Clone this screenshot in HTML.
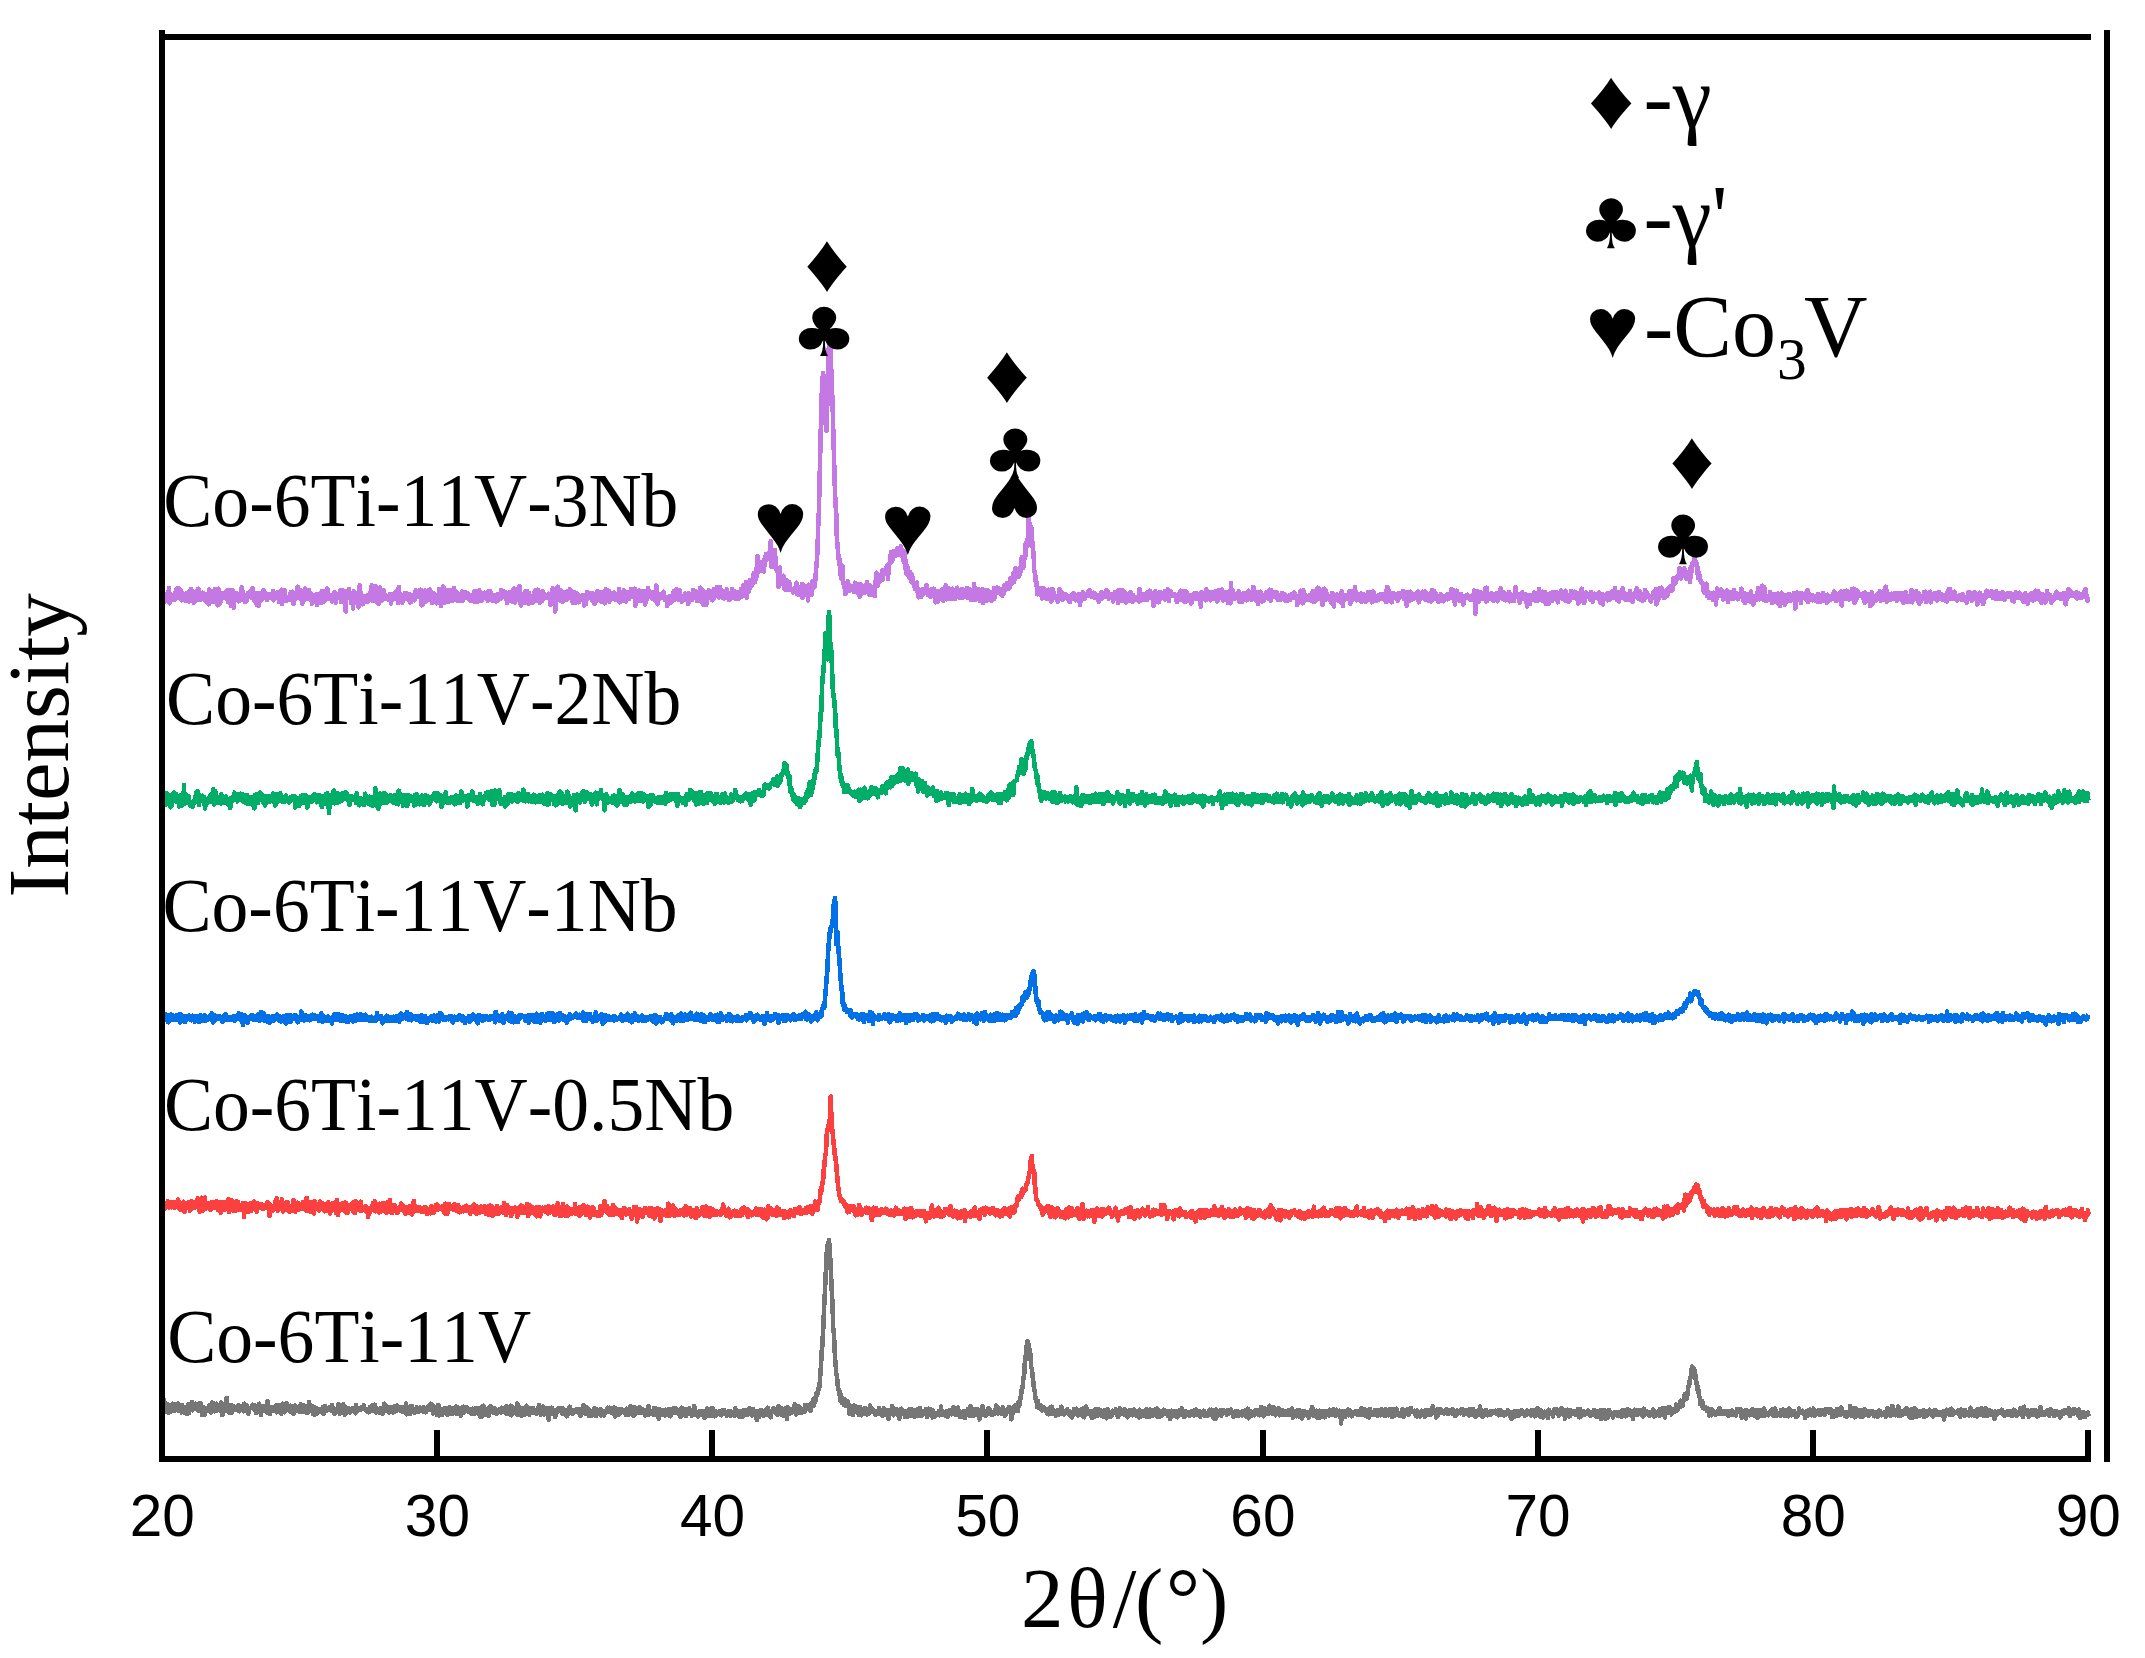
<!DOCTYPE html>
<html lang="en"><head><meta charset="utf-8"><title>XRD patterns</title>
<style>html,body{margin:0;padding:0;background:#fff}svg{display:block}text{fill:#000;font-kerning:none}.ser{font-family:"Liberation Serif",serif}.san{font-family:"Liberation Sans",sans-serif}</style></head><body>
<svg width="2145" height="1658" viewBox="0 0 2145 1658">
<rect width="2145" height="1658" fill="#fff"/>
<g id="curves" shape-rendering="crispEdges">
<polyline fill="none" stroke="#767676" stroke-width="4.6" stroke-linejoin="round" stroke-linecap="butt" points="163.5,1409.9 164.1,1399.6 164.7,1406.8 165.3,1411.5 165.9,1404.3 166.5,1407.8 167.1,1411.7 167.7,1404.5 168.3,1409.8 168.9,1412.8 169.5,1408.9 170.1,1412.1 170.7,1407.3 171.3,1406.6 171.9,1408.9 172.5,1403.8 173.1,1410.7 173.7,1407.8 174.3,1404.2 174.9,1410.8 175.5,1409.5 176.1,1406.9 176.7,1406.1 177.3,1408.8 177.9,1403.5 178.5,1404.7 179.1,1411.2 179.7,1408.7 180.3,1411.2 181.0,1408.4 181.6,1412.5 182.2,1405.1 182.8,1411.2 183.4,1410.6 184.0,1411.2 184.6,1412.4 185.2,1407.2 185.8,1408.3 186.4,1413.6 187.0,1411.7 187.6,1410.9 188.2,1404.5 188.8,1413.4 189.4,1409.6 190.0,1410.8 190.6,1403.6 191.2,1409.1 191.8,1402.0 192.4,1410.4 193.0,1408.3 193.6,1408.9 194.2,1405.6 194.8,1409.1 195.4,1407.9 196.0,1403.7 196.6,1409.0 197.2,1407.7 197.8,1404.3 198.4,1411.0 199.0,1404.6 199.6,1406.2 200.2,1403.1 200.8,1403.6 201.4,1409.4 202.0,1414.7 202.6,1406.6 203.2,1407.6 203.8,1407.5 204.4,1411.1 205.0,1414.8 205.6,1409.4 206.2,1407.9 206.8,1411.1 207.4,1410.3 208.0,1407.8 208.6,1408.7 209.2,1406.0 209.8,1408.7 210.4,1404.6 211.0,1412.4 211.6,1412.3 212.2,1402.6 212.8,1402.7 213.4,1405.9 214.0,1407.9 214.6,1411.2 215.3,1407.2 215.9,1411.1 216.5,1403.8 217.1,1407.4 217.7,1407.7 218.3,1405.2 218.9,1405.5 219.5,1409.9 220.1,1409.0 220.7,1410.8 221.3,1402.5 221.9,1415.0 222.5,1413.3 223.1,1414.1 223.7,1408.1 224.3,1406.4 224.9,1409.8 225.5,1408.7 226.1,1410.9 226.7,1397.8 227.3,1407.3 227.9,1408.9 228.5,1405.4 229.1,1405.3 229.7,1413.2 230.3,1409.8 230.9,1405.5 231.5,1413.0 232.1,1407.2 232.7,1405.7 233.3,1406.0 233.9,1406.5 234.5,1409.8 235.1,1408.1 235.7,1409.0 236.3,1406.9 236.9,1410.0 237.5,1406.2 238.1,1409.3 238.7,1405.3 239.3,1411.3 239.9,1410.3 240.5,1407.7 241.1,1408.9 241.7,1406.8 242.3,1407.3 242.9,1409.0 243.5,1411.3 244.1,1403.7 244.7,1407.5 245.3,1410.5 245.9,1405.2 246.5,1404.9 247.1,1411.2 247.7,1407.2 248.3,1413.7 248.9,1410.9 249.6,1408.8 250.2,1408.3 250.8,1408.2 251.4,1407.6 252.0,1407.3 252.6,1404.7 253.2,1406.4 253.8,1409.4 254.4,1405.7 255.0,1405.4 255.6,1406.5 256.2,1413.1 256.8,1412.4 257.4,1410.2 258.0,1407.1 258.6,1411.3 259.2,1403.7 259.8,1410.5 260.4,1409.0 261.0,1414.9 261.6,1410.4 262.2,1407.4 262.8,1409.3 263.4,1406.6 264.0,1409.8 264.6,1407.4 265.2,1410.7 265.8,1411.3 266.4,1405.5 267.0,1412.6 267.6,1401.2 268.2,1405.1 268.8,1410.8 269.4,1410.8 270.0,1413.9 270.6,1408.1 271.2,1408.5 271.8,1411.0 272.4,1407.1 273.0,1410.2 273.6,1407.1 274.2,1407.6 274.8,1411.1 275.4,1410.3 276.0,1406.3 276.6,1412.5 277.2,1404.9 277.8,1409.9 278.4,1410.8 279.0,1407.5 279.6,1405.4 280.2,1406.0 280.8,1409.3 281.4,1413.6 282.0,1408.1 282.6,1403.7 283.2,1407.3 283.9,1404.1 284.5,1412.3 285.1,1410.3 285.7,1410.2 286.3,1403.1 286.9,1404.4 287.5,1405.5 288.1,1408.1 288.7,1408.1 289.3,1407.2 289.9,1411.5 290.5,1405.8 291.1,1411.9 291.7,1410.4 292.3,1406.3 292.9,1407.7 293.5,1414.0 294.1,1409.9 294.7,1405.5 295.3,1408.5 295.9,1407.9 296.5,1410.7 297.1,1407.0 297.7,1411.1 298.3,1408.0 298.9,1407.3 299.5,1411.7 300.1,1409.9 300.7,1404.2 301.3,1409.4 301.9,1408.9 302.5,1409.9 303.1,1412.1 303.7,1405.0 304.3,1410.7 304.9,1408.0 305.5,1411.2 306.1,1406.6 306.7,1409.6 307.3,1413.1 307.9,1409.0 308.5,1411.1 309.1,1402.1 309.7,1405.9 310.3,1406.2 310.9,1408.3 311.5,1408.4 312.1,1410.9 312.7,1406.0 313.3,1414.3 313.9,1414.5 314.5,1407.3 315.1,1411.1 315.7,1414.2 316.3,1408.3 316.9,1409.9 317.5,1412.2 318.1,1412.4 318.8,1410.0 319.4,1409.0 320.0,1410.7 320.6,1409.0 321.2,1412.3 321.8,1408.8 322.4,1408.3 323.0,1407.1 323.6,1414.0 324.2,1408.1 324.8,1405.9 325.4,1410.8 326.0,1407.8 326.6,1411.0 327.2,1409.0 327.8,1409.4 328.4,1409.4 329.0,1410.1 329.6,1408.9 330.2,1407.0 330.8,1410.0 331.4,1410.6 332.0,1404.9 332.6,1408.2 333.2,1410.1 333.8,1411.3 334.4,1413.8 335.0,1411.8 335.6,1411.3 336.2,1409.6 336.8,1410.3 337.4,1409.2 338.0,1411.0 338.6,1404.0 339.2,1409.0 339.8,1413.8 340.4,1407.8 341.0,1405.7 341.6,1407.8 342.2,1409.0 342.8,1412.1 343.4,1404.2 344.0,1408.7 344.6,1414.6 345.2,1410.5 345.8,1407.2 346.4,1412.8 347.0,1409.7 347.6,1409.2 348.2,1409.6 348.8,1408.1 349.4,1412.0 350.0,1412.4 350.6,1410.1 351.2,1411.4 351.8,1409.7 352.4,1408.7 353.1,1409.9 353.7,1408.7 354.3,1409.4 354.9,1409.2 355.5,1413.4 356.1,1405.3 356.7,1408.5 357.3,1411.5 357.9,1407.7 358.5,1409.0 359.1,1409.6 359.7,1409.2 360.3,1409.9 360.9,1407.5 361.5,1408.3 362.1,1406.8 362.7,1408.5 363.3,1407.4 363.9,1405.3 364.5,1409.1 365.1,1409.6 365.7,1410.0 366.3,1409.7 366.9,1411.4 367.5,1410.3 368.1,1409.9 368.7,1412.3 369.3,1409.8 369.9,1407.4 370.5,1411.5 371.1,1409.8 371.7,1405.5 372.3,1408.5 372.9,1406.9 373.5,1410.5 374.1,1408.9 374.7,1404.6 375.3,1406.7 375.9,1412.6 376.5,1409.5 377.1,1409.8 377.7,1408.7 378.3,1409.6 378.9,1412.4 379.5,1410.4 380.1,1408.5 380.7,1409.6 381.3,1413.3 381.9,1410.9 382.5,1409.1 383.1,1413.4 383.7,1406.7 384.3,1403.7 384.9,1408.8 385.5,1410.0 386.1,1410.4 386.7,1405.9 387.4,1409.5 388.0,1408.5 388.6,1412.4 389.2,1412.2 389.8,1410.0 390.4,1407.3 391.0,1410.8 391.6,1409.9 392.2,1409.7 392.8,1410.2 393.4,1412.4 394.0,1407.5 394.6,1406.4 395.2,1410.4 395.8,1411.2 396.4,1410.0 397.0,1405.4 397.6,1409.2 398.2,1408.2 398.8,1409.7 399.4,1410.1 400.0,1407.0 400.6,1408.3 401.2,1407.4 401.8,1409.0 402.4,1412.2 403.0,1406.9 403.6,1410.7 404.2,1410.4 404.8,1407.4 405.4,1411.9 406.0,1403.4 406.6,1414.3 407.2,1412.9 407.8,1409.0 408.4,1407.1 409.0,1407.7 409.6,1406.8 410.2,1414.2 410.8,1406.7 411.4,1410.7 412.0,1406.0 412.6,1409.9 413.2,1411.1 413.8,1408.8 414.4,1412.8 415.0,1409.8 415.6,1411.5 416.2,1409.6 416.8,1407.3 417.4,1409.4 418.0,1411.0 418.6,1412.0 419.2,1408.6 419.8,1407.5 420.4,1409.3 421.0,1408.3 421.7,1409.6 422.3,1408.8 422.9,1410.7 423.5,1411.4 424.1,1407.3 424.7,1410.4 425.3,1408.5 425.9,1412.3 426.5,1408.0 427.1,1407.6 427.7,1406.6 428.3,1409.1 428.9,1409.9 429.5,1407.7 430.1,1409.9 430.7,1403.6 431.3,1410.2 431.9,1409.8 432.5,1404.6 433.1,1413.4 433.7,1411.1 434.3,1411.4 434.9,1412.7 435.5,1408.4 436.1,1406.8 436.7,1414.7 437.3,1408.4 437.9,1405.2 438.5,1405.1 439.1,1415.4 439.7,1410.3 440.3,1410.9 440.9,1410.6 441.5,1411.3 442.1,1415.1 442.7,1409.0 443.3,1412.8 443.9,1410.6 444.5,1408.9 445.1,1408.1 445.7,1409.9 446.3,1408.7 446.9,1412.7 447.5,1414.7 448.1,1411.6 448.7,1408.9 449.3,1406.9 449.9,1407.8 450.5,1412.6 451.1,1412.1 451.7,1413.6 452.3,1407.9 452.9,1410.2 453.5,1413.5 454.1,1411.2 454.7,1407.7 455.3,1408.1 456.0,1406.5 456.6,1407.0 457.2,1413.9 457.8,1407.5 458.4,1413.9 459.0,1413.1 459.6,1411.4 460.2,1408.4 460.8,1415.8 461.4,1412.6 462.0,1413.2 462.6,1410.6 463.2,1406.7 463.8,1412.6 464.4,1412.3 465.0,1407.0 465.6,1410.4 466.2,1411.0 466.8,1407.2 467.4,1410.8 468.0,1410.5 468.6,1411.5 469.2,1410.3 469.8,1409.5 470.4,1409.9 471.0,1409.2 471.6,1414.1 472.2,1411.5 472.8,1408.7 473.4,1410.1 474.0,1413.0 474.6,1413.7 475.2,1408.6 475.8,1412.5 476.4,1412.2 477.0,1412.0 477.6,1408.5 478.2,1413.8 478.8,1409.6 479.4,1407.9 480.0,1416.4 480.6,1411.8 481.2,1412.0 481.8,1416.5 482.4,1406.4 483.0,1408.8 483.6,1405.7 484.2,1409.6 484.8,1415.0 485.4,1411.9 486.0,1412.6 486.6,1409.0 487.2,1408.7 487.8,1408.5 488.4,1415.9 489.0,1411.2 489.6,1412.6 490.3,1406.1 490.9,1412.1 491.5,1406.9 492.1,1410.2 492.7,1412.3 493.3,1411.9 493.9,1412.5 494.5,1408.9 495.1,1408.6 495.7,1411.9 496.3,1414.0 496.9,1410.6 497.5,1411.0 498.1,1411.1 498.7,1410.0 499.3,1411.3 499.9,1409.3 500.5,1410.2 501.1,1412.4 501.7,1407.8 502.3,1410.4 502.9,1410.6 503.5,1410.8 504.1,1409.2 504.7,1411.0 505.3,1412.3 505.9,1413.3 506.5,1406.1 507.1,1411.6 507.7,1409.7 508.3,1414.2 508.9,1408.2 509.5,1409.8 510.1,1411.4 510.7,1405.7 511.3,1415.3 511.9,1413.0 512.5,1409.9 513.1,1407.3 513.7,1411.4 514.3,1412.3 514.9,1412.4 515.5,1412.4 516.1,1413.8 516.7,1413.2 517.3,1403.4 517.9,1415.2 518.5,1413.7 519.1,1409.5 519.7,1411.1 520.3,1413.1 520.9,1407.7 521.5,1415.6 522.1,1410.0 522.7,1411.0 523.3,1408.6 523.9,1411.5 524.6,1415.1 525.2,1414.2 525.8,1410.6 526.4,1405.8 527.0,1410.2 527.6,1409.0 528.2,1410.9 528.8,1407.9 529.4,1414.6 530.0,1412.3 530.6,1410.3 531.2,1409.9 531.8,1411.3 532.4,1413.1 533.0,1408.2 533.6,1409.7 534.2,1411.0 534.8,1410.4 535.4,1413.0 536.0,1410.9 536.6,1413.8 537.2,1409.4 537.8,1408.2 538.4,1410.4 539.0,1405.2 539.6,1409.5 540.2,1413.0 540.8,1414.7 541.4,1407.9 542.0,1410.7 542.6,1412.2 543.2,1406.6 543.8,1414.5 544.4,1412.8 545.0,1413.8 545.6,1413.6 546.2,1409.4 546.8,1408.0 547.4,1411.8 548.0,1412.6 548.6,1419.6 549.2,1408.0 549.8,1408.4 550.4,1411.3 551.0,1409.8 551.6,1407.6 552.2,1409.1 552.8,1413.8 553.4,1411.0 554.0,1413.0 554.6,1411.4 555.2,1417.1 555.8,1410.0 556.4,1412.8 557.0,1409.9 557.6,1409.1 558.2,1408.7 558.9,1408.2 559.5,1409.8 560.1,1409.7 560.7,1408.4 561.3,1409.2 561.9,1412.9 562.5,1408.4 563.1,1414.0 563.7,1413.3 564.3,1411.5 564.9,1410.7 565.5,1414.6 566.1,1414.6 566.7,1416.3 567.3,1415.1 567.9,1411.8 568.5,1408.6 569.1,1410.2 569.7,1406.8 570.3,1410.5 570.9,1410.6 571.5,1412.8 572.1,1409.8 572.7,1413.8 573.3,1413.0 573.9,1410.5 574.5,1411.4 575.1,1410.0 575.7,1411.0 576.3,1410.1 576.9,1409.0 577.5,1409.8 578.1,1412.6 578.7,1408.9 579.3,1409.1 579.9,1410.9 580.5,1416.1 581.1,1412.8 581.7,1411.3 582.3,1413.5 582.9,1412.4 583.5,1405.0 584.1,1411.7 584.7,1413.1 585.3,1414.0 585.9,1413.4 586.5,1413.4 587.1,1407.4 587.7,1410.3 588.3,1411.7 588.9,1415.8 589.5,1409.8 590.1,1413.7 590.7,1414.2 591.3,1415.7 591.9,1413.5 592.5,1415.2 593.1,1412.4 593.8,1409.2 594.4,1408.3 595.0,1413.2 595.6,1408.6 596.2,1416.0 596.8,1414.1 597.4,1412.6 598.0,1410.9 598.6,1411.7 599.2,1414.0 599.8,1412.6 600.4,1409.1 601.0,1415.5 601.6,1411.4 602.2,1410.5 602.8,1411.9 603.4,1411.5 604.0,1415.4 604.6,1412.2 605.2,1410.9 605.8,1411.8 606.4,1412.4 607.0,1409.2 607.6,1407.7 608.2,1410.2 608.8,1411.8 609.4,1407.6 610.0,1407.9 610.6,1410.5 611.2,1412.0 611.8,1412.8 612.4,1409.2 613.0,1413.6 613.6,1407.5 614.2,1410.8 614.8,1411.2 615.4,1416.5 616.0,1413.8 616.6,1408.6 617.2,1413.3 617.8,1411.0 618.4,1411.7 619.0,1414.3 619.6,1411.1 620.2,1409.1 620.8,1411.3 621.4,1412.4 622.0,1411.6 622.6,1409.6 623.2,1410.8 623.8,1411.1 624.4,1411.4 625.0,1413.5 625.6,1414.4 626.2,1410.9 626.8,1408.8 627.4,1412.7 628.1,1409.9 628.7,1415.0 629.3,1412.5 629.9,1413.2 630.5,1406.2 631.1,1411.2 631.7,1413.2 632.3,1408.1 632.9,1411.3 633.5,1416.0 634.1,1413.1 634.7,1407.3 635.3,1413.7 635.9,1413.3 636.5,1413.3 637.1,1412.3 637.7,1412.2 638.3,1410.9 638.9,1410.0 639.5,1407.4 640.1,1412.7 640.7,1412.3 641.3,1411.4 641.9,1412.7 642.5,1413.0 643.1,1409.6 643.7,1411.5 644.3,1412.9 644.9,1415.4 645.5,1411.0 646.1,1412.2 646.7,1410.3 647.3,1410.3 647.9,1414.9 648.5,1406.1 649.1,1414.2 649.7,1410.1 650.3,1410.7 650.9,1411.9 651.5,1412.2 652.1,1413.5 652.7,1414.3 653.3,1414.5 653.9,1408.1 654.5,1411.9 655.1,1413.1 655.7,1412.9 656.3,1408.4 656.9,1415.5 657.5,1414.1 658.1,1411.7 658.7,1419.0 659.3,1409.3 659.9,1411.2 660.5,1411.5 661.1,1413.3 661.7,1410.3 662.4,1410.4 663.0,1414.7 663.6,1411.5 664.2,1414.3 664.8,1415.4 665.4,1411.4 666.0,1409.8 666.6,1410.9 667.2,1413.3 667.8,1414.8 668.4,1412.8 669.0,1409.2 669.6,1412.7 670.2,1416.3 670.8,1415.9 671.4,1410.5 672.0,1412.8 672.6,1413.1 673.2,1408.4 673.8,1413.1 674.4,1408.0 675.0,1408.3 675.6,1410.0 676.2,1408.5 676.8,1412.3 677.4,1412.9 678.0,1410.5 678.6,1411.2 679.2,1414.8 679.8,1412.7 680.4,1417.0 681.0,1415.3 681.6,1407.7 682.2,1411.4 682.8,1410.0 683.4,1408.8 684.0,1414.7 684.6,1412.1 685.2,1409.2 685.8,1415.8 686.4,1415.8 687.0,1411.6 687.6,1413.6 688.2,1410.9 688.8,1412.1 689.4,1408.4 690.0,1411.3 690.6,1412.7 691.2,1410.3 691.8,1415.7 692.4,1409.7 693.0,1412.9 693.6,1412.8 694.2,1406.0 694.8,1415.0 695.4,1412.6 696.0,1414.7 696.7,1412.7 697.3,1413.1 697.9,1416.5 698.5,1412.3 699.1,1413.1 699.7,1410.9 700.3,1412.9 700.9,1411.9 701.5,1412.2 702.1,1415.3 702.7,1411.0 703.3,1412.3 703.9,1411.3 704.5,1418.1 705.1,1412.2 705.7,1411.4 706.3,1412.6 706.9,1408.6 707.5,1415.9 708.1,1409.9 708.7,1410.1 709.3,1413.7 709.9,1409.4 710.5,1415.7 711.1,1412.8 711.7,1415.7 712.3,1407.9 712.9,1411.8 713.5,1413.5 714.1,1410.5 714.7,1416.4 715.3,1412.8 715.9,1411.7 716.5,1412.9 717.1,1414.5 717.7,1412.4 718.3,1412.5 718.9,1411.7 719.5,1413.7 720.1,1412.5 720.7,1412.2 721.3,1415.3 721.9,1411.7 722.5,1409.9 723.1,1411.8 723.7,1411.0 724.3,1410.3 724.9,1414.0 725.5,1412.4 726.1,1412.6 726.7,1415.8 727.3,1414.0 727.9,1413.0 728.5,1411.4 729.1,1414.8 729.7,1411.4 730.3,1415.8 731.0,1415.0 731.6,1411.8 732.2,1414.9 732.8,1414.2 733.4,1412.5 734.0,1413.5 734.6,1415.6 735.2,1408.3 735.8,1413.1 736.4,1413.6 737.0,1413.4 737.6,1410.7 738.2,1411.7 738.8,1412.0 739.4,1416.9 740.0,1410.7 740.6,1414.4 741.2,1415.1 741.8,1412.4 742.4,1417.2 743.0,1412.0 743.6,1410.5 744.2,1411.4 744.8,1413.0 745.4,1414.7 746.0,1409.8 746.6,1410.1 747.2,1415.1 747.8,1413.9 748.4,1410.9 749.0,1409.4 749.6,1408.1 750.2,1410.0 750.8,1414.3 751.4,1410.9 752.0,1415.4 752.6,1412.7 753.2,1409.3 753.8,1414.8 754.4,1412.7 755.0,1412.5 755.6,1414.3 756.2,1411.1 756.8,1420.0 757.4,1411.0 758.0,1412.2 758.6,1412.5 759.2,1417.1 759.8,1413.4 760.4,1410.2 761.0,1415.0 761.6,1412.0 762.2,1412.2 762.8,1410.7 763.4,1415.6 764.0,1413.6 764.6,1411.1 765.3,1411.7 765.9,1414.8 766.5,1409.1 767.1,1414.9 767.7,1407.7 768.3,1413.5 768.9,1411.5 769.5,1413.5 770.1,1412.0 770.7,1417.2 771.3,1411.6 771.9,1410.8 772.5,1412.3 773.1,1409.8 773.7,1408.2 774.3,1410.8 774.9,1411.6 775.5,1409.2 776.1,1413.0 776.7,1410.8 777.3,1414.7 777.9,1413.3 778.5,1406.0 779.1,1412.1 779.7,1412.1 780.3,1408.0 780.9,1414.4 781.5,1408.2 782.1,1410.7 782.7,1410.6 783.3,1415.5 783.9,1409.2 784.5,1413.1 785.1,1411.3 785.7,1411.3 786.3,1407.9 786.9,1419.1 787.5,1407.1 788.1,1410.1 788.7,1414.3 789.3,1410.6 789.9,1412.0 790.5,1409.4 791.1,1412.8 791.7,1412.5 792.3,1412.5 792.9,1409.5 793.5,1409.6 794.1,1409.7 794.7,1404.1 795.3,1409.5 795.9,1414.5 796.5,1407.4 797.1,1412.6 797.7,1410.2 798.3,1409.8 798.9,1406.3 799.6,1413.1 800.2,1407.9 800.8,1410.1 801.4,1412.1 802.0,1412.4 802.6,1410.1 803.2,1409.6 803.8,1408.6 804.4,1412.2 805.0,1405.2 805.6,1407.8 806.2,1407.3 806.8,1408.9 807.4,1408.3 808.0,1408.8 808.6,1405.2 809.2,1405.5 809.8,1408.6 810.4,1410.9 811.0,1405.1 811.6,1403.4 812.2,1406.4 812.8,1404.0 813.4,1398.8 814.0,1405.7 814.6,1400.9 815.2,1402.3 815.8,1396.9 816.4,1392.8 817.0,1395.5 817.6,1393.3 818.2,1391.2 818.8,1387.2 819.4,1386.7 820.0,1379.4 820.6,1371.3 821.2,1361.2 821.8,1350.0 822.4,1345.6 823.0,1332.5 823.6,1321.1 824.2,1305.6 824.8,1294.5 825.4,1281.3 826.0,1268.0 826.6,1256.0 827.2,1245.6 827.8,1244.7 828.4,1243.1 829.0,1240.0 829.6,1248.0 830.2,1257.8 830.8,1269.9 831.4,1282.7 832.0,1294.8 832.6,1305.6 833.2,1327.8 833.9,1333.3 834.5,1345.6 835.1,1359.4 835.7,1365.6 836.3,1375.0 836.9,1375.0 837.5,1382.6 838.1,1389.6 838.7,1389.8 839.3,1391.1 839.9,1396.6 840.5,1400.9 841.1,1394.7 841.7,1402.8 842.3,1403.0 842.9,1399.6 843.5,1401.9 844.1,1405.1 844.7,1399.3 845.3,1404.6 845.9,1406.1 846.5,1405.1 847.1,1405.7 847.7,1401.2 848.3,1403.2 848.9,1406.4 849.5,1414.1 850.1,1408.2 850.7,1409.3 851.3,1408.7 851.9,1410.5 852.5,1406.1 853.1,1414.8 853.7,1407.9 854.3,1405.6 854.9,1408.7 855.5,1410.3 856.1,1410.4 856.7,1406.7 857.3,1411.2 857.9,1409.4 858.5,1414.5 859.1,1409.9 859.7,1414.7 860.3,1407.0 860.9,1411.3 861.5,1415.3 862.1,1413.8 862.7,1413.1 863.3,1411.6 863.9,1412.8 864.5,1413.8 865.1,1407.9 865.7,1413.3 866.3,1413.4 866.9,1409.7 867.5,1414.5 868.1,1409.4 868.8,1410.3 869.4,1413.3 870.0,1405.6 870.6,1409.9 871.2,1408.4 871.8,1410.2 872.4,1408.6 873.0,1410.3 873.6,1411.7 874.2,1412.9 874.8,1413.0 875.4,1415.1 876.0,1414.6 876.6,1414.4 877.2,1410.9 877.8,1412.0 878.4,1413.7 879.0,1408.1 879.6,1410.7 880.2,1411.6 880.8,1410.5 881.4,1412.2 882.0,1412.1 882.6,1416.1 883.2,1411.1 883.8,1408.2 884.4,1408.9 885.0,1409.5 885.6,1412.4 886.2,1414.3 886.8,1413.3 887.4,1410.1 888.0,1413.5 888.6,1419.1 889.2,1411.4 889.8,1411.8 890.4,1414.3 891.0,1413.5 891.6,1409.7 892.2,1405.8 892.8,1408.8 893.4,1415.3 894.0,1408.9 894.6,1412.5 895.2,1412.1 895.8,1410.7 896.4,1409.2 897.0,1411.1 897.6,1410.9 898.2,1415.4 898.8,1412.7 899.4,1418.6 900.0,1415.3 900.6,1413.3 901.2,1408.7 901.8,1412.2 902.4,1409.8 903.1,1412.7 903.7,1410.8 904.3,1411.0 904.9,1416.8 905.5,1412.2 906.1,1412.9 906.7,1411.4 907.3,1412.9 907.9,1416.8 908.5,1409.7 909.1,1412.6 909.7,1411.6 910.3,1414.2 910.9,1409.2 911.5,1416.0 912.1,1414.0 912.7,1413.2 913.3,1410.2 913.9,1412.9 914.5,1416.8 915.1,1414.3 915.7,1410.7 916.3,1410.4 916.9,1409.5 917.5,1415.6 918.1,1410.6 918.7,1411.2 919.3,1413.2 919.9,1408.1 920.5,1412.3 921.1,1416.1 921.7,1416.1 922.3,1414.0 922.9,1411.0 923.5,1413.9 924.1,1412.5 924.7,1412.7 925.3,1414.3 925.9,1409.0 926.5,1409.6 927.1,1417.3 927.7,1410.1 928.3,1412.7 928.9,1408.7 929.5,1412.9 930.1,1413.6 930.7,1409.1 931.3,1415.8 931.9,1412.1 932.5,1417.5 933.1,1410.4 933.7,1414.1 934.3,1416.4 934.9,1415.7 935.5,1416.2 936.1,1414.9 936.7,1413.0 937.4,1414.8 938.0,1413.9 938.6,1411.4 939.2,1414.2 939.8,1415.3 940.4,1414.7 941.0,1406.4 941.6,1412.7 942.2,1412.8 942.8,1413.4 943.4,1414.5 944.0,1415.3 944.6,1415.3 945.2,1413.6 945.8,1415.9 946.4,1411.0 947.0,1413.7 947.6,1417.0 948.2,1414.0 948.8,1410.8 949.4,1413.1 950.0,1412.6 950.6,1410.3 951.2,1412.9 951.8,1414.2 952.4,1410.3 953.0,1414.2 953.6,1407.0 954.2,1411.2 954.8,1413.6 955.4,1413.6 956.0,1414.8 956.6,1412.1 957.2,1411.4 957.8,1407.6 958.4,1411.1 959.0,1410.3 959.6,1416.6 960.2,1414.3 960.8,1413.2 961.4,1415.3 962.0,1416.5 962.6,1414.8 963.2,1411.8 963.8,1411.0 964.4,1414.9 965.0,1418.1 965.6,1414.3 966.2,1411.5 966.8,1414.1 967.4,1410.9 968.0,1408.8 968.6,1413.5 969.2,1411.4 969.8,1416.2 970.4,1406.0 971.0,1411.4 971.7,1413.1 972.3,1411.8 972.9,1412.6 973.5,1415.7 974.1,1409.3 974.7,1409.8 975.3,1409.7 975.9,1415.1 976.5,1411.6 977.1,1412.8 977.7,1409.0 978.3,1409.8 978.9,1412.0 979.5,1419.5 980.1,1410.9 980.7,1410.1 981.3,1414.6 981.9,1413.6 982.5,1406.3 983.1,1413.3 983.7,1410.7 984.3,1413.2 984.9,1412.2 985.5,1415.9 986.1,1412.6 986.7,1410.6 987.3,1413.8 987.9,1409.1 988.5,1408.3 989.1,1412.9 989.7,1409.4 990.3,1413.8 990.9,1413.1 991.5,1412.4 992.1,1414.8 992.7,1414.3 993.3,1413.4 993.9,1413.8 994.5,1413.5 995.1,1413.1 995.7,1409.4 996.3,1405.5 996.9,1407.9 997.5,1409.9 998.1,1413.4 998.7,1408.0 999.3,1411.2 999.9,1411.5 1000.5,1412.5 1001.1,1413.5 1001.7,1411.6 1002.3,1412.0 1002.9,1407.4 1003.5,1409.8 1004.1,1410.5 1004.7,1415.7 1005.3,1415.0 1006.0,1414.6 1006.6,1411.7 1007.2,1410.9 1007.8,1409.1 1008.4,1410.2 1009.0,1406.8 1009.6,1409.0 1010.2,1408.5 1010.8,1409.9 1011.4,1419.3 1012.0,1414.0 1012.6,1407.6 1013.2,1413.3 1013.8,1407.7 1014.4,1406.2 1015.0,1408.8 1015.6,1406.9 1016.2,1405.0 1016.8,1406.0 1017.4,1406.1 1018.0,1411.0 1018.6,1401.9 1019.2,1401.9 1019.8,1404.7 1020.4,1397.2 1021.0,1395.3 1021.6,1390.4 1022.2,1388.8 1022.8,1385.6 1023.4,1377.6 1024.0,1378.7 1024.6,1364.5 1025.2,1361.2 1025.8,1355.0 1026.4,1350.5 1027.0,1342.3 1027.6,1341.5 1028.2,1342.9 1028.8,1347.4 1029.4,1349.3 1030.0,1351.7 1030.6,1356.6 1031.2,1367.8 1031.8,1368.1 1032.4,1374.6 1033.0,1379.6 1033.6,1384.9 1034.2,1389.4 1034.8,1391.7 1035.4,1398.0 1036.0,1400.1 1036.6,1401.0 1037.2,1407.0 1037.8,1400.7 1038.4,1405.3 1039.0,1407.8 1039.6,1404.8 1040.3,1408.7 1040.9,1407.4 1041.5,1405.6 1042.1,1410.5 1042.7,1406.8 1043.3,1407.9 1043.9,1409.0 1044.5,1408.3 1045.1,1408.4 1045.7,1409.4 1046.3,1409.1 1046.9,1413.2 1047.5,1410.4 1048.1,1414.3 1048.7,1410.1 1049.3,1413.5 1049.9,1409.4 1050.5,1407.5 1051.1,1411.0 1051.7,1406.8 1052.3,1414.1 1052.9,1412.7 1053.5,1412.3 1054.1,1410.7 1054.7,1411.7 1055.3,1410.9 1055.9,1415.7 1056.5,1412.8 1057.1,1410.5 1057.7,1410.0 1058.3,1414.1 1058.9,1412.0 1059.5,1414.5 1060.1,1412.5 1060.7,1414.1 1061.3,1406.7 1061.9,1413.3 1062.5,1410.4 1063.1,1414.2 1063.7,1414.4 1064.3,1413.6 1064.9,1412.3 1065.5,1412.4 1066.1,1412.6 1066.7,1412.7 1067.3,1409.2 1067.9,1413.5 1068.5,1412.8 1069.1,1411.3 1069.7,1415.3 1070.3,1411.6 1070.9,1413.9 1071.5,1415.0 1072.1,1417.3 1072.7,1412.6 1073.3,1414.2 1073.9,1408.8 1074.6,1412.4 1075.2,1411.4 1075.8,1413.3 1076.4,1408.7 1077.0,1414.3 1077.6,1413.8 1078.2,1415.4 1078.8,1412.8 1079.4,1412.5 1080.0,1412.8 1080.6,1414.1 1081.2,1409.3 1081.8,1415.4 1082.4,1411.8 1083.0,1408.5 1083.6,1413.5 1084.2,1417.3 1084.8,1411.3 1085.4,1410.3 1086.0,1406.5 1086.6,1408.6 1087.2,1413.5 1087.8,1411.0 1088.4,1413.9 1089.0,1411.2 1089.6,1414.2 1090.2,1411.0 1090.8,1415.7 1091.4,1411.4 1092.0,1417.8 1092.6,1411.6 1093.2,1411.7 1093.8,1415.8 1094.4,1416.7 1095.0,1410.4 1095.6,1409.0 1096.2,1415.7 1096.8,1411.7 1097.4,1409.9 1098.0,1415.7 1098.6,1409.2 1099.2,1412.8 1099.8,1414.0 1100.4,1414.8 1101.0,1415.3 1101.6,1410.7 1102.2,1413.8 1102.8,1413.8 1103.4,1416.4 1104.0,1414.9 1104.6,1410.3 1105.2,1409.9 1105.8,1411.7 1106.4,1418.3 1107.0,1412.6 1107.6,1409.1 1108.2,1413.3 1108.9,1415.2 1109.5,1413.7 1110.1,1412.3 1110.7,1416.8 1111.3,1415.4 1111.9,1415.7 1112.5,1410.6 1113.1,1411.2 1113.7,1411.3 1114.3,1412.7 1114.9,1413.1 1115.5,1409.5 1116.1,1410.4 1116.7,1413.3 1117.3,1413.8 1117.9,1417.0 1118.5,1413.0 1119.1,1415.2 1119.7,1408.4 1120.3,1413.8 1120.9,1409.4 1121.5,1410.8 1122.1,1413.2 1122.7,1413.1 1123.3,1411.3 1123.9,1414.5 1124.5,1408.9 1125.1,1411.7 1125.7,1413.3 1126.3,1411.7 1126.9,1413.4 1127.5,1417.4 1128.1,1411.6 1128.7,1412.6 1129.3,1410.7 1129.9,1410.0 1130.5,1412.4 1131.1,1415.1 1131.7,1411.0 1132.3,1415.4 1132.9,1413.6 1133.5,1410.2 1134.1,1409.6 1134.7,1410.0 1135.3,1413.7 1135.9,1412.3 1136.5,1415.6 1137.1,1412.5 1137.7,1413.5 1138.3,1414.8 1138.9,1417.4 1139.5,1409.6 1140.1,1417.0 1140.7,1413.0 1141.3,1414.8 1141.9,1412.0 1142.5,1416.0 1143.1,1411.1 1143.8,1413.9 1144.4,1414.0 1145.0,1415.3 1145.6,1410.2 1146.2,1409.1 1146.8,1417.0 1147.4,1415.8 1148.0,1412.4 1148.6,1412.9 1149.2,1410.2 1149.8,1416.9 1150.4,1409.5 1151.0,1414.1 1151.6,1412.9 1152.2,1415.4 1152.8,1415.6 1153.4,1410.5 1154.0,1410.8 1154.6,1413.6 1155.2,1409.3 1155.8,1415.3 1156.4,1414.3 1157.0,1408.5 1157.6,1417.0 1158.2,1411.1 1158.8,1415.0 1159.4,1410.7 1160.0,1416.4 1160.6,1412.4 1161.2,1411.1 1161.8,1415.5 1162.4,1412.1 1163.0,1410.8 1163.6,1409.7 1164.2,1413.5 1164.8,1413.9 1165.4,1411.9 1166.0,1411.8 1166.6,1412.8 1167.2,1411.3 1167.8,1415.7 1168.4,1415.7 1169.0,1410.9 1169.6,1411.6 1170.2,1418.9 1170.8,1414.4 1171.4,1410.8 1172.0,1413.8 1172.6,1411.7 1173.2,1411.9 1173.8,1415.6 1174.4,1411.5 1175.0,1411.6 1175.6,1412.4 1176.2,1414.3 1176.8,1412.3 1177.4,1417.4 1178.1,1411.3 1178.7,1415.3 1179.3,1410.6 1179.9,1410.0 1180.5,1412.5 1181.1,1412.4 1181.7,1408.4 1182.3,1410.3 1182.9,1414.8 1183.5,1416.0 1184.1,1417.1 1184.7,1416.1 1185.3,1411.4 1185.9,1413.6 1186.5,1413.3 1187.1,1411.8 1187.7,1414.9 1188.3,1412.9 1188.9,1415.4 1189.5,1415.0 1190.1,1415.5 1190.7,1414.3 1191.3,1411.4 1191.9,1411.0 1192.5,1413.7 1193.1,1413.0 1193.7,1415.5 1194.3,1410.0 1194.9,1415.1 1195.5,1413.3 1196.1,1409.6 1196.7,1415.0 1197.3,1413.7 1197.9,1411.9 1198.5,1411.3 1199.1,1415.4 1199.7,1411.2 1200.3,1416.7 1200.9,1412.4 1201.5,1414.0 1202.1,1413.4 1202.7,1413.3 1203.3,1413.8 1203.9,1410.7 1204.5,1416.2 1205.1,1414.8 1205.7,1414.3 1206.3,1413.1 1206.9,1413.0 1207.5,1416.0 1208.1,1412.8 1208.7,1412.0 1209.3,1410.9 1209.9,1409.8 1210.5,1414.9 1211.1,1413.8 1211.7,1409.8 1212.4,1413.0 1213.0,1413.5 1213.6,1418.5 1214.2,1413.8 1214.8,1415.1 1215.4,1419.2 1216.0,1409.6 1216.6,1416.9 1217.2,1414.2 1217.8,1413.6 1218.4,1411.1 1219.0,1412.4 1219.6,1415.1 1220.2,1410.7 1220.8,1410.3 1221.4,1415.7 1222.0,1412.6 1222.6,1412.4 1223.2,1409.9 1223.8,1412.6 1224.4,1412.6 1225.0,1412.6 1225.6,1412.4 1226.2,1413.3 1226.8,1414.7 1227.4,1410.3 1228.0,1412.9 1228.6,1413.4 1229.2,1411.8 1229.8,1412.1 1230.4,1409.6 1231.0,1409.4 1231.6,1411.5 1232.2,1412.8 1232.8,1414.2 1233.4,1417.0 1234.0,1414.0 1234.6,1415.6 1235.2,1411.6 1235.8,1412.4 1236.4,1411.8 1237.0,1411.0 1237.6,1416.1 1238.2,1411.7 1238.8,1412.5 1239.4,1415.5 1240.0,1412.1 1240.6,1413.8 1241.2,1414.9 1241.8,1415.6 1242.4,1413.9 1243.0,1411.2 1243.6,1412.1 1244.2,1413.2 1244.8,1411.6 1245.4,1410.6 1246.0,1414.9 1246.7,1416.9 1247.3,1413.1 1247.9,1408.7 1248.5,1418.5 1249.1,1412.3 1249.7,1412.9 1250.3,1413.7 1250.9,1411.7 1251.5,1415.7 1252.1,1414.5 1252.7,1415.1 1253.3,1413.7 1253.9,1412.6 1254.5,1415.3 1255.1,1410.6 1255.7,1410.8 1256.3,1413.4 1256.9,1413.1 1257.5,1410.0 1258.1,1410.5 1258.7,1410.6 1259.3,1415.4 1259.9,1410.9 1260.5,1410.0 1261.1,1407.2 1261.7,1413.0 1262.3,1410.4 1262.9,1412.0 1263.5,1416.3 1264.1,1413.3 1264.7,1408.2 1265.3,1414.3 1265.9,1409.2 1266.5,1411.3 1267.1,1414.0 1267.7,1410.5 1268.3,1409.0 1268.9,1413.8 1269.5,1405.8 1270.1,1410.4 1270.7,1412.7 1271.3,1412.1 1271.9,1407.6 1272.5,1412.1 1273.1,1414.2 1273.7,1407.5 1274.3,1412.2 1274.9,1412.6 1275.5,1415.2 1276.1,1414.2 1276.7,1410.8 1277.3,1410.6 1277.9,1413.2 1278.5,1408.1 1279.1,1414.7 1279.7,1415.2 1280.3,1414.6 1281.0,1411.8 1281.6,1411.1 1282.2,1410.0 1282.8,1412.0 1283.4,1414.7 1284.0,1412.1 1284.6,1411.1 1285.2,1414.4 1285.8,1412.2 1286.4,1413.2 1287.0,1411.2 1287.6,1414.9 1288.2,1413.8 1288.8,1410.1 1289.4,1415.2 1290.0,1412.2 1290.6,1414.2 1291.2,1413.4 1291.8,1408.5 1292.4,1411.3 1293.0,1417.7 1293.6,1412.6 1294.2,1411.7 1294.8,1411.7 1295.4,1411.0 1296.0,1412.9 1296.6,1416.4 1297.2,1411.5 1297.8,1409.9 1298.4,1413.1 1299.0,1409.9 1299.6,1412.5 1300.2,1417.0 1300.8,1415.0 1301.4,1411.4 1302.0,1418.6 1302.6,1412.3 1303.2,1416.1 1303.8,1412.5 1304.4,1411.0 1305.0,1411.7 1305.6,1412.3 1306.2,1414.9 1306.8,1413.2 1307.4,1415.1 1308.0,1411.9 1308.6,1417.6 1309.2,1417.0 1309.8,1412.4 1310.4,1412.6 1311.0,1412.3 1311.6,1409.1 1312.2,1406.8 1312.8,1412.4 1313.4,1411.7 1314.0,1416.0 1314.6,1412.8 1315.3,1416.1 1315.9,1414.3 1316.5,1410.8 1317.1,1417.6 1317.7,1415.3 1318.3,1413.5 1318.9,1418.0 1319.5,1410.6 1320.1,1415.5 1320.7,1416.5 1321.3,1414.7 1321.9,1416.3 1322.5,1411.1 1323.1,1413.3 1323.7,1413.9 1324.3,1412.7 1324.9,1417.3 1325.5,1411.1 1326.1,1415.6 1326.7,1413.0 1327.3,1414.3 1327.9,1413.4 1328.5,1411.8 1329.1,1415.5 1329.7,1409.7 1330.3,1413.1 1330.9,1415.1 1331.5,1411.4 1332.1,1413.8 1332.7,1412.7 1333.3,1409.0 1333.9,1413.3 1334.5,1415.0 1335.1,1412.6 1335.7,1416.1 1336.3,1409.8 1336.9,1412.9 1337.5,1414.8 1338.1,1412.3 1338.7,1413.1 1339.3,1411.6 1339.9,1410.8 1340.5,1414.5 1341.1,1423.5 1341.7,1412.4 1342.3,1413.6 1342.9,1414.9 1343.5,1411.4 1344.1,1416.0 1344.7,1413.1 1345.3,1416.9 1345.9,1413.5 1346.5,1410.8 1347.1,1414.9 1347.7,1409.5 1348.3,1415.4 1348.9,1410.5 1349.6,1410.6 1350.2,1411.0 1350.8,1415.3 1351.4,1412.1 1352.0,1416.3 1352.6,1414.8 1353.2,1413.5 1353.8,1414.0 1354.4,1412.2 1355.0,1413.0 1355.6,1411.0 1356.2,1413.0 1356.8,1411.0 1357.4,1414.5 1358.0,1413.4 1358.6,1413.0 1359.2,1415.1 1359.8,1411.0 1360.4,1415.2 1361.0,1414.1 1361.6,1408.2 1362.2,1412.9 1362.8,1413.7 1363.4,1411.4 1364.0,1415.2 1364.6,1409.2 1365.2,1411.3 1365.8,1410.9 1366.4,1416.4 1367.0,1414.1 1367.6,1410.0 1368.2,1416.8 1368.8,1417.3 1369.4,1416.2 1370.0,1409.3 1370.6,1411.6 1371.2,1412.9 1371.8,1413.6 1372.4,1414.5 1373.0,1413.1 1373.6,1415.0 1374.2,1413.3 1374.8,1410.3 1375.4,1412.5 1376.0,1410.4 1376.6,1411.8 1377.2,1414.9 1377.8,1415.8 1378.4,1414.8 1379.0,1410.0 1379.6,1411.0 1380.2,1414.3 1380.8,1415.2 1381.4,1409.3 1382.0,1409.5 1382.6,1412.3 1383.2,1413.4 1383.9,1413.8 1384.5,1411.3 1385.1,1416.1 1385.7,1408.9 1386.3,1413.2 1386.9,1413.9 1387.5,1414.6 1388.1,1413.0 1388.7,1415.3 1389.3,1413.1 1389.9,1409.2 1390.5,1412.2 1391.1,1413.3 1391.7,1409.8 1392.3,1417.2 1392.9,1408.8 1393.5,1413.0 1394.1,1415.4 1394.7,1411.1 1395.3,1415.5 1395.9,1409.3 1396.5,1408.9 1397.1,1412.8 1397.7,1413.8 1398.3,1415.2 1398.9,1415.0 1399.5,1415.4 1400.1,1415.7 1400.7,1414.2 1401.3,1413.9 1401.9,1411.2 1402.5,1409.2 1403.1,1415.4 1403.7,1416.9 1404.3,1411.9 1404.9,1412.3 1405.5,1413.5 1406.1,1410.0 1406.7,1411.6 1407.3,1412.1 1407.9,1408.9 1408.5,1415.2 1409.1,1411.5 1409.7,1413.0 1410.3,1409.2 1410.9,1408.0 1411.5,1412.0 1412.1,1412.2 1412.7,1411.7 1413.3,1412.2 1413.9,1412.5 1414.5,1410.8 1415.1,1412.5 1415.7,1415.0 1416.3,1416.3 1416.9,1416.6 1417.5,1410.5 1418.1,1412.8 1418.8,1412.0 1419.4,1411.9 1420.0,1416.4 1420.6,1412.0 1421.2,1411.6 1421.8,1410.8 1422.4,1412.2 1423.0,1411.2 1423.6,1413.1 1424.2,1412.2 1424.8,1416.7 1425.4,1414.4 1426.0,1409.8 1426.6,1412.5 1427.2,1413.7 1427.8,1414.7 1428.4,1410.1 1429.0,1410.1 1429.6,1411.9 1430.2,1414.7 1430.8,1414.0 1431.4,1413.9 1432.0,1407.9 1432.6,1406.5 1433.2,1411.3 1433.8,1412.5 1434.4,1412.3 1435.0,1413.1 1435.6,1409.9 1436.2,1417.6 1436.8,1409.7 1437.4,1414.6 1438.0,1415.6 1438.6,1409.4 1439.2,1411.8 1439.8,1412.9 1440.4,1411.6 1441.0,1409.5 1441.6,1412.9 1442.2,1411.9 1442.8,1411.3 1443.4,1413.2 1444.0,1413.5 1444.6,1412.0 1445.2,1411.4 1445.8,1412.9 1446.4,1409.1 1447.0,1410.3 1447.6,1413.5 1448.2,1413.2 1448.8,1413.7 1449.4,1410.2 1450.0,1412.7 1450.6,1410.2 1451.2,1412.1 1451.8,1413.2 1452.4,1408.9 1453.1,1412.0 1453.7,1410.9 1454.3,1412.5 1454.9,1416.1 1455.5,1411.6 1456.1,1413.4 1456.7,1414.8 1457.3,1410.5 1457.9,1411.6 1458.5,1413.2 1459.1,1412.2 1459.7,1413.0 1460.3,1413.2 1460.9,1411.8 1461.5,1409.4 1462.1,1409.2 1462.7,1411.0 1463.3,1413.6 1463.9,1414.9 1464.5,1411.8 1465.1,1410.2 1465.7,1410.0 1466.3,1412.2 1466.9,1410.5 1467.5,1411.6 1468.1,1412.5 1468.7,1415.5 1469.3,1414.9 1469.9,1408.8 1470.5,1412.3 1471.1,1409.6 1471.7,1414.6 1472.3,1414.2 1472.9,1408.8 1473.5,1414.1 1474.1,1413.1 1474.7,1414.0 1475.3,1417.0 1475.9,1414.5 1476.5,1413.7 1477.1,1410.9 1477.7,1411.8 1478.3,1413.0 1478.9,1415.1 1479.5,1410.6 1480.1,1406.4 1480.7,1415.6 1481.3,1415.6 1481.9,1410.6 1482.5,1417.1 1483.1,1413.6 1483.7,1414.3 1484.3,1410.7 1484.9,1415.3 1485.5,1411.4 1486.1,1409.9 1486.7,1412.1 1487.4,1415.3 1488.0,1415.2 1488.6,1414.9 1489.2,1411.7 1489.8,1414.2 1490.4,1411.6 1491.0,1414.3 1491.6,1411.7 1492.2,1410.9 1492.8,1411.6 1493.4,1412.3 1494.0,1411.3 1494.6,1413.0 1495.2,1412.1 1495.8,1410.7 1496.4,1414.1 1497.0,1412.2 1497.6,1411.9 1498.2,1410.7 1498.8,1415.3 1499.4,1413.2 1500.0,1410.0 1500.6,1413.8 1501.2,1414.5 1501.8,1411.2 1502.4,1412.0 1503.0,1412.1 1503.6,1415.2 1504.2,1413.4 1504.8,1415.3 1505.4,1414.6 1506.0,1412.2 1506.6,1411.7 1507.2,1413.3 1507.8,1410.4 1508.4,1413.9 1509.0,1413.0 1509.6,1415.5 1510.2,1413.4 1510.8,1411.9 1511.4,1419.0 1512.0,1415.2 1512.6,1415.3 1513.2,1417.2 1513.8,1414.3 1514.4,1411.6 1515.0,1416.6 1515.6,1412.1 1516.2,1412.4 1516.8,1411.1 1517.4,1413.6 1518.0,1414.3 1518.6,1415.6 1519.2,1412.3 1519.8,1412.7 1520.4,1410.6 1521.0,1410.6 1521.7,1413.5 1522.3,1410.4 1522.9,1413.2 1523.5,1414.0 1524.1,1412.6 1524.7,1415.7 1525.3,1413.3 1525.9,1413.1 1526.5,1413.1 1527.1,1410.6 1527.7,1414.4 1528.3,1412.6 1528.9,1412.6 1529.5,1413.0 1530.1,1413.3 1530.7,1415.4 1531.3,1410.4 1531.9,1414.6 1532.5,1410.2 1533.1,1413.3 1533.7,1413.5 1534.3,1413.0 1534.9,1416.3 1535.5,1410.3 1536.1,1414.5 1536.7,1410.8 1537.3,1408.2 1537.9,1408.7 1538.5,1412.7 1539.1,1411.9 1539.7,1416.5 1540.3,1415.3 1540.9,1410.3 1541.5,1413.9 1542.1,1411.8 1542.7,1413.7 1543.3,1417.6 1543.9,1413.3 1544.5,1411.8 1545.1,1412.4 1545.7,1413.3 1546.3,1412.0 1546.9,1414.4 1547.5,1413.7 1548.1,1417.8 1548.7,1409.6 1549.3,1411.7 1549.9,1412.2 1550.5,1413.5 1551.1,1413.0 1551.7,1412.8 1552.3,1414.2 1552.9,1416.3 1553.5,1413.2 1554.1,1413.4 1554.7,1409.0 1555.3,1409.5 1556.0,1409.4 1556.6,1413.1 1557.2,1409.4 1557.8,1413.7 1558.4,1413.4 1559.0,1415.6 1559.6,1410.2 1560.2,1413.5 1560.8,1414.0 1561.4,1408.1 1562.0,1412.0 1562.6,1413.8 1563.2,1411.1 1563.8,1414.5 1564.4,1413.3 1565.0,1418.7 1565.6,1410.3 1566.2,1413.4 1566.8,1413.2 1567.4,1409.7 1568.0,1412.6 1568.6,1416.3 1569.2,1410.2 1569.8,1416.3 1570.4,1411.5 1571.0,1410.4 1571.6,1410.8 1572.2,1411.1 1572.8,1412.4 1573.4,1411.5 1574.0,1413.8 1574.6,1413.3 1575.2,1414.3 1575.8,1413.9 1576.4,1414.9 1577.0,1412.5 1577.6,1409.5 1578.2,1412.0 1578.8,1414.5 1579.4,1417.4 1580.0,1408.7 1580.6,1414.2 1581.2,1416.4 1581.8,1415.0 1582.4,1411.7 1583.0,1413.7 1583.6,1411.3 1584.2,1412.0 1584.8,1414.7 1585.4,1414.4 1586.0,1413.4 1586.6,1412.3 1587.2,1412.5 1587.8,1411.2 1588.4,1410.6 1589.0,1412.0 1589.6,1415.1 1590.3,1416.0 1590.9,1413.8 1591.5,1412.6 1592.1,1414.8 1592.7,1413.5 1593.3,1414.1 1593.9,1410.3 1594.5,1414.8 1595.1,1415.7 1595.7,1410.7 1596.3,1411.2 1596.9,1417.0 1597.5,1415.5 1598.1,1413.4 1598.7,1414.8 1599.3,1411.4 1599.9,1413.9 1600.5,1410.5 1601.1,1419.3 1601.7,1410.7 1602.3,1411.1 1602.9,1411.2 1603.5,1410.2 1604.1,1413.6 1604.7,1410.4 1605.3,1419.0 1605.9,1412.1 1606.5,1412.0 1607.1,1416.2 1607.7,1417.9 1608.3,1414.2 1608.9,1410.0 1609.5,1412.3 1610.1,1415.2 1610.7,1412.1 1611.3,1412.5 1611.9,1414.9 1612.5,1414.0 1613.1,1417.5 1613.7,1414.4 1614.3,1412.2 1614.9,1414.9 1615.5,1412.0 1616.1,1412.5 1616.7,1414.8 1617.3,1416.0 1617.9,1412.6 1618.5,1414.5 1619.1,1411.9 1619.7,1413.1 1620.3,1414.2 1620.9,1411.6 1621.5,1417.0 1622.1,1411.2 1622.7,1410.0 1623.3,1413.7 1623.9,1413.8 1624.6,1413.9 1625.2,1410.3 1625.8,1416.4 1626.4,1412.4 1627.0,1414.7 1627.6,1409.4 1628.2,1413.6 1628.8,1413.0 1629.4,1414.7 1630.0,1413.6 1630.6,1410.6 1631.2,1411.4 1631.8,1413.8 1632.4,1414.2 1633.0,1419.0 1633.6,1411.8 1634.2,1412.1 1634.8,1409.7 1635.4,1410.2 1636.0,1412.2 1636.6,1411.3 1637.2,1415.2 1637.8,1414.2 1638.4,1412.0 1639.0,1410.1 1639.6,1412.9 1640.2,1411.1 1640.8,1414.4 1641.4,1413.4 1642.0,1410.0 1642.6,1413.2 1643.2,1416.7 1643.8,1408.6 1644.4,1412.2 1645.0,1412.8 1645.6,1414.1 1646.2,1411.8 1646.8,1411.3 1647.4,1413.8 1648.0,1413.5 1648.6,1414.9 1649.2,1412.5 1649.8,1415.9 1650.4,1411.9 1651.0,1412.1 1651.6,1412.4 1652.2,1412.0 1652.8,1411.2 1653.4,1409.5 1654.0,1416.4 1654.6,1410.8 1655.2,1412.6 1655.8,1413.9 1656.4,1415.4 1657.0,1414.9 1657.6,1412.2 1658.2,1411.7 1658.9,1413.2 1659.5,1415.8 1660.1,1409.3 1660.7,1411.2 1661.3,1411.3 1661.9,1410.8 1662.5,1408.4 1663.1,1410.5 1663.7,1414.3 1664.3,1415.2 1664.9,1417.5 1665.5,1412.2 1666.1,1408.1 1666.7,1413.4 1667.3,1411.3 1667.9,1412.5 1668.5,1407.5 1669.1,1412.1 1669.7,1411.6 1670.3,1407.6 1670.9,1411.0 1671.5,1414.5 1672.1,1409.7 1672.7,1410.0 1673.3,1409.4 1673.9,1409.9 1674.5,1411.6 1675.1,1410.0 1675.7,1409.3 1676.3,1404.5 1676.9,1410.4 1677.5,1409.5 1678.1,1405.5 1678.7,1404.9 1679.3,1405.7 1679.9,1407.1 1680.5,1400.6 1681.1,1404.1 1681.7,1402.8 1682.3,1406.1 1682.9,1401.9 1683.5,1401.1 1684.1,1397.5 1684.7,1394.3 1685.3,1397.3 1685.9,1397.6 1686.5,1399.0 1687.1,1396.1 1687.7,1392.5 1688.3,1387.5 1688.9,1385.5 1689.5,1383.3 1690.1,1378.1 1690.7,1377.5 1691.3,1373.2 1691.9,1366.7 1692.5,1366.9 1693.1,1372.9 1693.8,1368.4 1694.4,1370.3 1695.0,1372.4 1695.6,1378.0 1696.2,1383.2 1696.8,1382.3 1697.4,1389.5 1698.0,1386.8 1698.6,1392.9 1699.2,1396.4 1699.8,1397.7 1700.4,1404.4 1701.0,1401.1 1701.6,1404.2 1702.2,1401.0 1702.8,1407.7 1703.4,1406.5 1704.0,1407.0 1704.6,1407.1 1705.2,1409.2 1705.8,1407.5 1706.4,1408.3 1707.0,1411.1 1707.6,1407.9 1708.2,1409.2 1708.8,1408.8 1709.4,1415.5 1710.0,1412.3 1710.6,1411.7 1711.2,1415.3 1711.8,1409.6 1712.4,1410.0 1713.0,1413.1 1713.6,1413.7 1714.2,1412.3 1714.8,1412.7 1715.4,1414.6 1716.0,1413.3 1716.6,1412.1 1717.2,1411.4 1717.8,1412.4 1718.4,1413.8 1719.0,1409.9 1719.6,1407.9 1720.2,1411.3 1720.8,1412.0 1721.4,1411.0 1722.0,1414.0 1722.6,1412.0 1723.2,1412.9 1723.8,1411.1 1724.4,1412.9 1725.0,1411.9 1725.6,1413.8 1726.2,1411.2 1726.8,1414.4 1727.4,1414.0 1728.1,1411.6 1728.7,1415.7 1729.3,1413.0 1729.9,1411.8 1730.5,1413.7 1731.1,1412.4 1731.7,1414.3 1732.3,1410.6 1732.9,1415.0 1733.5,1414.0 1734.1,1412.5 1734.7,1414.3 1735.3,1414.9 1735.9,1415.4 1736.5,1411.7 1737.1,1408.8 1737.7,1411.6 1738.3,1411.9 1738.9,1410.4 1739.5,1411.3 1740.1,1412.2 1740.7,1409.1 1741.3,1416.4 1741.9,1417.9 1742.5,1411.9 1743.1,1415.0 1743.7,1413.1 1744.3,1410.8 1744.9,1412.7 1745.5,1410.1 1746.1,1418.7 1746.7,1411.0 1747.3,1410.5 1747.9,1412.3 1748.5,1412.4 1749.1,1413.9 1749.7,1415.3 1750.3,1413.2 1750.9,1412.4 1751.5,1410.3 1752.1,1414.6 1752.7,1409.4 1753.3,1410.0 1753.9,1411.6 1754.5,1415.8 1755.1,1409.8 1755.7,1414.8 1756.3,1412.5 1756.9,1413.6 1757.5,1417.9 1758.1,1410.0 1758.7,1410.2 1759.3,1414.7 1759.9,1412.6 1760.5,1414.4 1761.1,1415.9 1761.7,1410.0 1762.4,1412.9 1763.0,1412.1 1763.6,1411.0 1764.2,1408.7 1764.8,1415.9 1765.4,1414.0 1766.0,1413.2 1766.6,1414.7 1767.2,1413.1 1767.8,1414.1 1768.4,1415.2 1769.0,1413.2 1769.6,1414.0 1770.2,1411.9 1770.8,1412.8 1771.4,1410.3 1772.0,1409.7 1772.6,1412.6 1773.2,1415.7 1773.8,1408.8 1774.4,1410.3 1775.0,1408.7 1775.6,1411.1 1776.2,1415.9 1776.8,1415.0 1777.4,1414.8 1778.0,1412.8 1778.6,1414.0 1779.2,1414.0 1779.8,1413.1 1780.4,1416.1 1781.0,1410.3 1781.6,1412.6 1782.2,1413.5 1782.8,1409.6 1783.4,1412.6 1784.0,1411.2 1784.6,1415.5 1785.2,1411.8 1785.8,1410.5 1786.4,1412.5 1787.0,1414.7 1787.6,1413.1 1788.2,1416.3 1788.8,1411.7 1789.4,1408.5 1790.0,1413.3 1790.6,1412.1 1791.2,1413.6 1791.8,1415.2 1792.4,1413.4 1793.0,1412.6 1793.6,1411.6 1794.2,1411.0 1794.8,1412.4 1795.4,1415.9 1796.0,1417.0 1796.7,1414.2 1797.3,1415.8 1797.9,1414.7 1798.5,1414.3 1799.1,1408.4 1799.7,1412.4 1800.3,1412.4 1800.9,1411.9 1801.5,1411.5 1802.1,1410.8 1802.7,1413.4 1803.3,1413.7 1803.9,1412.5 1804.5,1414.5 1805.1,1417.8 1805.7,1413.8 1806.3,1412.9 1806.9,1411.1 1807.5,1411.2 1808.1,1415.5 1808.7,1413.7 1809.3,1409.7 1809.9,1413.6 1810.5,1409.8 1811.1,1410.5 1811.7,1415.3 1812.3,1414.2 1812.9,1414.2 1813.5,1408.5 1814.1,1414.3 1814.7,1415.7 1815.3,1411.3 1815.9,1414.4 1816.5,1411.0 1817.1,1412.2 1817.7,1412.7 1818.3,1410.1 1818.9,1410.4 1819.5,1414.7 1820.1,1410.1 1820.7,1412.9 1821.3,1413.2 1821.9,1414.2 1822.5,1413.3 1823.1,1409.8 1823.7,1413.8 1824.3,1409.9 1824.9,1414.8 1825.5,1409.1 1826.1,1412.2 1826.7,1411.2 1827.3,1410.0 1827.9,1410.7 1828.5,1409.6 1829.1,1410.1 1829.7,1409.5 1830.3,1413.3 1831.0,1409.7 1831.6,1410.6 1832.2,1417.1 1832.8,1415.7 1833.4,1412.3 1834.0,1412.2 1834.6,1416.2 1835.2,1411.6 1835.8,1412.3 1836.4,1415.3 1837.0,1409.2 1837.6,1415.4 1838.2,1410.5 1838.8,1410.6 1839.4,1412.9 1840.0,1414.4 1840.6,1414.8 1841.2,1407.4 1841.8,1412.6 1842.4,1414.1 1843.0,1413.8 1843.6,1413.7 1844.2,1412.7 1844.8,1416.0 1845.4,1412.7 1846.0,1412.2 1846.6,1416.5 1847.2,1413.6 1847.8,1415.8 1848.4,1413.9 1849.0,1414.0 1849.6,1414.8 1850.2,1406.2 1850.8,1414.3 1851.4,1412.4 1852.0,1416.1 1852.6,1408.3 1853.2,1412.2 1853.8,1411.2 1854.4,1417.3 1855.0,1417.3 1855.6,1408.0 1856.2,1413.9 1856.8,1415.9 1857.4,1415.5 1858.0,1411.3 1858.6,1415.5 1859.2,1410.4 1859.8,1416.5 1860.4,1416.4 1861.0,1410.2 1861.6,1410.8 1862.2,1417.1 1862.8,1415.8 1863.4,1413.3 1864.0,1415.3 1864.6,1409.1 1865.3,1414.3 1865.9,1411.5 1866.5,1413.5 1867.1,1415.2 1867.7,1412.3 1868.3,1416.0 1868.9,1411.0 1869.5,1413.0 1870.1,1414.6 1870.7,1413.4 1871.3,1411.9 1871.9,1413.5 1872.5,1411.5 1873.1,1414.0 1873.7,1412.5 1874.3,1416.3 1874.9,1414.2 1875.5,1415.1 1876.1,1411.9 1876.7,1416.1 1877.3,1415.0 1877.9,1416.8 1878.5,1412.8 1879.1,1410.4 1879.7,1413.5 1880.3,1411.4 1880.9,1413.3 1881.5,1415.4 1882.1,1413.0 1882.7,1414.4 1883.3,1413.2 1883.9,1412.7 1884.5,1414.9 1885.1,1412.4 1885.7,1416.7 1886.3,1412.7 1886.9,1412.9 1887.5,1408.2 1888.1,1409.4 1888.7,1413.4 1889.3,1412.6 1889.9,1413.4 1890.5,1415.6 1891.1,1408.5 1891.7,1414.1 1892.3,1405.8 1892.9,1411.0 1893.5,1412.2 1894.1,1415.1 1894.7,1410.5 1895.3,1415.4 1895.9,1412.9 1896.5,1414.5 1897.1,1415.2 1897.7,1412.9 1898.3,1406.5 1898.9,1415.3 1899.6,1412.6 1900.2,1415.7 1900.8,1411.7 1901.4,1411.5 1902.0,1413.4 1902.6,1414.5 1903.2,1413.9 1903.8,1413.1 1904.4,1413.8 1905.0,1410.6 1905.6,1409.4 1906.2,1409.1 1906.8,1408.2 1907.4,1413.9 1908.0,1413.1 1908.6,1414.3 1909.2,1413.4 1909.8,1417.4 1910.4,1410.7 1911.0,1411.2 1911.6,1409.0 1912.2,1417.9 1912.8,1415.4 1913.4,1410.8 1914.0,1409.1 1914.6,1408.0 1915.2,1411.6 1915.8,1417.1 1916.4,1415.9 1917.0,1412.7 1917.6,1410.6 1918.2,1416.0 1918.8,1413.1 1919.4,1415.9 1920.0,1413.9 1920.6,1413.7 1921.2,1413.9 1921.8,1411.4 1922.4,1414.8 1923.0,1412.9 1923.6,1410.1 1924.2,1416.9 1924.8,1414.3 1925.4,1410.9 1926.0,1415.9 1926.6,1412.2 1927.2,1413.3 1927.8,1414.0 1928.4,1414.2 1929.0,1413.0 1929.6,1409.7 1930.2,1412.3 1930.8,1413.1 1931.4,1415.0 1932.0,1411.0 1932.6,1412.1 1933.2,1416.6 1933.9,1410.4 1934.5,1413.1 1935.1,1410.6 1935.7,1410.4 1936.3,1410.9 1936.9,1414.6 1937.5,1413.9 1938.1,1412.7 1938.7,1413.9 1939.3,1414.7 1939.9,1412.3 1940.5,1413.8 1941.1,1413.5 1941.7,1415.3 1942.3,1413.7 1942.9,1412.8 1943.5,1411.3 1944.1,1419.7 1944.7,1411.6 1945.3,1412.0 1945.9,1412.0 1946.5,1409.6 1947.1,1413.4 1947.7,1412.6 1948.3,1410.5 1948.9,1413.8 1949.5,1414.9 1950.1,1411.2 1950.7,1412.9 1951.3,1408.8 1951.9,1410.2 1952.5,1414.7 1953.1,1410.7 1953.7,1412.0 1954.3,1412.1 1954.9,1411.8 1955.5,1412.5 1956.1,1412.4 1956.7,1413.0 1957.3,1412.7 1957.9,1412.8 1958.5,1410.2 1959.1,1410.0 1959.7,1414.9 1960.3,1416.9 1960.9,1409.6 1961.5,1412.4 1962.1,1412.1 1962.7,1410.7 1963.3,1413.4 1963.9,1413.7 1964.5,1415.9 1965.1,1410.1 1965.7,1413.7 1966.3,1411.8 1966.9,1412.5 1967.5,1413.1 1968.1,1412.7 1968.8,1415.5 1969.4,1412.5 1970.0,1414.4 1970.6,1407.8 1971.2,1412.5 1971.8,1415.2 1972.4,1410.9 1973.0,1411.3 1973.6,1415.2 1974.2,1414.2 1974.8,1416.1 1975.4,1413.3 1976.0,1412.5 1976.6,1409.8 1977.2,1416.6 1977.8,1410.3 1978.4,1409.6 1979.0,1412.1 1979.6,1415.0 1980.2,1411.3 1980.8,1412.7 1981.4,1408.3 1982.0,1413.7 1982.6,1414.1 1983.2,1415.8 1983.8,1414.0 1984.4,1411.2 1985.0,1416.0 1985.6,1408.0 1986.2,1413.7 1986.8,1414.2 1987.4,1415.8 1988.0,1414.0 1988.6,1413.6 1989.2,1410.2 1989.8,1412.0 1990.4,1414.7 1991.0,1411.2 1991.6,1412.8 1992.2,1411.7 1992.8,1412.8 1993.4,1414.5 1994.0,1413.8 1994.6,1419.0 1995.2,1411.5 1995.8,1412.1 1996.4,1413.0 1997.0,1414.4 1997.6,1412.7 1998.2,1411.1 1998.8,1411.6 1999.4,1411.8 2000.0,1411.6 2000.6,1413.1 2001.2,1411.4 2001.8,1409.8 2002.4,1410.5 2003.1,1414.1 2003.7,1412.5 2004.3,1415.9 2004.9,1412.3 2005.5,1414.8 2006.1,1413.6 2006.7,1412.2 2007.3,1411.8 2007.9,1411.1 2008.5,1414.9 2009.1,1413.8 2009.7,1413.4 2010.3,1414.3 2010.9,1411.2 2011.5,1415.6 2012.1,1415.9 2012.7,1413.0 2013.3,1414.7 2013.9,1409.7 2014.5,1412.0 2015.1,1411.2 2015.7,1411.6 2016.3,1416.0 2016.9,1413.6 2017.5,1415.1 2018.1,1412.6 2018.7,1412.5 2019.3,1413.1 2019.9,1413.6 2020.5,1408.4 2021.1,1411.0 2021.7,1408.7 2022.3,1411.7 2022.9,1417.1 2023.5,1412.8 2024.1,1406.7 2024.7,1414.4 2025.3,1411.4 2025.9,1410.3 2026.5,1414.2 2027.1,1411.8 2027.7,1410.6 2028.3,1415.0 2028.9,1416.6 2029.5,1412.7 2030.1,1414.8 2030.7,1410.8 2031.3,1412.5 2031.9,1410.5 2032.5,1412.6 2033.1,1414.4 2033.7,1410.6 2034.3,1411.0 2034.9,1411.3 2035.5,1410.1 2036.1,1415.9 2036.7,1416.3 2037.4,1411.9 2038.0,1413.3 2038.6,1415.6 2039.2,1413.1 2039.8,1415.0 2040.4,1406.9 2041.0,1409.2 2041.6,1412.6 2042.2,1413.8 2042.8,1414.2 2043.4,1414.5 2044.0,1412.4 2044.6,1414.0 2045.2,1413.2 2045.8,1414.2 2046.4,1410.8 2047.0,1412.8 2047.6,1412.1 2048.2,1413.3 2048.8,1410.4 2049.4,1415.6 2050.0,1413.3 2050.6,1409.4 2051.2,1412.5 2051.8,1411.9 2052.4,1411.5 2053.0,1413.0 2053.6,1411.2 2054.2,1416.1 2054.8,1415.8 2055.4,1414.0 2056.0,1411.7 2056.6,1414.9 2057.2,1411.6 2057.8,1413.8 2058.4,1413.5 2059.0,1414.4 2059.6,1412.2 2060.2,1417.5 2060.8,1415.0 2061.4,1413.5 2062.0,1413.1 2062.6,1410.9 2063.2,1412.5 2063.8,1413.9 2064.4,1410.0 2065.0,1412.4 2065.6,1411.8 2066.2,1412.5 2066.8,1411.2 2067.4,1412.6 2068.0,1412.1 2068.6,1408.4 2069.2,1412.0 2069.8,1416.2 2070.4,1410.1 2071.0,1411.2 2071.7,1412.8 2072.3,1412.0 2072.9,1412.8 2073.5,1409.3 2074.1,1413.7 2074.7,1409.0 2075.3,1412.7 2075.9,1410.2 2076.5,1411.1 2077.1,1412.3 2077.7,1409.9 2078.3,1415.7 2078.9,1409.5 2079.5,1415.9 2080.1,1418.2 2080.7,1413.9 2081.3,1412.7 2081.9,1412.5 2082.5,1417.1 2083.1,1413.9 2083.7,1412.2 2084.3,1413.0 2084.9,1417.2 2085.5,1415.1 2086.1,1413.1 2086.7,1415.2 2087.3,1412.7 2087.9,1412.6 2088.5,1416.0"/>
<polyline fill="none" stroke="#fc4040" stroke-width="4.6" stroke-linejoin="round" stroke-linecap="butt" points="163.5,1209.4 164.1,1205.1 164.7,1205.8 165.3,1208.4 165.9,1207.4 166.5,1206.7 167.1,1203.5 167.7,1201.5 168.3,1206.0 168.9,1203.1 169.5,1207.5 170.1,1205.5 170.7,1202.4 171.3,1205.7 171.9,1207.2 172.5,1205.4 173.1,1202.3 173.7,1205.7 174.3,1206.1 174.9,1207.6 175.5,1207.3 176.1,1202.0 176.7,1203.3 177.3,1206.9 177.9,1199.5 178.5,1207.5 179.1,1202.3 179.7,1203.6 180.3,1209.7 181.0,1204.8 181.6,1204.0 182.2,1205.9 182.8,1204.7 183.4,1201.8 184.0,1205.9 184.6,1212.0 185.2,1208.0 185.8,1206.5 186.4,1205.9 187.0,1207.7 187.6,1207.1 188.2,1202.3 188.8,1206.8 189.4,1205.3 190.0,1210.7 190.6,1204.5 191.2,1209.2 191.8,1201.4 192.4,1206.2 193.0,1202.9 193.6,1202.4 194.2,1207.7 194.8,1202.1 195.4,1204.8 196.0,1203.0 196.6,1206.5 197.2,1206.1 197.8,1198.3 198.4,1207.5 199.0,1203.3 199.6,1211.7 200.2,1208.1 200.8,1208.4 201.4,1197.8 202.0,1211.0 202.6,1205.6 203.2,1201.2 203.8,1206.4 204.4,1209.5 205.0,1197.5 205.6,1208.8 206.2,1204.5 206.8,1203.7 207.4,1204.2 208.0,1202.9 208.6,1206.1 209.2,1206.3 209.8,1208.8 210.4,1209.9 211.0,1204.5 211.6,1208.9 212.2,1201.9 212.8,1207.6 213.4,1202.1 214.0,1203.8 214.6,1207.5 215.3,1203.3 215.9,1207.1 216.5,1201.1 217.1,1203.4 217.7,1207.3 218.3,1210.3 218.9,1202.0 219.5,1210.5 220.1,1206.5 220.7,1212.7 221.3,1204.7 221.9,1204.1 222.5,1206.7 223.1,1202.3 223.7,1206.1 224.3,1205.5 224.9,1209.8 225.5,1206.8 226.1,1201.9 226.7,1201.7 227.3,1202.8 227.9,1199.4 228.5,1199.1 229.1,1212.3 229.7,1203.2 230.3,1209.8 230.9,1203.5 231.5,1204.6 232.1,1200.5 232.7,1209.8 233.3,1204.6 233.9,1211.0 234.5,1203.7 235.1,1209.9 235.7,1210.5 236.3,1201.2 236.9,1207.3 237.5,1202.7 238.1,1202.3 238.7,1206.3 239.3,1208.5 239.9,1210.1 240.5,1204.9 241.1,1209.0 241.7,1207.7 242.3,1205.9 242.9,1203.0 243.5,1206.1 244.1,1216.9 244.7,1203.1 245.3,1205.5 245.9,1203.2 246.5,1210.3 247.1,1211.7 247.7,1210.2 248.3,1212.2 248.9,1205.8 249.6,1211.3 250.2,1203.5 250.8,1210.9 251.4,1210.7 252.0,1204.1 252.6,1209.0 253.2,1202.7 253.8,1201.7 254.4,1201.8 255.0,1202.7 255.6,1202.6 256.2,1205.8 256.8,1211.6 257.4,1205.4 258.0,1203.5 258.6,1208.3 259.2,1205.4 259.8,1206.5 260.4,1207.4 261.0,1207.6 261.6,1204.1 262.2,1205.4 262.8,1209.1 263.4,1205.1 264.0,1205.5 264.6,1207.2 265.2,1207.6 265.8,1205.3 266.4,1208.0 267.0,1206.3 267.6,1202.2 268.2,1208.3 268.8,1203.6 269.4,1215.9 270.0,1207.2 270.6,1205.5 271.2,1209.0 271.8,1211.0 272.4,1211.1 273.0,1207.3 273.6,1209.8 274.2,1208.6 274.8,1206.7 275.4,1201.7 276.0,1206.5 276.6,1198.4 277.2,1203.7 277.8,1210.7 278.4,1207.0 279.0,1206.4 279.6,1203.8 280.2,1203.8 280.8,1204.4 281.4,1202.2 282.0,1199.4 282.6,1209.8 283.2,1211.7 283.9,1204.6 284.5,1209.0 285.1,1202.7 285.7,1207.7 286.3,1202.3 286.9,1209.4 287.5,1206.8 288.1,1202.6 288.7,1209.3 289.3,1211.8 289.9,1206.7 290.5,1206.5 291.1,1206.7 291.7,1207.1 292.3,1210.6 292.9,1210.7 293.5,1200.1 294.1,1210.5 294.7,1206.1 295.3,1211.9 295.9,1208.2 296.5,1209.7 297.1,1205.2 297.7,1202.6 298.3,1207.5 298.9,1209.8 299.5,1209.1 300.1,1209.2 300.7,1207.5 301.3,1209.1 301.9,1204.3 302.5,1206.4 303.1,1202.0 303.7,1206.7 304.3,1205.9 304.9,1207.0 305.5,1210.1 306.1,1207.1 306.7,1197.9 307.3,1211.2 307.9,1207.4 308.5,1209.3 309.1,1204.5 309.7,1209.5 310.3,1211.7 310.9,1201.9 311.5,1210.8 312.1,1204.1 312.7,1204.6 313.3,1207.0 313.9,1213.5 314.5,1201.4 315.1,1205.0 315.7,1207.2 316.3,1209.1 316.9,1206.7 317.5,1208.4 318.1,1203.9 318.8,1209.5 319.4,1210.4 320.0,1201.6 320.6,1204.7 321.2,1209.0 321.8,1208.7 322.4,1208.8 323.0,1203.4 323.6,1205.9 324.2,1205.6 324.8,1211.4 325.4,1206.9 326.0,1205.6 326.6,1204.4 327.2,1207.2 327.8,1210.9 328.4,1202.4 329.0,1207.6 329.6,1208.8 330.2,1213.4 330.8,1209.4 331.4,1211.5 332.0,1207.4 332.6,1203.0 333.2,1202.9 333.8,1205.1 334.4,1207.7 335.0,1206.4 335.6,1205.9 336.2,1213.0 336.8,1199.9 337.4,1204.1 338.0,1214.8 338.6,1208.3 339.2,1205.3 339.8,1203.9 340.4,1209.9 341.0,1209.6 341.6,1209.9 342.2,1203.4 342.8,1207.9 343.4,1206.8 344.0,1208.8 344.6,1202.5 345.2,1209.3 345.8,1212.2 346.4,1203.3 347.0,1210.2 347.6,1212.7 348.2,1210.3 348.8,1207.4 349.4,1208.0 350.0,1205.9 350.6,1208.3 351.2,1204.4 351.8,1207.8 352.4,1205.0 353.1,1203.1 353.7,1212.3 354.3,1201.9 354.9,1213.2 355.5,1200.9 356.1,1210.6 356.7,1208.3 357.3,1202.7 357.9,1206.1 358.5,1204.6 359.1,1204.8 359.7,1210.5 360.3,1204.1 360.9,1201.8 361.5,1211.2 362.1,1209.0 362.7,1207.8 363.3,1206.9 363.9,1209.9 364.5,1209.0 365.1,1207.5 365.7,1206.0 366.3,1211.2 366.9,1212.3 367.5,1209.3 368.1,1217.1 368.7,1208.6 369.3,1208.5 369.9,1212.6 370.5,1208.8 371.1,1208.7 371.7,1206.8 372.3,1209.4 372.9,1202.8 373.5,1205.7 374.1,1204.6 374.7,1201.2 375.3,1211.3 375.9,1206.4 376.5,1205.3 377.1,1209.2 377.7,1204.2 378.3,1210.8 378.9,1212.4 379.5,1203.6 380.1,1211.7 380.7,1208.7 381.3,1211.6 381.9,1208.7 382.5,1205.5 383.1,1203.2 383.7,1204.7 384.3,1206.6 384.9,1211.4 385.5,1210.1 386.1,1209.1 386.7,1212.7 387.4,1202.5 388.0,1204.6 388.6,1204.7 389.2,1208.4 389.8,1200.0 390.4,1206.4 391.0,1212.4 391.6,1211.3 392.2,1213.0 392.8,1206.5 393.4,1205.1 394.0,1209.1 394.6,1205.4 395.2,1208.0 395.8,1207.9 396.4,1209.9 397.0,1212.7 397.6,1212.6 398.2,1211.2 398.8,1207.7 399.4,1210.4 400.0,1207.2 400.6,1205.6 401.2,1203.7 401.8,1206.7 402.4,1210.0 403.0,1210.5 403.6,1208.7 404.2,1210.2 404.8,1206.7 405.4,1213.6 406.0,1208.9 406.6,1207.5 407.2,1210.5 407.8,1208.1 408.4,1209.6 409.0,1213.1 409.6,1206.1 410.2,1207.7 410.8,1208.0 411.4,1208.8 412.0,1214.4 412.6,1211.4 413.2,1212.6 413.8,1200.9 414.4,1210.2 415.0,1209.6 415.6,1210.4 416.2,1208.8 416.8,1206.8 417.4,1210.9 418.0,1208.2 418.6,1208.8 419.2,1207.0 419.8,1208.2 420.4,1210.4 421.0,1211.3 421.7,1208.7 422.3,1209.1 422.9,1208.2 423.5,1211.6 424.1,1207.5 424.7,1208.0 425.3,1209.2 425.9,1207.6 426.5,1209.8 427.1,1213.9 427.7,1208.9 428.3,1213.4 428.9,1211.8 429.5,1209.5 430.1,1211.1 430.7,1213.4 431.3,1206.4 431.9,1211.1 432.5,1212.8 433.1,1206.8 433.7,1213.1 434.3,1211.1 434.9,1206.6 435.5,1210.5 436.1,1204.8 436.7,1205.4 437.3,1204.5 437.9,1209.9 438.5,1207.9 439.1,1206.8 439.7,1207.5 440.3,1208.8 440.9,1208.0 441.5,1207.6 442.1,1209.5 442.7,1206.2 443.3,1207.4 443.9,1212.6 444.5,1210.1 445.1,1203.7 445.7,1213.8 446.3,1206.5 446.9,1214.1 447.5,1209.4 448.1,1212.0 448.7,1203.8 449.3,1206.8 449.9,1207.2 450.5,1207.4 451.1,1206.8 451.7,1207.2 452.3,1208.8 452.9,1207.3 453.5,1208.7 454.1,1210.1 454.7,1203.9 455.3,1208.4 456.0,1206.3 456.6,1208.9 457.2,1211.0 457.8,1205.0 458.4,1208.0 459.0,1211.9 459.6,1212.3 460.2,1207.6 460.8,1211.9 461.4,1210.1 462.0,1209.4 462.6,1207.7 463.2,1210.1 463.8,1211.3 464.4,1207.3 465.0,1210.7 465.6,1205.9 466.2,1205.8 466.8,1210.9 467.4,1208.7 468.0,1206.9 468.6,1210.3 469.2,1211.4 469.8,1209.5 470.4,1213.7 471.0,1207.3 471.6,1207.4 472.2,1212.1 472.8,1206.4 473.4,1211.5 474.0,1204.6 474.6,1206.5 475.2,1208.9 475.8,1208.2 476.4,1213.9 477.0,1206.6 477.6,1209.3 478.2,1209.9 478.8,1209.1 479.4,1212.8 480.0,1207.8 480.6,1208.0 481.2,1206.6 481.8,1212.1 482.4,1210.3 483.0,1210.3 483.6,1210.2 484.2,1206.3 484.8,1211.0 485.4,1210.5 486.0,1213.8 486.6,1210.8 487.2,1207.3 487.8,1208.7 488.4,1214.9 489.0,1206.1 489.6,1205.7 490.3,1210.3 490.9,1213.9 491.5,1209.9 492.1,1206.3 492.7,1216.1 493.3,1207.5 493.9,1212.1 494.5,1213.9 495.1,1210.0 495.7,1211.5 496.3,1214.0 496.9,1206.0 497.5,1212.0 498.1,1213.2 498.7,1213.4 499.3,1208.6 499.9,1211.1 500.5,1208.1 501.1,1208.1 501.7,1207.1 502.3,1211.6 502.9,1210.4 503.5,1213.1 504.1,1202.9 504.7,1207.3 505.3,1210.8 505.9,1214.9 506.5,1207.8 507.1,1204.8 507.7,1208.2 508.3,1209.7 508.9,1212.3 509.5,1213.2 510.1,1212.1 510.7,1209.7 511.3,1216.1 511.9,1208.0 512.5,1210.0 513.1,1211.8 513.7,1208.6 514.3,1209.4 514.9,1211.9 515.5,1207.5 516.1,1209.6 516.7,1209.7 517.3,1216.7 517.9,1212.5 518.5,1208.2 519.1,1212.4 519.7,1207.2 520.3,1212.3 520.9,1205.5 521.5,1212.4 522.1,1209.8 522.7,1206.5 523.3,1211.5 523.9,1212.7 524.6,1211.4 525.2,1210.8 525.8,1206.6 526.4,1212.7 527.0,1204.1 527.6,1208.7 528.2,1216.0 528.8,1206.4 529.4,1205.3 530.0,1207.7 530.6,1211.5 531.2,1210.1 531.8,1213.2 532.4,1210.5 533.0,1207.4 533.6,1213.0 534.2,1208.8 534.8,1212.3 535.4,1214.4 536.0,1211.9 536.6,1216.5 537.2,1207.0 537.8,1209.3 538.4,1211.0 539.0,1207.1 539.6,1214.3 540.2,1216.3 540.8,1212.8 541.4,1212.3 542.0,1210.2 542.6,1207.6 543.2,1208.8 543.8,1209.9 544.4,1211.3 545.0,1210.2 545.6,1211.4 546.2,1206.9 546.8,1208.5 547.4,1211.1 548.0,1213.4 548.6,1206.1 549.2,1211.6 549.8,1212.8 550.4,1210.5 551.0,1210.9 551.6,1209.6 552.2,1210.6 552.8,1209.7 553.4,1206.5 554.0,1214.6 554.6,1211.7 555.2,1209.3 555.8,1214.5 556.4,1210.0 557.0,1212.6 557.6,1203.4 558.2,1209.1 558.9,1213.9 559.5,1215.0 560.1,1216.2 560.7,1214.9 561.3,1216.0 561.9,1208.9 562.5,1206.9 563.1,1204.1 563.7,1211.2 564.3,1210.2 564.9,1215.3 565.5,1210.3 566.1,1215.6 566.7,1206.5 567.3,1216.0 567.9,1210.8 568.5,1214.9 569.1,1213.8 569.7,1208.6 570.3,1213.6 570.9,1209.3 571.5,1213.6 572.1,1212.8 572.7,1212.3 573.3,1210.6 573.9,1210.4 574.5,1211.3 575.1,1204.2 575.7,1214.0 576.3,1210.9 576.9,1211.8 577.5,1208.5 578.1,1212.0 578.7,1209.8 579.3,1215.7 579.9,1207.1 580.5,1214.8 581.1,1208.9 581.7,1212.2 582.3,1210.5 582.9,1208.4 583.5,1205.3 584.1,1213.3 584.7,1206.3 585.3,1209.9 585.9,1215.0 586.5,1215.1 587.1,1212.1 587.7,1206.6 588.3,1210.9 588.9,1211.5 589.5,1208.9 590.1,1217.6 590.7,1211.9 591.3,1212.2 591.9,1211.0 592.5,1207.4 593.1,1208.6 593.8,1208.5 594.4,1214.8 595.0,1211.4 595.6,1212.6 596.2,1212.5 596.8,1212.5 597.4,1216.1 598.0,1213.8 598.6,1212.2 599.2,1211.8 599.8,1215.6 600.4,1206.2 601.0,1215.2 601.6,1209.9 602.2,1212.8 602.8,1210.6 603.4,1211.5 604.0,1210.7 604.6,1201.0 605.2,1208.1 605.8,1209.0 606.4,1207.5 607.0,1206.0 607.6,1212.8 608.2,1208.4 608.8,1211.6 609.4,1214.7 610.0,1208.2 610.6,1210.8 611.2,1214.6 611.8,1210.4 612.4,1210.2 613.0,1205.2 613.6,1215.2 614.2,1210.6 614.8,1207.4 615.4,1213.7 616.0,1210.1 616.6,1211.1 617.2,1209.4 617.8,1213.4 618.4,1213.2 619.0,1210.0 619.6,1211.4 620.2,1215.8 620.8,1211.8 621.4,1210.0 622.0,1217.8 622.6,1209.5 623.2,1211.6 623.8,1207.9 624.4,1208.8 625.0,1208.8 625.6,1213.0 626.2,1214.4 626.8,1210.1 627.4,1213.5 628.1,1211.1 628.7,1213.4 629.3,1209.2 629.9,1212.2 630.5,1211.0 631.1,1211.8 631.7,1218.6 632.3,1212.3 632.9,1215.5 633.5,1214.6 634.1,1207.1 634.7,1212.7 635.3,1214.6 635.9,1207.1 636.5,1209.3 637.1,1221.4 637.7,1211.9 638.3,1210.4 638.9,1211.7 639.5,1209.2 640.1,1212.0 640.7,1212.3 641.3,1210.8 641.9,1215.7 642.5,1216.6 643.1,1214.7 643.7,1209.5 644.3,1210.2 644.9,1207.9 645.5,1212.8 646.1,1210.4 646.7,1210.1 647.3,1209.8 647.9,1212.4 648.5,1212.2 649.1,1208.4 649.7,1216.1 650.3,1212.2 650.9,1207.9 651.5,1214.2 652.1,1209.3 652.7,1217.0 653.3,1215.6 653.9,1213.3 654.5,1218.5 655.1,1209.3 655.7,1212.7 656.3,1211.1 656.9,1209.3 657.5,1208.2 658.1,1215.0 658.7,1211.2 659.3,1209.1 659.9,1210.4 660.5,1220.7 661.1,1212.0 661.7,1209.9 662.4,1211.2 663.0,1215.3 663.6,1211.6 664.2,1211.4 664.8,1211.7 665.4,1210.4 666.0,1211.2 666.6,1215.8 667.2,1211.3 667.8,1211.7 668.4,1203.7 669.0,1213.9 669.6,1215.5 670.2,1210.0 670.8,1213.3 671.4,1208.8 672.0,1212.8 672.6,1213.0 673.2,1205.6 673.8,1215.1 674.4,1215.7 675.0,1211.5 675.6,1208.8 676.2,1212.0 676.8,1211.6 677.4,1214.6 678.0,1211.8 678.6,1211.6 679.2,1214.9 679.8,1213.9 680.4,1212.3 681.0,1210.1 681.6,1209.9 682.2,1210.2 682.8,1209.8 683.4,1211.0 684.0,1215.5 684.6,1211.2 685.2,1211.4 685.8,1206.3 686.4,1215.1 687.0,1211.1 687.6,1214.0 688.2,1213.6 688.8,1210.3 689.4,1213.6 690.0,1208.0 690.6,1210.2 691.2,1216.5 691.8,1209.6 692.4,1213.5 693.0,1212.3 693.6,1210.0 694.2,1216.5 694.8,1211.9 695.4,1214.4 696.0,1218.2 696.7,1208.0 697.3,1212.0 697.9,1214.9 698.5,1212.0 699.1,1215.6 699.7,1214.1 700.3,1212.9 700.9,1213.6 701.5,1210.0 702.1,1207.8 702.7,1207.1 703.3,1213.1 703.9,1209.4 704.5,1216.1 705.1,1208.8 705.7,1207.3 706.3,1206.5 706.9,1216.3 707.5,1212.4 708.1,1213.9 708.7,1208.8 709.3,1216.7 709.9,1208.0 710.5,1212.2 711.1,1211.0 711.7,1215.3 712.3,1209.0 712.9,1211.1 713.5,1211.4 714.1,1212.1 714.7,1212.4 715.3,1214.4 715.9,1215.0 716.5,1211.4 717.1,1212.0 717.7,1213.2 718.3,1213.5 718.9,1212.1 719.5,1214.0 720.1,1213.3 720.7,1214.7 721.3,1210.7 721.9,1213.1 722.5,1210.8 723.1,1204.4 723.7,1210.5 724.3,1212.9 724.9,1211.0 725.5,1209.7 726.1,1214.4 726.7,1216.0 727.3,1214.4 727.9,1214.5 728.5,1208.7 729.1,1214.1 729.7,1217.2 730.3,1216.3 731.0,1212.8 731.6,1215.9 732.2,1211.9 732.8,1211.6 733.4,1213.9 734.0,1213.8 734.6,1210.8 735.2,1212.0 735.8,1215.6 736.4,1211.2 737.0,1213.0 737.6,1213.5 738.2,1215.4 738.8,1212.4 739.4,1213.4 740.0,1216.0 740.6,1211.3 741.2,1210.8 741.8,1208.7 742.4,1214.7 743.0,1211.3 743.6,1211.1 744.2,1207.6 744.8,1211.4 745.4,1209.9 746.0,1211.7 746.6,1211.7 747.2,1212.7 747.8,1217.2 748.4,1209.5 749.0,1212.4 749.6,1211.1 750.2,1211.8 750.8,1213.1 751.4,1215.2 752.0,1213.0 752.6,1213.3 753.2,1214.6 753.8,1213.2 754.4,1211.6 755.0,1212.7 755.6,1213.2 756.2,1208.4 756.8,1215.0 757.4,1213.3 758.0,1214.8 758.6,1213.5 759.2,1209.4 759.8,1211.0 760.4,1212.9 761.0,1209.5 761.6,1216.2 762.2,1209.6 762.8,1217.5 763.4,1213.7 764.0,1214.5 764.6,1209.6 765.3,1212.1 765.9,1211.9 766.5,1219.3 767.1,1218.5 767.7,1218.0 768.3,1206.2 768.9,1213.2 769.5,1209.5 770.1,1212.8 770.7,1211.8 771.3,1208.5 771.9,1209.7 772.5,1214.8 773.1,1212.6 773.7,1211.3 774.3,1213.3 774.9,1210.0 775.5,1214.7 776.1,1212.0 776.7,1215.9 777.3,1207.5 777.9,1213.9 778.5,1211.8 779.1,1209.1 779.7,1210.2 780.3,1213.1 780.9,1214.6 781.5,1211.7 782.1,1212.4 782.7,1211.5 783.3,1211.4 783.9,1218.1 784.5,1214.8 785.1,1217.2 785.7,1211.7 786.3,1213.9 786.9,1212.4 787.5,1215.7 788.1,1213.5 788.7,1217.2 789.3,1213.2 789.9,1211.6 790.5,1209.9 791.1,1211.0 791.7,1214.7 792.3,1211.2 792.9,1212.8 793.5,1214.7 794.1,1216.0 794.7,1209.4 795.3,1211.6 795.9,1208.8 796.5,1212.7 797.1,1212.0 797.7,1212.6 798.3,1208.5 798.9,1210.7 799.6,1207.2 800.2,1213.6 800.8,1210.3 801.4,1209.9 802.0,1212.4 802.6,1213.4 803.2,1209.9 803.8,1211.4 804.4,1212.6 805.0,1210.3 805.6,1208.4 806.2,1208.9 806.8,1212.9 807.4,1211.2 808.0,1207.2 808.6,1208.9 809.2,1212.0 809.8,1210.0 810.4,1207.5 811.0,1206.2 811.6,1209.8 812.2,1213.8 812.8,1208.2 813.4,1206.0 814.0,1205.5 814.6,1210.5 815.2,1201.4 815.8,1205.1 816.4,1205.6 817.0,1203.1 817.6,1210.1 818.2,1203.4 818.8,1201.8 819.4,1202.7 820.0,1197.2 820.6,1189.6 821.2,1192.4 821.8,1186.5 822.4,1181.9 823.0,1182.9 823.6,1170.5 824.2,1167.3 824.8,1160.5 825.4,1154.3 826.0,1153.1 826.6,1135.3 827.2,1131.0 827.8,1128.6 828.4,1125.4 829.0,1129.6 829.6,1123.2 830.2,1112.8 830.8,1096.4 831.4,1118.4 832.0,1129.4 832.6,1130.8 833.2,1138.6 833.9,1145.9 834.5,1150.3 835.1,1159.5 835.7,1157.8 836.3,1165.3 836.9,1173.3 837.5,1179.0 838.1,1187.2 838.7,1190.0 839.3,1195.2 839.9,1195.5 840.5,1197.9 841.1,1201.2 841.7,1199.1 842.3,1200.3 842.9,1202.2 843.5,1200.9 844.1,1204.2 844.7,1205.7 845.3,1203.9 845.9,1204.9 846.5,1206.1 847.1,1211.3 847.7,1212.2 848.3,1206.5 848.9,1212.0 849.5,1209.1 850.1,1206.6 850.7,1208.9 851.3,1207.8 851.9,1207.8 852.5,1206.2 853.1,1210.6 853.7,1206.0 854.3,1207.4 854.9,1212.0 855.5,1215.4 856.1,1210.3 856.7,1211.0 857.3,1212.8 857.9,1210.4 858.5,1214.5 859.1,1204.9 859.7,1212.0 860.3,1207.2 860.9,1211.6 861.5,1214.7 862.1,1211.4 862.7,1210.1 863.3,1211.6 863.9,1210.2 864.5,1211.7 865.1,1210.4 865.7,1209.4 866.3,1207.8 866.9,1213.1 867.5,1210.7 868.1,1208.1 868.8,1208.3 869.4,1211.8 870.0,1209.3 870.6,1212.1 871.2,1214.6 871.8,1220.1 872.4,1212.7 873.0,1216.0 873.6,1207.7 874.2,1210.1 874.8,1212.3 875.4,1213.0 876.0,1207.8 876.6,1214.7 877.2,1213.4 877.8,1212.9 878.4,1213.2 879.0,1210.7 879.6,1214.6 880.2,1212.6 880.8,1211.1 881.4,1213.5 882.0,1209.3 882.6,1211.0 883.2,1211.0 883.8,1212.7 884.4,1211.2 885.0,1212.7 885.6,1208.7 886.2,1209.0 886.8,1213.4 887.4,1212.1 888.0,1210.3 888.6,1212.9 889.2,1213.1 889.8,1214.9 890.4,1213.4 891.0,1210.4 891.6,1212.5 892.2,1215.1 892.8,1213.9 893.4,1210.8 894.0,1215.5 894.6,1210.6 895.2,1212.0 895.8,1207.8 896.4,1212.7 897.0,1213.3 897.6,1211.4 898.2,1212.4 898.8,1210.6 899.4,1213.8 900.0,1211.1 900.6,1214.0 901.2,1213.6 901.8,1212.7 902.4,1213.4 903.1,1213.3 903.7,1212.2 904.3,1208.7 904.9,1216.9 905.5,1218.6 906.1,1213.5 906.7,1209.6 907.3,1213.8 907.9,1209.4 908.5,1214.3 909.1,1217.1 909.7,1214.2 910.3,1214.3 910.9,1207.9 911.5,1212.1 912.1,1209.6 912.7,1217.3 913.3,1212.7 913.9,1212.2 914.5,1214.4 915.1,1215.8 915.7,1214.7 916.3,1211.2 916.9,1214.0 917.5,1214.5 918.1,1212.3 918.7,1215.0 919.3,1211.2 919.9,1214.6 920.5,1216.1 921.1,1214.3 921.7,1210.9 922.3,1214.5 922.9,1215.5 923.5,1215.1 924.1,1210.9 924.7,1213.2 925.3,1213.5 925.9,1221.3 926.5,1215.2 927.1,1212.8 927.7,1216.4 928.3,1212.8 928.9,1213.4 929.5,1217.7 930.1,1216.8 930.7,1214.3 931.3,1211.5 931.9,1205.6 932.5,1213.8 933.1,1211.0 933.7,1216.2 934.3,1216.4 934.9,1210.1 935.5,1210.0 936.1,1212.3 936.7,1213.7 937.4,1215.8 938.0,1209.9 938.6,1207.7 939.2,1212.4 939.8,1211.8 940.4,1212.8 941.0,1216.9 941.6,1211.7 942.2,1215.8 942.8,1212.5 943.4,1214.3 944.0,1215.3 944.6,1212.8 945.2,1208.8 945.8,1210.4 946.4,1212.5 947.0,1209.0 947.6,1209.4 948.2,1211.5 948.8,1210.3 949.4,1214.9 950.0,1214.8 950.6,1206.2 951.2,1214.5 951.8,1210.9 952.4,1212.4 953.0,1216.6 953.6,1213.3 954.2,1212.2 954.8,1210.7 955.4,1213.3 956.0,1214.5 956.6,1215.2 957.2,1211.7 957.8,1218.3 958.4,1212.8 959.0,1217.9 959.6,1213.4 960.2,1217.6 960.8,1217.5 961.4,1211.0 962.0,1212.8 962.6,1212.7 963.2,1215.1 963.8,1210.8 964.4,1210.1 965.0,1221.3 965.6,1215.2 966.2,1216.4 966.8,1213.8 967.4,1214.2 968.0,1215.3 968.6,1214.1 969.2,1212.7 969.8,1212.5 970.4,1217.1 971.0,1211.4 971.7,1215.1 972.3,1213.5 972.9,1212.6 973.5,1215.5 974.1,1212.1 974.7,1207.5 975.3,1215.5 975.9,1213.6 976.5,1214.2 977.1,1216.2 977.7,1212.9 978.3,1216.6 978.9,1212.4 979.5,1219.0 980.1,1209.7 980.7,1212.9 981.3,1212.1 981.9,1209.5 982.5,1210.1 983.1,1212.8 983.7,1208.0 984.3,1212.6 984.9,1214.7 985.5,1207.6 986.1,1210.4 986.7,1208.6 987.3,1211.2 987.9,1212.0 988.5,1210.2 989.1,1210.4 989.7,1212.8 990.3,1213.4 990.9,1209.1 991.5,1211.0 992.1,1210.4 992.7,1207.9 993.3,1212.2 993.9,1213.5 994.5,1213.0 995.1,1209.9 995.7,1215.3 996.3,1214.5 996.9,1210.3 997.5,1211.3 998.1,1214.6 998.7,1210.8 999.3,1215.3 999.9,1216.3 1000.5,1211.9 1001.1,1212.3 1001.7,1212.2 1002.3,1215.7 1002.9,1214.4 1003.5,1209.2 1004.1,1208.2 1004.7,1210.1 1005.3,1210.8 1006.0,1208.9 1006.6,1214.0 1007.2,1211.7 1007.8,1213.8 1008.4,1214.0 1009.0,1208.5 1009.6,1216.5 1010.2,1215.1 1010.8,1209.7 1011.4,1207.5 1012.0,1207.2 1012.6,1210.5 1013.2,1207.0 1013.8,1208.8 1014.4,1212.5 1015.0,1206.4 1015.6,1204.8 1016.2,1206.2 1016.8,1204.9 1017.4,1199.9 1018.0,1196.5 1018.6,1200.0 1019.2,1198.1 1019.8,1196.5 1020.4,1196.8 1021.0,1196.8 1021.6,1191.4 1022.2,1195.0 1022.8,1188.7 1023.4,1189.6 1024.0,1189.5 1024.6,1190.1 1025.2,1190.6 1025.8,1187.7 1026.4,1184.4 1027.0,1184.6 1027.6,1183.0 1028.2,1177.6 1028.8,1177.2 1029.4,1173.0 1030.0,1171.3 1030.6,1161.2 1031.2,1159.3 1031.8,1155.9 1032.4,1167.8 1033.0,1167.1 1033.6,1172.9 1034.2,1171.6 1034.8,1184.7 1035.4,1188.5 1036.0,1196.2 1036.6,1200.4 1037.2,1200.0 1037.8,1201.7 1038.4,1204.4 1039.0,1204.7 1039.6,1205.5 1040.3,1207.3 1040.9,1208.7 1041.5,1206.6 1042.1,1208.4 1042.7,1215.0 1043.3,1208.6 1043.9,1209.2 1044.5,1212.5 1045.1,1208.3 1045.7,1209.9 1046.3,1207.1 1046.9,1211.1 1047.5,1208.8 1048.1,1205.8 1048.7,1212.7 1049.3,1213.7 1049.9,1211.1 1050.5,1217.0 1051.1,1207.2 1051.7,1207.6 1052.3,1212.2 1052.9,1214.6 1053.5,1211.7 1054.1,1210.9 1054.7,1209.2 1055.3,1217.3 1055.9,1210.6 1056.5,1214.0 1057.1,1212.9 1057.7,1208.4 1058.3,1214.7 1058.9,1210.6 1059.5,1213.5 1060.1,1213.9 1060.7,1211.9 1061.3,1217.2 1061.9,1216.3 1062.5,1212.3 1063.1,1214.9 1063.7,1216.1 1064.3,1217.6 1064.9,1211.8 1065.5,1218.3 1066.1,1210.2 1066.7,1209.4 1067.3,1214.5 1067.9,1210.1 1068.5,1217.4 1069.1,1207.5 1069.7,1212.7 1070.3,1214.5 1070.9,1208.1 1071.5,1215.6 1072.1,1208.7 1072.7,1213.7 1073.3,1213.4 1073.9,1213.4 1074.6,1215.1 1075.2,1215.0 1075.8,1210.5 1076.4,1210.2 1077.0,1213.0 1077.6,1208.2 1078.2,1216.4 1078.8,1212.3 1079.4,1219.2 1080.0,1214.4 1080.6,1211.1 1081.2,1210.0 1081.8,1216.3 1082.4,1204.0 1083.0,1211.6 1083.6,1218.6 1084.2,1212.7 1084.8,1214.7 1085.4,1212.8 1086.0,1215.2 1086.6,1210.6 1087.2,1213.1 1087.8,1216.3 1088.4,1212.9 1089.0,1213.3 1089.6,1216.2 1090.2,1215.8 1090.8,1213.5 1091.4,1210.7 1092.0,1210.0 1092.6,1213.5 1093.2,1213.0 1093.8,1217.7 1094.4,1221.6 1095.0,1217.4 1095.6,1211.6 1096.2,1212.2 1096.8,1208.6 1097.4,1213.7 1098.0,1213.7 1098.6,1215.5 1099.2,1210.4 1099.8,1213.8 1100.4,1213.0 1101.0,1215.6 1101.6,1209.1 1102.2,1216.5 1102.8,1213.0 1103.4,1212.8 1104.0,1209.6 1104.6,1212.4 1105.2,1213.7 1105.8,1212.2 1106.4,1213.4 1107.0,1209.7 1107.6,1212.8 1108.2,1210.3 1108.9,1207.8 1109.5,1209.1 1110.1,1212.1 1110.7,1213.9 1111.3,1213.1 1111.9,1216.6 1112.5,1213.8 1113.1,1213.1 1113.7,1211.6 1114.3,1214.4 1114.9,1212.7 1115.5,1207.8 1116.1,1212.8 1116.7,1212.9 1117.3,1212.6 1117.9,1220.4 1118.5,1214.7 1119.1,1215.3 1119.7,1214.7 1120.3,1211.8 1120.9,1213.7 1121.5,1213.7 1122.1,1213.8 1122.7,1211.1 1123.3,1213.9 1123.9,1212.1 1124.5,1209.8 1125.1,1210.2 1125.7,1211.9 1126.3,1212.8 1126.9,1209.4 1127.5,1208.7 1128.1,1210.3 1128.7,1211.5 1129.3,1217.1 1129.9,1214.3 1130.5,1206.9 1131.1,1211.5 1131.7,1213.3 1132.3,1215.8 1132.9,1212.7 1133.5,1217.8 1134.1,1211.1 1134.7,1218.6 1135.3,1212.0 1135.9,1212.8 1136.5,1214.0 1137.1,1211.6 1137.7,1210.1 1138.3,1214.2 1138.9,1213.7 1139.5,1217.3 1140.1,1215.4 1140.7,1211.4 1141.3,1214.6 1141.9,1210.9 1142.5,1208.6 1143.1,1212.3 1143.8,1211.4 1144.4,1211.1 1145.0,1215.5 1145.6,1212.7 1146.2,1210.4 1146.8,1211.5 1147.4,1213.5 1148.0,1207.2 1148.6,1214.1 1149.2,1213.4 1149.8,1214.1 1150.4,1216.4 1151.0,1216.2 1151.6,1211.6 1152.2,1215.8 1152.8,1213.4 1153.4,1209.7 1154.0,1212.8 1154.6,1212.4 1155.2,1214.7 1155.8,1210.7 1156.4,1210.6 1157.0,1213.7 1157.6,1210.9 1158.2,1211.6 1158.8,1211.0 1159.4,1213.8 1160.0,1213.4 1160.6,1211.7 1161.2,1205.2 1161.8,1214.7 1162.4,1210.4 1163.0,1213.2 1163.6,1211.5 1164.2,1204.8 1164.8,1214.2 1165.4,1211.4 1166.0,1212.6 1166.6,1213.1 1167.2,1219.0 1167.8,1211.5 1168.4,1212.0 1169.0,1211.0 1169.6,1212.0 1170.2,1213.5 1170.8,1212.1 1171.4,1213.3 1172.0,1212.7 1172.6,1212.5 1173.2,1212.4 1173.8,1219.4 1174.4,1210.7 1175.0,1212.9 1175.6,1210.3 1176.2,1214.6 1176.8,1214.7 1177.4,1212.5 1178.1,1210.3 1178.7,1214.8 1179.3,1216.2 1179.9,1208.6 1180.5,1210.8 1181.1,1212.6 1181.7,1212.8 1182.3,1213.0 1182.9,1214.7 1183.5,1212.1 1184.1,1212.8 1184.7,1214.8 1185.3,1212.2 1185.9,1216.9 1186.5,1213.6 1187.1,1215.9 1187.7,1214.1 1188.3,1215.4 1188.9,1213.5 1189.5,1213.9 1190.1,1214.7 1190.7,1212.4 1191.3,1217.7 1191.9,1210.9 1192.5,1216.8 1193.1,1212.7 1193.7,1216.0 1194.3,1215.0 1194.9,1217.0 1195.5,1221.5 1196.1,1220.3 1196.7,1212.7 1197.3,1214.0 1197.9,1211.8 1198.5,1214.3 1199.1,1210.5 1199.7,1214.8 1200.3,1209.9 1200.9,1217.7 1201.5,1212.7 1202.1,1210.4 1202.7,1212.2 1203.3,1213.9 1203.9,1210.5 1204.5,1217.8 1205.1,1214.6 1205.7,1212.0 1206.3,1210.1 1206.9,1214.0 1207.5,1214.5 1208.1,1215.3 1208.7,1213.1 1209.3,1211.0 1209.9,1215.5 1210.5,1213.0 1211.1,1210.7 1211.7,1213.3 1212.4,1212.8 1213.0,1212.0 1213.6,1215.1 1214.2,1206.3 1214.8,1215.2 1215.4,1212.0 1216.0,1211.8 1216.6,1212.1 1217.2,1213.9 1217.8,1209.9 1218.4,1212.8 1219.0,1215.7 1219.6,1215.2 1220.2,1210.3 1220.8,1211.0 1221.4,1209.2 1222.0,1207.1 1222.6,1215.3 1223.2,1215.6 1223.8,1209.9 1224.4,1218.1 1225.0,1216.7 1225.6,1214.7 1226.2,1212.0 1226.8,1211.8 1227.4,1215.3 1228.0,1214.6 1228.6,1209.3 1229.2,1213.8 1229.8,1213.7 1230.4,1216.8 1231.0,1210.9 1231.6,1212.3 1232.2,1212.7 1232.8,1212.7 1233.4,1211.6 1234.0,1216.7 1234.6,1209.5 1235.2,1211.8 1235.8,1210.6 1236.4,1212.4 1237.0,1215.9 1237.6,1213.6 1238.2,1215.1 1238.8,1214.7 1239.4,1212.7 1240.0,1208.4 1240.6,1213.7 1241.2,1213.1 1241.8,1212.5 1242.4,1212.0 1243.0,1212.6 1243.6,1210.2 1244.2,1211.1 1244.8,1211.5 1245.4,1213.7 1246.0,1217.7 1246.7,1214.8 1247.3,1208.2 1247.9,1213.6 1248.5,1214.6 1249.1,1215.4 1249.7,1211.7 1250.3,1209.1 1250.9,1215.4 1251.5,1212.0 1252.1,1218.1 1252.7,1210.2 1253.3,1218.5 1253.9,1210.1 1254.5,1218.4 1255.1,1213.8 1255.7,1215.9 1256.3,1214.9 1256.9,1216.3 1257.5,1214.9 1258.1,1215.7 1258.7,1210.4 1259.3,1213.2 1259.9,1210.2 1260.5,1213.3 1261.1,1214.0 1261.7,1213.2 1262.3,1216.3 1262.9,1215.7 1263.5,1215.1 1264.1,1216.0 1264.7,1217.4 1265.3,1211.4 1265.9,1212.5 1266.5,1213.6 1267.1,1210.9 1267.7,1212.1 1268.3,1209.4 1268.9,1210.2 1269.5,1217.0 1270.1,1212.7 1270.7,1205.4 1271.3,1214.0 1271.9,1212.3 1272.5,1208.2 1273.1,1211.2 1273.7,1212.5 1274.3,1213.8 1274.9,1211.7 1275.5,1216.2 1276.1,1212.6 1276.7,1219.4 1277.3,1215.8 1277.9,1217.2 1278.5,1216.7 1279.1,1210.1 1279.7,1216.7 1280.3,1220.3 1281.0,1217.9 1281.6,1214.3 1282.2,1210.6 1282.8,1216.3 1283.4,1212.1 1284.0,1214.0 1284.6,1215.7 1285.2,1216.4 1285.8,1211.2 1286.4,1215.9 1287.0,1214.7 1287.6,1212.6 1288.2,1212.5 1288.8,1214.4 1289.4,1217.8 1290.0,1212.3 1290.6,1215.7 1291.2,1211.2 1291.8,1211.9 1292.4,1213.2 1293.0,1213.0 1293.6,1212.9 1294.2,1210.2 1294.8,1211.6 1295.4,1212.2 1296.0,1215.0 1296.6,1214.2 1297.2,1215.3 1297.8,1216.3 1298.4,1213.1 1299.0,1211.5 1299.6,1211.3 1300.2,1217.5 1300.8,1215.6 1301.4,1217.3 1302.0,1218.2 1302.6,1212.9 1303.2,1214.6 1303.8,1213.6 1304.4,1219.1 1305.0,1214.8 1305.6,1217.5 1306.2,1213.6 1306.8,1216.8 1307.4,1214.0 1308.0,1211.7 1308.6,1216.8 1309.2,1211.5 1309.8,1212.6 1310.4,1215.4 1311.0,1214.4 1311.6,1212.3 1312.2,1213.5 1312.8,1216.8 1313.4,1211.5 1314.0,1206.7 1314.6,1216.1 1315.3,1212.0 1315.9,1212.5 1316.5,1215.3 1317.1,1212.2 1317.7,1212.7 1318.3,1216.3 1318.9,1215.0 1319.5,1213.2 1320.1,1211.1 1320.7,1210.8 1321.3,1215.7 1321.9,1214.8 1322.5,1210.8 1323.1,1213.9 1323.7,1207.8 1324.3,1215.0 1324.9,1214.0 1325.5,1211.3 1326.1,1216.2 1326.7,1214.2 1327.3,1212.3 1327.9,1212.3 1328.5,1212.4 1329.1,1215.4 1329.7,1214.8 1330.3,1212.0 1330.9,1210.0 1331.5,1212.6 1332.1,1214.1 1332.7,1211.0 1333.3,1211.1 1333.9,1212.7 1334.5,1214.0 1335.1,1214.8 1335.7,1216.0 1336.3,1208.4 1336.9,1215.8 1337.5,1214.1 1338.1,1211.7 1338.7,1215.3 1339.3,1207.8 1339.9,1208.2 1340.5,1218.3 1341.1,1209.6 1341.7,1213.7 1342.3,1210.2 1342.9,1211.8 1343.5,1210.4 1344.1,1215.7 1344.7,1207.8 1345.3,1213.0 1345.9,1210.4 1346.5,1210.2 1347.1,1215.1 1347.7,1210.6 1348.3,1212.7 1348.9,1214.2 1349.6,1213.2 1350.2,1214.7 1350.8,1215.8 1351.4,1213.7 1352.0,1212.2 1352.6,1212.9 1353.2,1212.0 1353.8,1215.6 1354.4,1211.2 1355.0,1214.0 1355.6,1214.8 1356.2,1211.2 1356.8,1206.5 1357.4,1215.3 1358.0,1213.3 1358.6,1212.8 1359.2,1213.0 1359.8,1213.5 1360.4,1214.1 1361.0,1212.8 1361.6,1211.4 1362.2,1214.4 1362.8,1214.9 1363.4,1211.4 1364.0,1208.0 1364.6,1215.8 1365.2,1215.3 1365.8,1215.1 1366.4,1211.9 1367.0,1216.1 1367.6,1214.9 1368.2,1212.3 1368.8,1211.2 1369.4,1217.5 1370.0,1213.6 1370.6,1213.1 1371.2,1210.6 1371.8,1215.1 1372.4,1212.6 1373.0,1217.7 1373.6,1213.6 1374.2,1214.5 1374.8,1211.0 1375.4,1210.0 1376.0,1210.7 1376.6,1211.8 1377.2,1209.7 1377.8,1210.2 1378.4,1209.7 1379.0,1214.2 1379.6,1215.2 1380.2,1211.0 1380.8,1216.9 1381.4,1214.2 1382.0,1213.3 1382.6,1213.8 1383.2,1217.7 1383.9,1214.9 1384.5,1216.0 1385.1,1221.0 1385.7,1212.5 1386.3,1212.6 1386.9,1214.4 1387.5,1210.6 1388.1,1211.4 1388.7,1211.0 1389.3,1217.8 1389.9,1214.5 1390.5,1212.0 1391.1,1211.0 1391.7,1215.0 1392.3,1215.6 1392.9,1212.2 1393.5,1215.6 1394.1,1211.6 1394.7,1216.3 1395.3,1214.5 1395.9,1212.5 1396.5,1209.6 1397.1,1213.4 1397.7,1214.4 1398.3,1218.0 1398.9,1212.0 1399.5,1212.8 1400.1,1210.9 1400.7,1214.4 1401.3,1212.5 1401.9,1210.6 1402.5,1212.3 1403.1,1212.4 1403.7,1210.9 1404.3,1213.8 1404.9,1211.5 1405.5,1211.8 1406.1,1212.9 1406.7,1208.8 1407.3,1213.5 1407.9,1212.1 1408.5,1211.0 1409.1,1217.8 1409.7,1214.2 1410.3,1211.0 1410.9,1209.2 1411.5,1211.1 1412.1,1216.5 1412.7,1207.3 1413.3,1214.1 1413.9,1210.1 1414.5,1213.6 1415.1,1218.9 1415.7,1216.1 1416.3,1214.0 1416.9,1212.4 1417.5,1215.1 1418.1,1210.8 1418.8,1210.4 1419.4,1213.2 1420.0,1217.8 1420.6,1213.8 1421.2,1216.1 1421.8,1211.5 1422.4,1213.4 1423.0,1209.3 1423.6,1213.5 1424.2,1211.4 1424.8,1216.2 1425.4,1214.8 1426.0,1214.7 1426.6,1216.3 1427.2,1212.1 1427.8,1207.1 1428.4,1208.4 1429.0,1213.0 1429.6,1209.6 1430.2,1210.9 1430.8,1211.3 1431.4,1213.5 1432.0,1205.7 1432.6,1214.5 1433.2,1214.3 1433.8,1212.6 1434.4,1212.5 1435.0,1217.6 1435.6,1213.0 1436.2,1206.4 1436.8,1216.2 1437.4,1209.8 1438.0,1212.9 1438.6,1217.1 1439.2,1210.3 1439.8,1212.0 1440.4,1214.5 1441.0,1212.3 1441.6,1214.8 1442.2,1211.5 1442.8,1211.7 1443.4,1212.7 1444.0,1212.5 1444.6,1214.0 1445.2,1215.4 1445.8,1216.4 1446.4,1209.5 1447.0,1212.0 1447.6,1213.1 1448.2,1215.7 1448.8,1215.3 1449.4,1210.4 1450.0,1218.2 1450.6,1212.6 1451.2,1219.2 1451.8,1211.0 1452.4,1211.6 1453.1,1217.1 1453.7,1212.0 1454.3,1213.3 1454.9,1216.1 1455.5,1214.6 1456.1,1218.5 1456.7,1211.5 1457.3,1213.7 1457.9,1211.3 1458.5,1215.1 1459.1,1215.7 1459.7,1214.5 1460.3,1210.4 1460.9,1214.5 1461.5,1210.6 1462.1,1211.2 1462.7,1212.0 1463.3,1213.5 1463.9,1214.3 1464.5,1211.2 1465.1,1212.5 1465.7,1218.0 1466.3,1212.6 1466.9,1214.1 1467.5,1211.3 1468.1,1218.9 1468.7,1211.3 1469.3,1212.5 1469.9,1212.3 1470.5,1212.3 1471.1,1215.1 1471.7,1212.2 1472.3,1214.6 1472.9,1217.9 1473.5,1210.1 1474.1,1211.7 1474.7,1210.3 1475.3,1213.0 1475.9,1211.5 1476.5,1214.2 1477.1,1204.2 1477.7,1215.3 1478.3,1211.0 1478.9,1213.4 1479.5,1207.4 1480.1,1215.8 1480.7,1207.3 1481.3,1209.2 1481.9,1213.1 1482.5,1209.9 1483.1,1210.6 1483.7,1217.9 1484.3,1213.7 1484.9,1211.5 1485.5,1211.0 1486.1,1214.4 1486.7,1214.4 1487.4,1211.6 1488.0,1207.3 1488.6,1210.6 1489.2,1205.9 1489.8,1209.6 1490.4,1213.8 1491.0,1216.0 1491.6,1215.7 1492.2,1213.8 1492.8,1214.9 1493.4,1208.5 1494.0,1214.0 1494.6,1207.8 1495.2,1209.8 1495.8,1212.9 1496.4,1220.9 1497.0,1211.1 1497.6,1210.2 1498.2,1214.1 1498.8,1214.6 1499.4,1209.6 1500.0,1213.1 1500.6,1210.7 1501.2,1214.6 1501.8,1213.8 1502.4,1213.1 1503.0,1212.4 1503.6,1213.9 1504.2,1210.5 1504.8,1217.2 1505.4,1218.3 1506.0,1215.2 1506.6,1210.2 1507.2,1217.6 1507.8,1209.4 1508.4,1214.9 1509.0,1215.1 1509.6,1213.7 1510.2,1215.7 1510.8,1217.0 1511.4,1210.0 1512.0,1216.1 1512.6,1211.3 1513.2,1213.1 1513.8,1210.4 1514.4,1212.2 1515.0,1213.2 1515.6,1211.9 1516.2,1213.6 1516.8,1212.3 1517.4,1212.3 1518.0,1212.6 1518.6,1211.7 1519.2,1216.9 1519.8,1210.0 1520.4,1217.5 1521.0,1212.2 1521.7,1209.8 1522.3,1209.2 1522.9,1211.7 1523.5,1212.8 1524.1,1214.0 1524.7,1217.7 1525.3,1209.7 1525.9,1214.9 1526.5,1215.1 1527.1,1210.6 1527.7,1214.3 1528.3,1217.2 1528.9,1216.2 1529.5,1211.4 1530.1,1216.8 1530.7,1213.6 1531.3,1212.7 1531.9,1212.1 1532.5,1215.2 1533.1,1213.2 1533.7,1214.6 1534.3,1212.4 1534.9,1212.9 1535.5,1214.2 1536.1,1214.1 1536.7,1212.3 1537.3,1213.2 1537.9,1212.1 1538.5,1213.4 1539.1,1209.6 1539.7,1211.6 1540.3,1216.0 1540.9,1213.7 1541.5,1213.1 1542.1,1210.0 1542.7,1213.5 1543.3,1212.5 1543.9,1211.7 1544.5,1216.9 1545.1,1208.3 1545.7,1213.5 1546.3,1215.9 1546.9,1215.9 1547.5,1214.6 1548.1,1213.7 1548.7,1212.7 1549.3,1214.0 1549.9,1213.2 1550.5,1213.0 1551.1,1213.3 1551.7,1216.0 1552.3,1213.2 1552.9,1211.3 1553.5,1210.3 1554.1,1213.8 1554.7,1208.2 1555.3,1216.0 1556.0,1210.9 1556.6,1214.2 1557.2,1216.7 1557.8,1214.9 1558.4,1217.0 1559.0,1219.5 1559.6,1215.4 1560.2,1210.2 1560.8,1217.1 1561.4,1214.3 1562.0,1216.3 1562.6,1216.0 1563.2,1210.4 1563.8,1216.5 1564.4,1210.7 1565.0,1212.4 1565.6,1209.3 1566.2,1216.9 1566.8,1212.5 1567.4,1214.0 1568.0,1208.1 1568.6,1210.7 1569.2,1214.9 1569.8,1216.2 1570.4,1212.7 1571.0,1210.6 1571.6,1212.5 1572.2,1213.1 1572.8,1213.8 1573.4,1212.6 1574.0,1216.3 1574.6,1210.8 1575.2,1214.4 1575.8,1213.8 1576.4,1215.5 1577.0,1209.4 1577.6,1212.4 1578.2,1213.8 1578.8,1215.3 1579.4,1213.4 1580.0,1215.3 1580.6,1212.9 1581.2,1212.0 1581.8,1209.6 1582.4,1215.6 1583.0,1221.5 1583.6,1208.9 1584.2,1212.0 1584.8,1210.6 1585.4,1213.6 1586.0,1218.2 1586.6,1212.1 1587.2,1216.2 1587.8,1213.3 1588.4,1210.3 1589.0,1210.5 1589.6,1215.8 1590.3,1212.3 1590.9,1216.8 1591.5,1214.2 1592.1,1214.0 1592.7,1208.3 1593.3,1212.1 1593.9,1208.3 1594.5,1214.4 1595.1,1212.7 1595.7,1216.8 1596.3,1211.5 1596.9,1213.8 1597.5,1211.0 1598.1,1215.5 1598.7,1208.1 1599.3,1213.2 1599.9,1211.9 1600.5,1207.3 1601.1,1210.7 1601.7,1216.5 1602.3,1215.9 1602.9,1212.7 1603.5,1217.0 1604.1,1214.3 1604.7,1215.0 1605.3,1213.1 1605.9,1211.0 1606.5,1212.8 1607.1,1216.7 1607.7,1212.4 1608.3,1206.1 1608.9,1214.0 1609.5,1211.7 1610.1,1206.3 1610.7,1212.3 1611.3,1212.3 1611.9,1212.8 1612.5,1214.3 1613.1,1212.2 1613.7,1213.2 1614.3,1210.7 1614.9,1210.0 1615.5,1213.1 1616.1,1211.7 1616.7,1211.4 1617.3,1210.6 1617.9,1212.9 1618.5,1209.2 1619.1,1211.0 1619.7,1210.6 1620.3,1216.8 1620.9,1214.1 1621.5,1213.3 1622.1,1217.5 1622.7,1209.2 1623.3,1214.0 1623.9,1216.0 1624.6,1212.6 1625.2,1211.9 1625.8,1211.9 1626.4,1213.8 1627.0,1213.6 1627.6,1211.9 1628.2,1216.0 1628.8,1216.1 1629.4,1214.7 1630.0,1208.3 1630.6,1213.2 1631.2,1212.5 1631.8,1209.9 1632.4,1214.1 1633.0,1210.0 1633.6,1215.1 1634.2,1215.4 1634.8,1212.7 1635.4,1217.1 1636.0,1209.8 1636.6,1217.2 1637.2,1213.6 1637.8,1212.5 1638.4,1212.4 1639.0,1217.2 1639.6,1213.1 1640.2,1212.2 1640.8,1219.0 1641.4,1213.4 1642.0,1218.9 1642.6,1212.6 1643.2,1215.1 1643.8,1210.5 1644.4,1210.9 1645.0,1212.6 1645.6,1208.8 1646.2,1211.5 1646.8,1210.3 1647.4,1211.6 1648.0,1215.6 1648.6,1212.3 1649.2,1211.9 1649.8,1210.4 1650.4,1214.0 1651.0,1213.4 1651.6,1216.6 1652.2,1214.0 1652.8,1215.2 1653.4,1213.6 1654.0,1216.8 1654.6,1209.1 1655.2,1213.9 1655.8,1210.2 1656.4,1208.7 1657.0,1212.4 1657.6,1210.1 1658.2,1214.9 1658.9,1213.2 1659.5,1210.7 1660.1,1210.7 1660.7,1214.6 1661.3,1212.9 1661.9,1215.9 1662.5,1210.8 1663.1,1218.6 1663.7,1210.7 1664.3,1206.8 1664.9,1212.8 1665.5,1216.8 1666.1,1210.4 1666.7,1208.7 1667.3,1206.2 1667.9,1209.0 1668.5,1211.4 1669.1,1211.9 1669.7,1212.7 1670.3,1215.4 1670.9,1209.0 1671.5,1213.5 1672.1,1210.9 1672.7,1215.1 1673.3,1212.1 1673.9,1211.6 1674.5,1211.3 1675.1,1208.1 1675.7,1207.1 1676.3,1209.4 1676.9,1206.2 1677.5,1212.9 1678.1,1204.4 1678.7,1208.4 1679.3,1208.0 1679.9,1205.3 1680.5,1205.3 1681.1,1206.2 1681.7,1207.7 1682.3,1205.0 1682.9,1204.9 1683.5,1203.5 1684.1,1210.5 1684.7,1198.7 1685.3,1194.8 1685.9,1205.0 1686.5,1203.9 1687.1,1200.7 1687.7,1195.1 1688.3,1202.6 1688.9,1200.5 1689.5,1199.5 1690.1,1200.6 1690.7,1194.3 1691.3,1192.0 1691.9,1194.8 1692.5,1193.1 1693.1,1190.4 1693.8,1191.7 1694.4,1186.8 1695.0,1189.3 1695.6,1192.0 1696.2,1184.6 1696.8,1186.5 1697.4,1186.7 1698.0,1185.6 1698.6,1192.7 1699.2,1192.9 1699.8,1191.9 1700.4,1198.0 1701.0,1196.4 1701.6,1199.9 1702.2,1199.6 1702.8,1203.3 1703.4,1206.6 1704.0,1201.2 1704.6,1206.0 1705.2,1205.7 1705.8,1205.9 1706.4,1207.6 1707.0,1207.2 1707.6,1212.3 1708.2,1209.0 1708.8,1208.7 1709.4,1214.7 1710.0,1212.3 1710.6,1209.2 1711.2,1210.1 1711.8,1211.6 1712.4,1210.6 1713.0,1209.9 1713.6,1211.2 1714.2,1209.5 1714.8,1215.7 1715.4,1215.1 1716.0,1209.9 1716.6,1214.3 1717.2,1211.2 1717.8,1209.2 1718.4,1211.8 1719.0,1214.2 1719.6,1215.6 1720.2,1212.0 1720.8,1212.1 1721.4,1214.5 1722.0,1215.2 1722.6,1208.2 1723.2,1215.5 1723.8,1209.6 1724.4,1215.3 1725.0,1216.5 1725.6,1212.8 1726.2,1210.7 1726.8,1211.8 1727.4,1215.7 1728.1,1210.6 1728.7,1208.3 1729.3,1213.9 1729.9,1212.7 1730.5,1211.1 1731.1,1215.1 1731.7,1214.9 1732.3,1213.0 1732.9,1212.3 1733.5,1210.9 1734.1,1212.3 1734.7,1207.0 1735.3,1209.0 1735.9,1210.9 1736.5,1213.8 1737.1,1207.3 1737.7,1211.9 1738.3,1214.9 1738.9,1212.7 1739.5,1210.7 1740.1,1215.9 1740.7,1215.3 1741.3,1215.8 1741.9,1212.6 1742.5,1211.5 1743.1,1209.6 1743.7,1211.7 1744.3,1212.1 1744.9,1212.9 1745.5,1215.8 1746.1,1213.4 1746.7,1213.1 1747.3,1210.3 1747.9,1210.6 1748.5,1212.6 1749.1,1214.1 1749.7,1214.6 1750.3,1212.1 1750.9,1212.1 1751.5,1207.5 1752.1,1218.3 1752.7,1212.6 1753.3,1209.8 1753.9,1209.9 1754.5,1212.9 1755.1,1211.4 1755.7,1213.2 1756.3,1209.2 1756.9,1212.6 1757.5,1216.2 1758.1,1211.4 1758.7,1210.4 1759.3,1210.2 1759.9,1210.9 1760.5,1212.1 1761.1,1217.7 1761.7,1215.6 1762.4,1208.9 1763.0,1212.4 1763.6,1207.9 1764.2,1212.4 1764.8,1210.9 1765.4,1214.4 1766.0,1212.6 1766.6,1216.1 1767.2,1213.5 1767.8,1217.1 1768.4,1213.3 1769.0,1210.8 1769.6,1217.0 1770.2,1212.5 1770.8,1208.0 1771.4,1214.1 1772.0,1216.0 1772.6,1210.9 1773.2,1212.4 1773.8,1214.7 1774.4,1213.1 1775.0,1213.0 1775.6,1208.9 1776.2,1210.1 1776.8,1209.4 1777.4,1215.3 1778.0,1213.7 1778.6,1212.7 1779.2,1215.6 1779.8,1217.2 1780.4,1213.5 1781.0,1210.0 1781.6,1212.6 1782.2,1207.5 1782.8,1211.3 1783.4,1212.8 1784.0,1208.8 1784.6,1213.6 1785.2,1215.1 1785.8,1211.4 1786.4,1211.5 1787.0,1215.2 1787.6,1214.3 1788.2,1216.4 1788.8,1216.0 1789.4,1209.6 1790.0,1211.4 1790.6,1210.3 1791.2,1212.3 1791.8,1209.0 1792.4,1212.7 1793.0,1212.3 1793.6,1214.8 1794.2,1219.2 1794.8,1217.3 1795.4,1207.3 1796.0,1213.7 1796.7,1213.1 1797.3,1209.4 1797.9,1217.0 1798.5,1212.0 1799.1,1214.7 1799.7,1215.8 1800.3,1212.6 1800.9,1217.4 1801.5,1207.9 1802.1,1216.2 1802.7,1209.8 1803.3,1215.4 1803.9,1210.6 1804.5,1212.3 1805.1,1215.3 1805.7,1215.5 1806.3,1217.8 1806.9,1217.2 1807.5,1210.7 1808.1,1212.4 1808.7,1215.4 1809.3,1213.7 1809.9,1211.5 1810.5,1213.7 1811.1,1215.2 1811.7,1215.5 1812.3,1217.1 1812.9,1211.2 1813.5,1213.1 1814.1,1214.4 1814.7,1209.7 1815.3,1211.6 1815.9,1212.2 1816.5,1210.1 1817.1,1207.4 1817.7,1216.4 1818.3,1209.3 1818.9,1215.9 1819.5,1214.9 1820.1,1211.1 1820.7,1215.2 1821.3,1211.4 1821.9,1212.3 1822.5,1211.8 1823.1,1211.5 1823.7,1215.8 1824.3,1213.6 1824.9,1214.7 1825.5,1214.0 1826.1,1221.2 1826.7,1210.5 1827.3,1214.6 1827.9,1217.4 1828.5,1211.6 1829.1,1213.2 1829.7,1217.5 1830.3,1218.7 1831.0,1217.2 1831.6,1219.2 1832.2,1214.6 1832.8,1213.9 1833.4,1216.5 1834.0,1217.9 1834.6,1211.7 1835.2,1218.9 1835.8,1214.2 1836.4,1211.0 1837.0,1217.7 1837.6,1213.0 1838.2,1211.3 1838.8,1215.6 1839.4,1212.2 1840.0,1211.0 1840.6,1217.1 1841.2,1210.0 1841.8,1213.4 1842.4,1216.4 1843.0,1214.5 1843.6,1210.5 1844.2,1212.0 1844.8,1211.6 1845.4,1215.5 1846.0,1210.2 1846.6,1219.3 1847.2,1212.5 1847.8,1213.0 1848.4,1209.9 1849.0,1214.0 1849.6,1212.1 1850.2,1211.7 1850.8,1208.9 1851.4,1217.0 1852.0,1213.4 1852.6,1210.1 1853.2,1211.5 1853.8,1215.3 1854.4,1213.0 1855.0,1214.3 1855.6,1210.3 1856.2,1215.8 1856.8,1209.1 1857.4,1212.9 1858.0,1208.4 1858.6,1214.2 1859.2,1214.4 1859.8,1213.1 1860.4,1214.5 1861.0,1215.4 1861.6,1210.4 1862.2,1212.0 1862.8,1210.6 1863.4,1216.1 1864.0,1207.9 1864.6,1210.1 1865.3,1211.2 1865.9,1212.0 1866.5,1216.8 1867.1,1210.4 1867.7,1212.5 1868.3,1213.2 1868.9,1214.9 1869.5,1212.9 1870.1,1213.8 1870.7,1213.2 1871.3,1213.8 1871.9,1213.6 1872.5,1208.9 1873.1,1213.7 1873.7,1212.8 1874.3,1212.5 1874.9,1214.5 1875.5,1215.6 1876.1,1216.7 1876.7,1213.7 1877.3,1213.1 1877.9,1213.9 1878.5,1207.4 1879.1,1212.3 1879.7,1210.3 1880.3,1218.5 1880.9,1215.6 1881.5,1214.1 1882.1,1216.7 1882.7,1216.5 1883.3,1214.1 1883.9,1215.9 1884.5,1214.3 1885.1,1216.4 1885.7,1212.5 1886.3,1213.6 1886.9,1214.3 1887.5,1215.4 1888.1,1211.4 1888.7,1214.1 1889.3,1211.4 1889.9,1213.4 1890.5,1208.5 1891.1,1207.5 1891.7,1211.9 1892.3,1213.2 1892.9,1210.4 1893.5,1218.8 1894.1,1210.4 1894.7,1210.4 1895.3,1212.9 1895.9,1211.7 1896.5,1213.9 1897.1,1210.4 1897.7,1215.1 1898.3,1209.5 1898.9,1211.2 1899.6,1212.3 1900.2,1210.3 1900.8,1214.1 1901.4,1213.1 1902.0,1214.8 1902.6,1210.2 1903.2,1212.2 1903.8,1212.7 1904.4,1215.1 1905.0,1213.3 1905.6,1214.4 1906.2,1214.5 1906.8,1216.3 1907.4,1213.7 1908.0,1208.6 1908.6,1211.9 1909.2,1217.4 1909.8,1212.2 1910.4,1214.9 1911.0,1218.0 1911.6,1212.5 1912.2,1212.8 1912.8,1211.9 1913.4,1216.3 1914.0,1213.5 1914.6,1211.1 1915.2,1212.0 1915.8,1211.4 1916.4,1209.7 1917.0,1215.0 1917.6,1216.0 1918.2,1217.7 1918.8,1212.1 1919.4,1215.8 1920.0,1219.6 1920.6,1208.0 1921.2,1210.6 1921.8,1210.9 1922.4,1218.4 1923.0,1214.5 1923.6,1213.3 1924.2,1212.7 1924.8,1211.8 1925.4,1210.5 1926.0,1212.4 1926.6,1208.0 1927.2,1214.9 1927.8,1213.7 1928.4,1214.1 1929.0,1218.1 1929.6,1216.3 1930.2,1215.2 1930.8,1215.0 1931.4,1212.9 1932.0,1216.4 1932.6,1214.2 1933.2,1212.5 1933.9,1213.3 1934.5,1214.3 1935.1,1211.8 1935.7,1215.7 1936.3,1220.3 1936.9,1210.5 1937.5,1211.7 1938.1,1212.7 1938.7,1213.7 1939.3,1211.5 1939.9,1216.2 1940.5,1212.9 1941.1,1216.0 1941.7,1215.4 1942.3,1212.4 1942.9,1214.7 1943.5,1219.4 1944.1,1212.4 1944.7,1211.4 1945.3,1218.9 1945.9,1212.8 1946.5,1210.8 1947.1,1208.1 1947.7,1214.8 1948.3,1213.9 1948.9,1208.7 1949.5,1213.8 1950.1,1208.5 1950.7,1214.8 1951.3,1216.4 1951.9,1213.6 1952.5,1217.0 1953.1,1208.9 1953.7,1207.9 1954.3,1215.7 1954.9,1209.3 1955.5,1212.7 1956.1,1217.8 1956.7,1214.9 1957.3,1212.6 1957.9,1212.7 1958.5,1216.1 1959.1,1211.0 1959.7,1214.0 1960.3,1213.5 1960.9,1213.8 1961.5,1212.6 1962.1,1211.1 1962.7,1209.3 1963.3,1215.8 1963.9,1212.3 1964.5,1215.9 1965.1,1214.7 1965.7,1207.5 1966.3,1214.6 1966.9,1212.4 1967.5,1215.2 1968.1,1210.5 1968.8,1215.3 1969.4,1217.9 1970.0,1208.2 1970.6,1212.6 1971.2,1213.6 1971.8,1215.3 1972.4,1215.2 1973.0,1211.3 1973.6,1213.6 1974.2,1215.4 1974.8,1211.1 1975.4,1213.4 1976.0,1212.5 1976.6,1213.2 1977.2,1208.2 1977.8,1214.9 1978.4,1212.9 1979.0,1215.2 1979.6,1215.6 1980.2,1215.3 1980.8,1215.4 1981.4,1215.4 1982.0,1217.1 1982.6,1212.2 1983.2,1208.6 1983.8,1213.2 1984.4,1213.5 1985.0,1215.2 1985.6,1214.0 1986.2,1212.5 1986.8,1215.9 1987.4,1212.8 1988.0,1209.8 1988.6,1207.9 1989.2,1211.7 1989.8,1218.8 1990.4,1213.1 1991.0,1211.9 1991.6,1213.5 1992.2,1209.1 1992.8,1217.4 1993.4,1210.2 1994.0,1210.6 1994.6,1212.0 1995.2,1216.6 1995.8,1216.0 1996.4,1214.9 1997.0,1214.6 1997.6,1208.3 1998.2,1217.1 1998.8,1214.4 1999.4,1211.9 2000.0,1210.6 2000.6,1214.6 2001.2,1210.2 2001.8,1212.2 2002.4,1218.1 2003.1,1211.9 2003.7,1213.8 2004.3,1213.0 2004.9,1216.7 2005.5,1211.8 2006.1,1215.8 2006.7,1216.1 2007.3,1214.9 2007.9,1212.7 2008.5,1215.5 2009.1,1211.4 2009.7,1207.6 2010.3,1214.9 2010.9,1211.0 2011.5,1213.2 2012.1,1214.0 2012.7,1216.9 2013.3,1210.0 2013.9,1216.4 2014.5,1214.2 2015.1,1212.3 2015.7,1212.6 2016.3,1213.4 2016.9,1215.8 2017.5,1214.3 2018.1,1211.0 2018.7,1211.0 2019.3,1213.2 2019.9,1209.8 2020.5,1218.4 2021.1,1217.8 2021.7,1212.9 2022.3,1215.2 2022.9,1208.7 2023.5,1220.3 2024.1,1210.4 2024.7,1209.9 2025.3,1220.7 2025.9,1212.6 2026.5,1215.6 2027.1,1211.0 2027.7,1213.7 2028.3,1215.4 2028.9,1214.8 2029.5,1213.9 2030.1,1213.9 2030.7,1214.4 2031.3,1215.3 2031.9,1217.5 2032.5,1212.4 2033.1,1213.0 2033.7,1211.9 2034.3,1212.9 2034.9,1213.0 2035.5,1214.4 2036.1,1212.7 2036.7,1218.8 2037.4,1215.3 2038.0,1214.6 2038.6,1215.7 2039.2,1213.2 2039.8,1217.5 2040.4,1211.0 2041.0,1210.8 2041.6,1214.7 2042.2,1214.0 2042.8,1212.7 2043.4,1211.6 2044.0,1211.9 2044.6,1218.8 2045.2,1215.4 2045.8,1207.1 2046.4,1215.1 2047.0,1215.8 2047.6,1215.8 2048.2,1212.0 2048.8,1214.5 2049.4,1216.7 2050.0,1214.0 2050.6,1212.3 2051.2,1213.2 2051.8,1215.5 2052.4,1210.7 2053.0,1215.4 2053.6,1211.2 2054.2,1213.5 2054.8,1212.0 2055.4,1213.6 2056.0,1210.6 2056.6,1212.2 2057.2,1213.2 2057.8,1210.3 2058.4,1210.6 2059.0,1216.8 2059.6,1214.6 2060.2,1213.3 2060.8,1213.6 2061.4,1212.3 2062.0,1214.8 2062.6,1214.0 2063.2,1210.2 2063.8,1212.8 2064.4,1213.3 2065.0,1213.7 2065.6,1209.7 2066.2,1215.0 2066.8,1212.9 2067.4,1214.7 2068.0,1212.1 2068.6,1210.0 2069.2,1209.2 2069.8,1207.9 2070.4,1211.0 2071.0,1214.3 2071.7,1217.4 2072.3,1212.8 2072.9,1210.0 2073.5,1213.7 2074.1,1212.9 2074.7,1214.5 2075.3,1210.2 2075.9,1213.7 2076.5,1211.5 2077.1,1215.5 2077.7,1211.6 2078.3,1213.9 2078.9,1214.3 2079.5,1216.7 2080.1,1212.5 2080.7,1212.1 2081.3,1210.6 2081.9,1208.9 2082.5,1213.8 2083.1,1214.9 2083.7,1215.8 2084.3,1214.4 2084.9,1220.1 2085.5,1217.2 2086.1,1215.1 2086.7,1214.7 2087.3,1215.3 2087.9,1210.4 2088.5,1214.0"/>
<polyline fill="none" stroke="#0270e6" stroke-width="4.6" stroke-linejoin="round" stroke-linecap="butt" points="163.5,1018.9 164.1,1016.7 164.7,1019.4 165.3,1018.1 165.9,1014.3 166.5,1020.3 167.1,1017.8 167.7,1019.4 168.3,1022.3 168.9,1018.6 169.5,1015.5 170.1,1016.4 170.7,1020.4 171.3,1014.6 171.9,1018.6 172.5,1018.9 173.1,1015.3 173.7,1018.4 174.3,1019.3 174.9,1016.2 175.5,1016.9 176.1,1019.3 176.7,1015.0 177.3,1015.9 177.9,1020.2 178.5,1018.2 179.1,1014.7 179.7,1018.0 180.3,1022.5 181.0,1014.5 181.6,1019.9 182.2,1019.8 182.8,1017.6 183.4,1019.4 184.0,1016.4 184.6,1021.6 185.2,1022.0 185.8,1015.9 186.4,1017.5 187.0,1018.3 187.6,1016.5 188.2,1018.8 188.8,1015.6 189.4,1019.3 190.0,1017.3 190.6,1017.9 191.2,1019.1 191.8,1020.2 192.4,1015.7 193.0,1019.8 193.6,1020.0 194.2,1017.7 194.8,1021.6 195.4,1016.2 196.0,1016.7 196.6,1018.9 197.2,1016.4 197.8,1021.2 198.4,1018.5 199.0,1022.0 199.6,1015.6 200.2,1015.8 200.8,1021.1 201.4,1015.6 202.0,1020.5 202.6,1016.1 203.2,1018.6 203.8,1020.7 204.4,1017.9 205.0,1015.3 205.6,1016.9 206.2,1020.6 206.8,1018.4 207.4,1019.6 208.0,1018.2 208.6,1018.7 209.2,1017.6 209.8,1015.7 210.4,1019.3 211.0,1018.4 211.6,1013.4 212.2,1018.0 212.8,1020.3 213.4,1022.5 214.0,1014.9 214.6,1018.3 215.3,1019.3 215.9,1019.8 216.5,1016.4 217.1,1019.2 217.7,1017.0 218.3,1017.9 218.9,1016.8 219.5,1018.7 220.1,1016.6 220.7,1018.7 221.3,1017.8 221.9,1020.1 222.5,1021.9 223.1,1017.8 223.7,1016.3 224.3,1017.5 224.9,1016.8 225.5,1014.2 226.1,1018.1 226.7,1016.9 227.3,1020.1 227.9,1017.7 228.5,1020.1 229.1,1019.8 229.7,1016.9 230.3,1017.2 230.9,1016.8 231.5,1017.0 232.1,1019.9 232.7,1016.8 233.3,1017.0 233.9,1016.1 234.5,1021.2 235.1,1017.2 235.7,1017.6 236.3,1016.0 236.9,1018.5 237.5,1016.2 238.1,1016.4 238.7,1013.3 239.3,1014.2 239.9,1018.4 240.5,1019.7 241.1,1014.1 241.7,1018.3 242.3,1018.4 242.9,1024.9 243.5,1015.7 244.1,1016.4 244.7,1015.5 245.3,1019.8 245.9,1020.3 246.5,1017.3 247.1,1021.4 247.7,1022.8 248.3,1016.9 248.9,1019.2 249.6,1017.5 250.2,1016.5 250.8,1016.9 251.4,1017.4 252.0,1015.0 252.6,1017.8 253.2,1019.8 253.8,1015.8 254.4,1016.8 255.0,1015.9 255.6,1018.8 256.2,1017.7 256.8,1020.1 257.4,1017.3 258.0,1014.6 258.6,1019.3 259.2,1017.3 259.8,1020.6 260.4,1019.6 261.0,1012.0 261.6,1013.5 262.2,1018.0 262.8,1016.3 263.4,1012.9 264.0,1016.8 264.6,1020.9 265.2,1019.4 265.8,1016.0 266.4,1018.6 267.0,1020.3 267.6,1017.6 268.2,1022.0 268.8,1016.4 269.4,1022.8 270.0,1021.5 270.6,1019.2 271.2,1018.5 271.8,1018.1 272.4,1015.9 273.0,1020.2 273.6,1020.9 274.2,1019.8 274.8,1018.6 275.4,1018.2 276.0,1015.9 276.6,1016.5 277.2,1014.7 277.8,1019.1 278.4,1015.9 279.0,1019.9 279.6,1016.5 280.2,1021.2 280.8,1021.6 281.4,1021.5 282.0,1020.6 282.6,1017.3 283.2,1017.3 283.9,1016.3 284.5,1018.7 285.1,1021.8 285.7,1015.5 286.3,1023.5 286.9,1016.7 287.5,1015.3 288.1,1018.8 288.7,1020.4 289.3,1017.2 289.9,1015.7 290.5,1022.0 291.1,1015.5 291.7,1020.2 292.3,1018.3 292.9,1017.1 293.5,1018.1 294.1,1015.5 294.7,1015.5 295.3,1018.7 295.9,1015.6 296.5,1016.2 297.1,1021.3 297.7,1022.1 298.3,1020.5 298.9,1020.0 299.5,1017.4 300.1,1018.2 300.7,1016.3 301.3,1011.6 301.9,1018.4 302.5,1018.5 303.1,1020.2 303.7,1015.3 304.3,1020.6 304.9,1016.8 305.5,1015.2 306.1,1017.4 306.7,1020.1 307.3,1017.9 307.9,1019.0 308.5,1016.0 309.1,1019.0 309.7,1020.2 310.3,1016.0 310.9,1018.9 311.5,1014.9 312.1,1018.5 312.7,1014.6 313.3,1018.9 313.9,1018.0 314.5,1015.4 315.1,1018.8 315.7,1015.7 316.3,1018.2 316.9,1015.9 317.5,1019.2 318.1,1016.7 318.8,1021.2 319.4,1019.0 320.0,1019.2 320.6,1015.0 321.2,1013.3 321.8,1016.2 322.4,1022.1 323.0,1015.9 323.6,1020.7 324.2,1020.8 324.8,1016.7 325.4,1017.5 326.0,1020.9 326.6,1017.4 327.2,1017.1 327.8,1016.7 328.4,1018.2 329.0,1017.7 329.6,1020.8 330.2,1018.5 330.8,1020.6 331.4,1017.8 332.0,1023.6 332.6,1017.7 333.2,1017.7 333.8,1016.2 334.4,1014.2 335.0,1016.1 335.6,1018.5 336.2,1015.8 336.8,1019.9 337.4,1014.4 338.0,1014.3 338.6,1018.7 339.2,1018.9 339.8,1015.5 340.4,1020.4 341.0,1021.1 341.6,1018.8 342.2,1015.1 342.8,1020.8 343.4,1017.4 344.0,1017.6 344.6,1019.1 345.2,1016.5 345.8,1021.4 346.4,1016.6 347.0,1020.4 347.6,1019.7 348.2,1022.0 348.8,1019.1 349.4,1020.0 350.0,1017.2 350.6,1017.5 351.2,1015.9 351.8,1019.7 352.4,1016.6 353.1,1021.4 353.7,1017.8 354.3,1015.4 354.9,1016.6 355.5,1020.7 356.1,1017.0 356.7,1019.4 357.3,1014.6 357.9,1019.1 358.5,1019.8 359.1,1019.2 359.7,1019.9 360.3,1015.9 360.9,1014.4 361.5,1015.2 362.1,1020.0 362.7,1019.0 363.3,1019.9 363.9,1016.9 364.5,1019.9 365.1,1014.7 365.7,1019.1 366.3,1015.9 366.9,1017.2 367.5,1019.6 368.1,1020.1 368.7,1017.8 369.3,1017.4 369.9,1021.2 370.5,1020.5 371.1,1016.7 371.7,1018.9 372.3,1017.7 372.9,1020.4 373.5,1019.2 374.1,1019.2 374.7,1018.4 375.3,1017.1 375.9,1020.7 376.5,1019.2 377.1,1013.1 377.7,1017.1 378.3,1018.8 378.9,1015.8 379.5,1016.2 380.1,1016.8 380.7,1019.0 381.3,1016.1 381.9,1019.1 382.5,1023.2 383.1,1020.3 383.7,1020.4 384.3,1017.8 384.9,1020.9 385.5,1018.3 386.1,1020.2 386.7,1015.8 387.4,1021.0 388.0,1017.0 388.6,1018.3 389.2,1020.6 389.8,1018.2 390.4,1017.2 391.0,1017.9 391.6,1020.6 392.2,1020.7 392.8,1019.7 393.4,1016.8 394.0,1017.3 394.6,1020.7 395.2,1019.8 395.8,1016.6 396.4,1016.7 397.0,1019.7 397.6,1020.6 398.2,1018.4 398.8,1015.6 399.4,1021.7 400.0,1018.3 400.6,1019.2 401.2,1013.4 401.8,1016.6 402.4,1017.7 403.0,1018.8 403.6,1016.2 404.2,1014.7 404.8,1014.5 405.4,1017.2 406.0,1018.7 406.6,1018.6 407.2,1012.0 407.8,1016.5 408.4,1017.8 409.0,1020.2 409.6,1019.2 410.2,1018.6 410.8,1014.3 411.4,1020.4 412.0,1017.8 412.6,1018.5 413.2,1016.5 413.8,1017.5 414.4,1017.2 415.0,1017.1 415.6,1016.0 416.2,1019.4 416.8,1019.9 417.4,1016.8 418.0,1016.2 418.6,1016.2 419.2,1017.3 419.8,1021.1 420.4,1017.7 421.0,1022.0 421.7,1015.2 422.3,1015.6 422.9,1016.3 423.5,1016.1 424.1,1018.7 424.7,1021.8 425.3,1016.4 425.9,1018.7 426.5,1020.9 427.1,1023.2 427.7,1018.4 428.3,1020.1 428.9,1020.9 429.5,1018.2 430.1,1019.2 430.7,1017.2 431.3,1016.1 431.9,1016.7 432.5,1020.5 433.1,1020.9 433.7,1018.6 434.3,1015.4 434.9,1020.7 435.5,1018.0 436.1,1021.3 436.7,1018.3 437.3,1015.5 437.9,1017.4 438.5,1016.6 439.1,1021.5 439.7,1013.1 440.3,1016.8 440.9,1017.4 441.5,1013.6 442.1,1019.0 442.7,1019.4 443.3,1019.9 443.9,1019.9 444.5,1017.8 445.1,1020.1 445.7,1017.1 446.3,1018.1 446.9,1018.5 447.5,1018.2 448.1,1019.2 448.7,1016.6 449.3,1017.8 449.9,1016.8 450.5,1018.2 451.1,1018.7 451.7,1016.4 452.3,1021.2 452.9,1022.3 453.5,1019.3 454.1,1018.3 454.7,1016.7 455.3,1017.7 456.0,1017.6 456.6,1019.6 457.2,1018.1 457.8,1019.6 458.4,1019.3 459.0,1017.0 459.6,1015.2 460.2,1015.5 460.8,1015.8 461.4,1018.0 462.0,1020.6 462.6,1016.1 463.2,1019.5 463.8,1017.7 464.4,1020.8 465.0,1023.0 465.6,1020.4 466.2,1018.8 466.8,1019.2 467.4,1021.0 468.0,1017.5 468.6,1016.5 469.2,1018.5 469.8,1021.6 470.4,1016.6 471.0,1020.5 471.6,1020.0 472.2,1017.7 472.8,1016.4 473.4,1014.6 474.0,1015.6 474.6,1018.5 475.2,1019.7 475.8,1016.8 476.4,1016.9 477.0,1016.4 477.6,1023.4 478.2,1015.1 478.8,1014.9 479.4,1020.4 480.0,1015.7 480.6,1020.2 481.2,1016.3 481.8,1020.3 482.4,1021.0 483.0,1017.0 483.6,1018.0 484.2,1015.9 484.8,1019.9 485.4,1017.3 486.0,1016.0 486.6,1019.0 487.2,1018.8 487.8,1017.9 488.4,1017.1 489.0,1020.1 489.6,1016.6 490.3,1016.1 490.9,1017.5 491.5,1019.1 492.1,1017.2 492.7,1016.6 493.3,1015.8 493.9,1016.3 494.5,1016.5 495.1,1022.3 495.7,1011.8 496.3,1017.0 496.9,1018.2 497.5,1016.0 498.1,1015.4 498.7,1019.2 499.3,1021.0 499.9,1020.4 500.5,1018.0 501.1,1017.0 501.7,1019.4 502.3,1014.4 502.9,1016.1 503.5,1023.0 504.1,1018.9 504.7,1018.3 505.3,1017.6 505.9,1017.1 506.5,1016.1 507.1,1019.2 507.7,1019.1 508.3,1019.1 508.9,1012.7 509.5,1020.8 510.1,1019.8 510.7,1021.4 511.3,1016.8 511.9,1013.3 512.5,1015.2 513.1,1016.1 513.7,1022.4 514.3,1016.4 514.9,1017.0 515.5,1020.2 516.1,1019.9 516.7,1020.1 517.3,1017.0 517.9,1022.0 518.5,1018.9 519.1,1016.2 519.7,1018.9 520.3,1014.9 520.9,1015.3 521.5,1016.5 522.1,1015.4 522.7,1016.9 523.3,1016.6 523.9,1017.0 524.6,1016.1 525.2,1020.4 525.8,1015.8 526.4,1016.8 527.0,1016.0 527.6,1016.7 528.2,1015.2 528.8,1022.6 529.4,1017.4 530.0,1019.8 530.6,1017.2 531.2,1015.2 531.8,1016.9 532.4,1016.5 533.0,1015.3 533.6,1018.2 534.2,1021.5 534.8,1018.4 535.4,1020.3 536.0,1020.8 536.6,1013.8 537.2,1022.1 537.8,1015.2 538.4,1022.0 539.0,1018.5 539.6,1019.3 540.2,1022.8 540.8,1020.3 541.4,1014.6 542.0,1014.1 542.6,1015.4 543.2,1020.2 543.8,1018.7 544.4,1020.0 545.0,1019.0 545.6,1020.6 546.2,1015.8 546.8,1014.0 547.4,1016.5 548.0,1019.8 548.6,1015.8 549.2,1012.9 549.8,1016.8 550.4,1019.5 551.0,1018.9 551.6,1017.2 552.2,1016.9 552.8,1013.4 553.4,1017.9 554.0,1022.0 554.6,1016.8 555.2,1021.4 555.8,1015.2 556.4,1017.0 557.0,1016.8 557.6,1017.8 558.2,1013.9 558.9,1020.4 559.5,1017.1 560.1,1013.1 560.7,1019.1 561.3,1018.0 561.9,1015.0 562.5,1017.5 563.1,1019.5 563.7,1019.3 564.3,1018.5 564.9,1016.4 565.5,1018.4 566.1,1020.6 566.7,1022.6 567.3,1019.3 567.9,1019.7 568.5,1020.0 569.1,1017.4 569.7,1014.2 570.3,1016.7 570.9,1017.5 571.5,1018.3 572.1,1017.8 572.7,1016.1 573.3,1016.4 573.9,1017.0 574.5,1015.6 575.1,1015.6 575.7,1013.6 576.3,1016.5 576.9,1017.4 577.5,1015.7 578.1,1016.5 578.7,1017.2 579.3,1014.7 579.9,1015.6 580.5,1015.0 581.1,1018.0 581.7,1014.6 582.3,1017.0 582.9,1012.6 583.5,1020.8 584.1,1018.2 584.7,1015.3 585.3,1017.0 585.9,1021.2 586.5,1017.4 587.1,1014.1 587.7,1017.2 588.3,1016.3 588.9,1018.5 589.5,1017.8 590.1,1014.0 590.7,1018.0 591.3,1019.7 591.9,1020.6 592.5,1018.4 593.1,1021.7 593.8,1020.8 594.4,1019.4 595.0,1021.1 595.6,1012.4 596.2,1020.5 596.8,1020.9 597.4,1017.6 598.0,1019.6 598.6,1016.4 599.2,1017.5 599.8,1017.5 600.4,1015.6 601.0,1017.4 601.6,1014.0 602.2,1017.5 602.8,1023.6 603.4,1021.9 604.0,1017.8 604.6,1021.6 605.2,1018.7 605.8,1015.1 606.4,1016.5 607.0,1017.7 607.6,1017.8 608.2,1019.3 608.8,1016.4 609.4,1017.0 610.0,1020.1 610.6,1018.2 611.2,1018.8 611.8,1017.8 612.4,1019.4 613.0,1019.5 613.6,1016.3 614.2,1020.4 614.8,1016.6 615.4,1018.7 616.0,1017.3 616.6,1019.4 617.2,1018.6 617.8,1019.2 618.4,1018.3 619.0,1017.7 619.6,1018.4 620.2,1018.0 620.8,1016.2 621.4,1014.6 622.0,1019.1 622.6,1020.7 623.2,1015.9 623.8,1019.1 624.4,1016.7 625.0,1018.4 625.6,1019.9 626.2,1018.7 626.8,1017.5 627.4,1013.8 628.1,1017.5 628.7,1017.9 629.3,1020.6 629.9,1016.5 630.5,1017.7 631.1,1018.4 631.7,1022.2 632.3,1015.4 632.9,1019.7 633.5,1017.7 634.1,1016.5 634.7,1013.2 635.3,1015.9 635.9,1019.7 636.5,1016.8 637.1,1015.9 637.7,1017.1 638.3,1020.8 638.9,1020.0 639.5,1019.7 640.1,1020.0 640.7,1019.6 641.3,1017.1 641.9,1015.6 642.5,1020.6 643.1,1017.7 643.7,1018.2 644.3,1017.0 644.9,1019.0 645.5,1020.8 646.1,1017.1 646.7,1018.3 647.3,1018.1 647.9,1019.4 648.5,1017.9 649.1,1018.1 649.7,1016.7 650.3,1018.1 650.9,1016.5 651.5,1019.5 652.1,1017.7 652.7,1021.5 653.3,1016.6 653.9,1015.8 654.5,1019.9 655.1,1019.3 655.7,1015.1 656.3,1023.5 656.9,1017.6 657.5,1020.4 658.1,1017.2 658.7,1019.5 659.3,1020.3 659.9,1017.0 660.5,1018.7 661.1,1019.8 661.7,1022.3 662.4,1020.1 663.0,1021.0 663.6,1019.3 664.2,1019.5 664.8,1019.3 665.4,1017.6 666.0,1014.2 666.6,1014.5 667.2,1018.8 667.8,1019.1 668.4,1018.2 669.0,1016.8 669.6,1017.0 670.2,1015.3 670.8,1020.5 671.4,1014.4 672.0,1021.4 672.6,1017.0 673.2,1023.3 673.8,1019.0 674.4,1017.3 675.0,1018.2 675.6,1016.9 676.2,1021.2 676.8,1017.9 677.4,1018.4 678.0,1016.1 678.6,1019.1 679.2,1014.8 679.8,1016.5 680.4,1020.5 681.0,1013.5 681.6,1018.5 682.2,1020.4 682.8,1018.1 683.4,1021.0 684.0,1020.5 684.6,1018.9 685.2,1014.5 685.8,1016.9 686.4,1017.2 687.0,1020.0 687.6,1017.7 688.2,1017.2 688.8,1015.1 689.4,1017.4 690.0,1018.3 690.6,1012.6 691.2,1017.6 691.8,1018.5 692.4,1017.2 693.0,1017.4 693.6,1016.5 694.2,1019.6 694.8,1016.5 695.4,1020.2 696.0,1018.4 696.7,1013.7 697.3,1017.1 697.9,1018.3 698.5,1019.5 699.1,1017.9 699.7,1017.4 700.3,1019.4 700.9,1021.0 701.5,1013.9 702.1,1016.4 702.7,1021.2 703.3,1018.3 703.9,1015.6 704.5,1021.3 705.1,1021.9 705.7,1017.2 706.3,1019.3 706.9,1017.8 707.5,1018.5 708.1,1019.8 708.7,1017.2 709.3,1017.6 709.9,1017.1 710.5,1014.1 711.1,1018.7 711.7,1019.5 712.3,1018.1 712.9,1017.8 713.5,1019.4 714.1,1016.2 714.7,1015.5 715.3,1018.7 715.9,1018.0 716.5,1021.4 717.1,1014.7 717.7,1017.6 718.3,1015.1 718.9,1022.2 719.5,1016.8 720.1,1019.3 720.7,1013.0 721.3,1015.7 721.9,1020.1 722.5,1016.9 723.1,1016.4 723.7,1019.1 724.3,1018.0 724.9,1018.0 725.5,1018.3 726.1,1016.7 726.7,1021.0 727.3,1019.9 727.9,1017.5 728.5,1017.0 729.1,1013.9 729.7,1015.4 730.3,1020.5 731.0,1015.3 731.6,1016.9 732.2,1021.3 732.8,1020.0 733.4,1018.5 734.0,1018.6 734.6,1017.1 735.2,1018.1 735.8,1017.9 736.4,1020.5 737.0,1019.4 737.6,1016.2 738.2,1020.8 738.8,1019.6 739.4,1020.2 740.0,1020.5 740.6,1019.5 741.2,1018.3 741.8,1020.6 742.4,1020.3 743.0,1017.4 743.6,1017.6 744.2,1018.5 744.8,1019.0 745.4,1017.8 746.0,1015.0 746.6,1020.4 747.2,1016.5 747.8,1015.5 748.4,1016.1 749.0,1018.0 749.6,1017.4 750.2,1013.0 750.8,1014.6 751.4,1014.5 752.0,1016.2 752.6,1018.1 753.2,1016.4 753.8,1021.9 754.4,1019.6 755.0,1020.8 755.6,1019.3 756.2,1015.2 756.8,1018.8 757.4,1014.8 758.0,1015.8 758.6,1018.3 759.2,1018.0 759.8,1019.2 760.4,1017.4 761.0,1020.2 761.6,1019.6 762.2,1018.7 762.8,1016.4 763.4,1016.7 764.0,1021.5 764.6,1024.0 765.3,1017.0 765.9,1018.4 766.5,1016.2 767.1,1012.9 767.7,1019.3 768.3,1018.3 768.9,1019.4 769.5,1016.6 770.1,1016.2 770.7,1021.1 771.3,1016.0 771.9,1019.4 772.5,1019.9 773.1,1017.9 773.7,1016.7 774.3,1018.4 774.9,1014.2 775.5,1017.3 776.1,1017.1 776.7,1014.9 777.3,1017.2 777.9,1019.7 778.5,1022.7 779.1,1015.5 779.7,1018.8 780.3,1018.7 780.9,1017.2 781.5,1016.6 782.1,1018.9 782.7,1019.4 783.3,1014.8 783.9,1021.0 784.5,1017.5 785.1,1018.0 785.7,1016.6 786.3,1020.4 786.9,1015.0 787.5,1016.8 788.1,1018.1 788.7,1015.8 789.3,1017.2 789.9,1018.8 790.5,1020.2 791.1,1017.3 791.7,1016.7 792.3,1018.7 792.9,1017.9 793.5,1014.2 794.1,1019.4 794.7,1017.0 795.3,1015.7 795.9,1019.6 796.5,1018.8 797.1,1015.9 797.7,1019.0 798.3,1016.1 798.9,1016.3 799.6,1015.4 800.2,1019.2 800.8,1017.1 801.4,1018.6 802.0,1014.6 802.6,1016.4 803.2,1013.7 803.8,1015.9 804.4,1016.3 805.0,1016.7 805.6,1011.8 806.2,1019.3 806.8,1013.5 807.4,1019.5 808.0,1016.6 808.6,1019.1 809.2,1014.6 809.8,1017.0 810.4,1017.9 811.0,1021.3 811.6,1017.5 812.2,1020.3 812.8,1017.2 813.4,1019.4 814.0,1016.3 814.6,1016.5 815.2,1018.2 815.8,1013.4 816.4,1012.4 817.0,1016.1 817.6,1020.2 818.2,1018.5 818.8,1015.3 819.4,1016.2 820.0,1014.9 820.6,1014.9 821.2,1016.6 821.8,1010.2 822.4,1009.2 823.0,1006.1 823.6,1006.6 824.2,1008.2 824.8,1001.7 825.4,993.1 826.0,987.5 826.6,978.8 827.2,972.1 827.8,959.3 828.4,948.0 829.0,941.2 829.6,933.4 830.2,932.7 830.8,927.2 831.4,926.2 832.0,925.0 832.6,925.9 833.2,908.5 833.9,903.8 834.5,900.1 835.1,897.9 835.7,913.7 836.3,944.2 836.9,931.2 837.5,931.8 838.1,944.1 838.7,953.4 839.3,958.8 839.9,966.7 840.5,978.3 841.1,983.4 841.7,990.7 842.3,992.6 842.9,1005.4 843.5,1003.4 844.1,1009.4 844.7,1005.5 845.3,1007.9 845.9,1008.3 846.5,1010.6 847.1,1012.2 847.7,1010.7 848.3,1010.0 848.9,1011.3 849.5,1012.8 850.1,1015.4 850.7,1010.4 851.3,1012.4 851.9,1015.2 852.5,1017.5 853.1,1013.8 853.7,1015.6 854.3,1014.7 854.9,1014.7 855.5,1015.7 856.1,1014.3 856.7,1015.1 857.3,1015.1 857.9,1019.2 858.5,1015.9 859.1,1019.6 859.7,1015.9 860.3,1016.5 860.9,1014.5 861.5,1016.7 862.1,1019.4 862.7,1019.9 863.3,1014.2 863.9,1021.8 864.5,1017.3 865.1,1017.8 865.7,1018.8 866.3,1016.9 866.9,1015.0 867.5,1017.0 868.1,1016.1 868.8,1021.0 869.4,1017.0 870.0,1012.2 870.6,1019.8 871.2,1018.3 871.8,1017.0 872.4,1013.2 873.0,1024.0 873.6,1016.4 874.2,1016.4 874.8,1016.0 875.4,1017.6 876.0,1017.0 876.6,1017.9 877.2,1018.3 877.8,1017.3 878.4,1019.6 879.0,1015.1 879.6,1019.3 880.2,1018.1 880.8,1017.4 881.4,1018.9 882.0,1018.0 882.6,1017.9 883.2,1016.5 883.8,1015.7 884.4,1014.4 885.0,1014.9 885.6,1016.1 886.2,1019.2 886.8,1017.0 887.4,1017.8 888.0,1015.3 888.6,1014.3 889.2,1017.7 889.8,1022.3 890.4,1015.2 891.0,1020.2 891.6,1015.1 892.2,1015.0 892.8,1015.6 893.4,1015.7 894.0,1019.2 894.6,1017.8 895.2,1017.6 895.8,1016.3 896.4,1019.3 897.0,1021.2 897.6,1018.1 898.2,1016.7 898.8,1015.3 899.4,1016.8 900.0,1013.3 900.6,1020.3 901.2,1015.0 901.8,1020.0 902.4,1015.1 903.1,1019.4 903.7,1018.9 904.3,1019.2 904.9,1018.3 905.5,1015.5 906.1,1023.3 906.7,1014.8 907.3,1020.0 907.9,1017.3 908.5,1015.5 909.1,1019.3 909.7,1020.7 910.3,1019.8 910.9,1015.0 911.5,1016.2 912.1,1018.9 912.7,1018.5 913.3,1019.6 913.9,1017.3 914.5,1014.0 915.1,1015.1 915.7,1018.1 916.3,1015.4 916.9,1014.7 917.5,1018.8 918.1,1020.4 918.7,1016.2 919.3,1017.1 919.9,1017.3 920.5,1019.4 921.1,1017.0 921.7,1017.0 922.3,1017.4 922.9,1015.0 923.5,1020.3 924.1,1020.7 924.7,1017.7 925.3,1017.9 925.9,1018.0 926.5,1017.7 927.1,1016.1 927.7,1019.0 928.3,1019.1 928.9,1019.7 929.5,1015.6 930.1,1018.0 930.7,1014.9 931.3,1021.4 931.9,1014.5 932.5,1017.3 933.1,1020.8 933.7,1014.0 934.3,1017.8 934.9,1014.2 935.5,1019.5 936.1,1016.8 936.7,1016.4 937.4,1014.4 938.0,1018.7 938.6,1017.9 939.2,1019.0 939.8,1019.3 940.4,1016.5 941.0,1018.2 941.6,1020.3 942.2,1018.8 942.8,1018.6 943.4,1018.0 944.0,1016.9 944.6,1017.8 945.2,1017.7 945.8,1022.9 946.4,1017.3 947.0,1015.8 947.6,1018.6 948.2,1017.4 948.8,1016.5 949.4,1019.5 950.0,1017.5 950.6,1016.2 951.2,1019.0 951.8,1021.8 952.4,1020.5 953.0,1018.4 953.6,1018.5 954.2,1017.8 954.8,1019.3 955.4,1017.4 956.0,1018.6 956.6,1017.5 957.2,1018.3 957.8,1013.7 958.4,1017.8 959.0,1016.7 959.6,1017.1 960.2,1018.6 960.8,1015.2 961.4,1016.0 962.0,1018.1 962.6,1017.9 963.2,1019.7 963.8,1018.5 964.4,1014.5 965.0,1018.6 965.6,1017.5 966.2,1018.0 966.8,1019.8 967.4,1018.0 968.0,1017.4 968.6,1014.5 969.2,1016.9 969.8,1019.4 970.4,1018.8 971.0,1015.3 971.7,1014.9 972.3,1016.9 972.9,1018.7 973.5,1016.2 974.1,1022.1 974.7,1022.1 975.3,1015.4 975.9,1021.9 976.5,1024.1 977.1,1013.5 977.7,1014.3 978.3,1017.3 978.9,1017.7 979.5,1015.9 980.1,1017.6 980.7,1019.2 981.3,1015.8 981.9,1013.0 982.5,1016.9 983.1,1019.2 983.7,1020.6 984.3,1019.8 984.9,1011.9 985.5,1015.1 986.1,1017.3 986.7,1015.8 987.3,1018.7 987.9,1018.5 988.5,1019.4 989.1,1020.5 989.7,1016.4 990.3,1021.2 990.9,1014.7 991.5,1015.4 992.1,1015.3 992.7,1015.7 993.3,1018.9 993.9,1021.0 994.5,1014.4 995.1,1019.1 995.7,1020.0 996.3,1018.1 996.9,1013.3 997.5,1018.4 998.1,1019.4 998.7,1013.7 999.3,1016.4 999.9,1019.7 1000.5,1018.2 1001.1,1019.8 1001.7,1020.1 1002.3,1014.7 1002.9,1014.8 1003.5,1019.2 1004.1,1016.6 1004.7,1020.2 1005.3,1018.3 1006.0,1015.3 1006.6,1018.9 1007.2,1017.8 1007.8,1015.4 1008.4,1015.5 1009.0,1015.2 1009.6,1016.8 1010.2,1018.0 1010.8,1016.8 1011.4,1015.0 1012.0,1012.1 1012.6,1014.9 1013.2,1014.0 1013.8,1012.3 1014.4,1011.3 1015.0,1016.1 1015.6,1015.3 1016.2,1008.2 1016.8,1012.7 1017.4,1010.5 1018.0,1012.8 1018.6,1005.9 1019.2,1009.0 1019.8,1004.4 1020.4,1004.1 1021.0,1004.0 1021.6,1004.6 1022.2,1001.6 1022.8,996.6 1023.4,1001.2 1024.0,998.3 1024.6,996.8 1025.2,992.5 1025.8,994.8 1026.4,998.0 1027.0,997.5 1027.6,994.9 1028.2,990.8 1028.8,993.6 1029.4,987.9 1030.0,989.4 1030.6,982.8 1031.2,976.3 1031.8,977.2 1032.4,973.4 1033.0,972.3 1033.6,971.1 1034.2,974.3 1034.8,984.5 1035.4,986.9 1036.0,996.3 1036.6,1001.0 1037.2,998.8 1037.8,1003.9 1038.4,1000.9 1039.0,1009.4 1039.6,1009.7 1040.3,1012.9 1040.9,1012.5 1041.5,1012.7 1042.1,1012.6 1042.7,1013.1 1043.3,1017.7 1043.9,1016.7 1044.5,1020.2 1045.1,1017.4 1045.7,1015.1 1046.3,1015.0 1046.9,1019.6 1047.5,1012.3 1048.1,1016.6 1048.7,1016.1 1049.3,1012.1 1049.9,1018.9 1050.5,1016.7 1051.1,1016.3 1051.7,1015.0 1052.3,1016.8 1052.9,1016.6 1053.5,1019.1 1054.1,1016.3 1054.7,1022.1 1055.3,1015.8 1055.9,1017.4 1056.5,1015.8 1057.1,1019.0 1057.7,1016.3 1058.3,1020.3 1058.9,1019.4 1059.5,1018.2 1060.1,1011.7 1060.7,1017.3 1061.3,1017.2 1061.9,1018.7 1062.5,1012.6 1063.1,1018.7 1063.7,1018.8 1064.3,1017.3 1064.9,1018.0 1065.5,1016.4 1066.1,1019.4 1066.7,1015.0 1067.3,1016.0 1067.9,1022.7 1068.5,1017.3 1069.1,1017.4 1069.7,1015.6 1070.3,1017.0 1070.9,1018.1 1071.5,1013.5 1072.1,1014.6 1072.7,1016.7 1073.3,1020.9 1073.9,1017.0 1074.6,1023.0 1075.2,1020.2 1075.8,1019.0 1076.4,1016.7 1077.0,1018.8 1077.6,1023.8 1078.2,1015.0 1078.8,1018.5 1079.4,1021.2 1080.0,1019.8 1080.6,1018.0 1081.2,1016.9 1081.8,1019.7 1082.4,1014.2 1083.0,1021.5 1083.6,1016.0 1084.2,1013.6 1084.8,1017.1 1085.4,1017.4 1086.0,1017.0 1086.6,1012.2 1087.2,1016.1 1087.8,1019.2 1088.4,1018.4 1089.0,1020.1 1089.6,1018.0 1090.2,1015.5 1090.8,1017.1 1091.4,1017.9 1092.0,1018.2 1092.6,1018.4 1093.2,1018.3 1093.8,1019.2 1094.4,1019.3 1095.0,1016.1 1095.6,1020.2 1096.2,1019.2 1096.8,1017.1 1097.4,1018.2 1098.0,1017.4 1098.6,1018.2 1099.2,1014.0 1099.8,1013.9 1100.4,1019.5 1101.0,1017.0 1101.6,1020.6 1102.2,1020.9 1102.8,1018.5 1103.4,1021.7 1104.0,1016.0 1104.6,1018.3 1105.2,1015.3 1105.8,1018.3 1106.4,1020.3 1107.0,1018.4 1107.6,1018.6 1108.2,1016.0 1108.9,1018.5 1109.5,1016.4 1110.1,1018.2 1110.7,1016.5 1111.3,1019.9 1111.9,1019.2 1112.5,1018.8 1113.1,1019.7 1113.7,1020.6 1114.3,1018.1 1114.9,1016.6 1115.5,1016.8 1116.1,1021.4 1116.7,1018.8 1117.3,1015.7 1117.9,1015.9 1118.5,1020.5 1119.1,1017.5 1119.7,1021.5 1120.3,1021.1 1120.9,1017.4 1121.5,1017.4 1122.1,1016.0 1122.7,1019.5 1123.3,1015.1 1123.9,1018.8 1124.5,1017.1 1125.1,1022.7 1125.7,1017.1 1126.3,1016.2 1126.9,1019.0 1127.5,1015.7 1128.1,1019.1 1128.7,1017.1 1129.3,1016.5 1129.9,1017.0 1130.5,1017.2 1131.1,1015.1 1131.7,1018.9 1132.3,1017.5 1132.9,1016.4 1133.5,1020.3 1134.1,1018.2 1134.7,1021.0 1135.3,1014.1 1135.9,1020.5 1136.5,1018.1 1137.1,1021.2 1137.7,1018.0 1138.3,1016.9 1138.9,1016.6 1139.5,1018.7 1140.1,1014.7 1140.7,1017.1 1141.3,1015.8 1141.9,1022.6 1142.5,1018.9 1143.1,1017.3 1143.8,1011.8 1144.4,1017.5 1145.0,1016.5 1145.6,1017.6 1146.2,1017.7 1146.8,1016.2 1147.4,1015.0 1148.0,1017.0 1148.6,1017.0 1149.2,1017.3 1149.8,1017.6 1150.4,1018.5 1151.0,1016.0 1151.6,1019.5 1152.2,1016.9 1152.8,1018.0 1153.4,1016.8 1154.0,1018.2 1154.6,1020.9 1155.2,1018.7 1155.8,1018.1 1156.4,1018.0 1157.0,1016.6 1157.6,1015.2 1158.2,1013.5 1158.8,1017.9 1159.4,1018.7 1160.0,1019.1 1160.6,1013.8 1161.2,1016.0 1161.8,1018.5 1162.4,1016.8 1163.0,1019.1 1163.6,1019.5 1164.2,1015.1 1164.8,1019.4 1165.4,1017.5 1166.0,1016.6 1166.6,1018.3 1167.2,1016.3 1167.8,1014.3 1168.4,1019.4 1169.0,1018.8 1169.6,1018.8 1170.2,1018.1 1170.8,1014.9 1171.4,1017.7 1172.0,1021.1 1172.6,1018.5 1173.2,1017.8 1173.8,1018.3 1174.4,1017.3 1175.0,1017.8 1175.6,1017.8 1176.2,1016.4 1176.8,1017.3 1177.4,1017.6 1178.1,1017.8 1178.7,1022.7 1179.3,1016.9 1179.9,1015.1 1180.5,1017.4 1181.1,1014.1 1181.7,1021.3 1182.3,1016.4 1182.9,1017.3 1183.5,1018.0 1184.1,1019.5 1184.7,1016.5 1185.3,1018.4 1185.9,1017.3 1186.5,1017.6 1187.1,1018.9 1187.7,1016.4 1188.3,1020.7 1188.9,1017.5 1189.5,1019.6 1190.1,1016.6 1190.7,1017.7 1191.3,1016.2 1191.9,1019.3 1192.5,1017.7 1193.1,1016.4 1193.7,1015.6 1194.3,1022.2 1194.9,1018.8 1195.5,1019.3 1196.1,1020.4 1196.7,1019.0 1197.3,1020.7 1197.9,1017.8 1198.5,1018.6 1199.1,1021.6 1199.7,1015.7 1200.3,1018.4 1200.9,1016.8 1201.5,1021.2 1202.1,1017.4 1202.7,1018.4 1203.3,1018.2 1203.9,1016.3 1204.5,1017.3 1205.1,1016.6 1205.7,1019.9 1206.3,1016.6 1206.9,1020.3 1207.5,1018.7 1208.1,1019.7 1208.7,1020.8 1209.3,1019.9 1209.9,1019.0 1210.5,1016.8 1211.1,1017.8 1211.7,1018.3 1212.4,1019.7 1213.0,1018.2 1213.6,1017.7 1214.2,1021.9 1214.8,1019.1 1215.4,1019.2 1216.0,1016.7 1216.6,1017.0 1217.2,1017.1 1217.8,1016.1 1218.4,1018.0 1219.0,1018.6 1219.6,1016.5 1220.2,1017.0 1220.8,1020.0 1221.4,1014.8 1222.0,1017.7 1222.6,1021.0 1223.2,1019.7 1223.8,1019.4 1224.4,1021.5 1225.0,1020.8 1225.6,1019.6 1226.2,1016.1 1226.8,1015.4 1227.4,1016.4 1228.0,1020.6 1228.6,1016.7 1229.2,1017.0 1229.8,1020.1 1230.4,1017.3 1231.0,1018.7 1231.6,1015.1 1232.2,1016.7 1232.8,1016.6 1233.4,1016.4 1234.0,1014.6 1234.6,1016.2 1235.2,1019.6 1235.8,1018.1 1236.4,1019.4 1237.0,1016.4 1237.6,1021.6 1238.2,1016.6 1238.8,1017.1 1239.4,1018.7 1240.0,1017.0 1240.6,1018.3 1241.2,1021.0 1241.8,1019.0 1242.4,1017.2 1243.0,1020.5 1243.6,1016.9 1244.2,1017.2 1244.8,1018.7 1245.4,1018.8 1246.0,1013.9 1246.7,1018.8 1247.3,1017.0 1247.9,1015.4 1248.5,1015.4 1249.1,1015.6 1249.7,1014.6 1250.3,1019.6 1250.9,1020.5 1251.5,1017.5 1252.1,1017.8 1252.7,1017.9 1253.3,1020.2 1253.9,1018.7 1254.5,1021.4 1255.1,1019.0 1255.7,1020.9 1256.3,1014.9 1256.9,1016.0 1257.5,1018.2 1258.1,1017.5 1258.7,1016.3 1259.3,1015.7 1259.9,1014.9 1260.5,1017.9 1261.1,1017.2 1261.7,1019.5 1262.3,1016.8 1262.9,1018.1 1263.5,1019.1 1264.1,1019.6 1264.7,1017.0 1265.3,1018.0 1265.9,1021.7 1266.5,1013.4 1267.1,1019.2 1267.7,1018.7 1268.3,1017.5 1268.9,1014.4 1269.5,1017.9 1270.1,1016.6 1270.7,1017.0 1271.3,1016.3 1271.9,1015.7 1272.5,1017.9 1273.1,1015.3 1273.7,1019.5 1274.3,1018.2 1274.9,1017.0 1275.5,1018.1 1276.1,1019.7 1276.7,1017.4 1277.3,1019.8 1277.9,1023.4 1278.5,1018.5 1279.1,1019.2 1279.7,1017.1 1280.3,1018.3 1281.0,1016.7 1281.6,1021.3 1282.2,1016.7 1282.8,1020.1 1283.4,1016.8 1284.0,1018.2 1284.6,1016.1 1285.2,1015.8 1285.8,1020.6 1286.4,1020.0 1287.0,1018.3 1287.6,1017.2 1288.2,1017.6 1288.8,1015.6 1289.4,1018.2 1290.0,1020.7 1290.6,1016.2 1291.2,1022.6 1291.8,1018.4 1292.4,1021.0 1293.0,1019.0 1293.6,1015.6 1294.2,1015.2 1294.8,1020.8 1295.4,1020.3 1296.0,1015.9 1296.6,1022.1 1297.2,1017.5 1297.8,1024.6 1298.4,1017.0 1299.0,1019.8 1299.6,1017.9 1300.2,1016.2 1300.8,1019.2 1301.4,1015.9 1302.0,1015.5 1302.6,1017.3 1303.2,1014.5 1303.8,1014.6 1304.4,1016.8 1305.0,1018.0 1305.6,1020.2 1306.2,1020.3 1306.8,1017.4 1307.4,1021.1 1308.0,1018.4 1308.6,1017.4 1309.2,1019.9 1309.8,1020.5 1310.4,1017.8 1311.0,1016.9 1311.6,1018.6 1312.2,1017.7 1312.8,1015.0 1313.4,1017.7 1314.0,1017.6 1314.6,1018.0 1315.3,1018.6 1315.9,1021.8 1316.5,1016.0 1317.1,1018.1 1317.7,1019.4 1318.3,1012.9 1318.9,1020.5 1319.5,1018.3 1320.1,1023.6 1320.7,1019.6 1321.3,1016.1 1321.9,1018.1 1322.5,1017.3 1323.1,1018.8 1323.7,1014.8 1324.3,1018.4 1324.9,1017.3 1325.5,1017.3 1326.1,1018.9 1326.7,1018.2 1327.3,1022.0 1327.9,1018.6 1328.5,1019.5 1329.1,1016.7 1329.7,1016.6 1330.3,1021.1 1330.9,1016.8 1331.5,1015.4 1332.1,1015.4 1332.7,1016.1 1333.3,1015.6 1333.9,1016.3 1334.5,1020.4 1335.1,1017.4 1335.7,1019.0 1336.3,1022.2 1336.9,1016.5 1337.5,1016.6 1338.1,1012.2 1338.7,1020.1 1339.3,1018.6 1339.9,1014.2 1340.5,1020.5 1341.1,1019.9 1341.7,1012.2 1342.3,1015.3 1342.9,1019.4 1343.5,1015.6 1344.1,1017.1 1344.7,1018.9 1345.3,1018.3 1345.9,1016.6 1346.5,1019.1 1347.1,1020.6 1347.7,1017.2 1348.3,1023.5 1348.9,1019.3 1349.6,1018.9 1350.2,1014.0 1350.8,1016.0 1351.4,1016.2 1352.0,1019.9 1352.6,1015.9 1353.2,1020.6 1353.8,1020.0 1354.4,1016.7 1355.0,1017.8 1355.6,1021.2 1356.2,1016.3 1356.8,1013.5 1357.4,1016.6 1358.0,1018.4 1358.6,1020.1 1359.2,1019.2 1359.8,1023.4 1360.4,1020.4 1361.0,1019.0 1361.6,1020.8 1362.2,1020.9 1362.8,1018.8 1363.4,1021.2 1364.0,1019.6 1364.6,1018.7 1365.2,1018.3 1365.8,1016.0 1366.4,1017.9 1367.0,1016.3 1367.6,1019.7 1368.2,1018.3 1368.8,1015.7 1369.4,1017.8 1370.0,1017.4 1370.6,1015.1 1371.2,1016.7 1371.8,1018.3 1372.4,1021.1 1373.0,1018.0 1373.6,1019.1 1374.2,1020.9 1374.8,1020.4 1375.4,1018.4 1376.0,1019.4 1376.6,1017.6 1377.2,1017.3 1377.8,1018.0 1378.4,1018.3 1379.0,1020.0 1379.6,1019.3 1380.2,1019.9 1380.8,1014.6 1381.4,1017.1 1382.0,1017.7 1382.6,1015.4 1383.2,1013.1 1383.9,1018.7 1384.5,1022.2 1385.1,1015.8 1385.7,1018.1 1386.3,1021.6 1386.9,1017.6 1387.5,1017.4 1388.1,1015.6 1388.7,1017.6 1389.3,1019.6 1389.9,1019.9 1390.5,1017.4 1391.1,1019.9 1391.7,1015.4 1392.3,1016.8 1392.9,1018.4 1393.5,1018.4 1394.1,1019.9 1394.7,1017.4 1395.3,1013.6 1395.9,1020.3 1396.5,1022.0 1397.1,1018.9 1397.7,1017.3 1398.3,1016.8 1398.9,1018.0 1399.5,1014.9 1400.1,1018.0 1400.7,1017.0 1401.3,1014.5 1401.9,1017.9 1402.5,1018.7 1403.1,1021.3 1403.7,1017.7 1404.3,1021.0 1404.9,1016.5 1405.5,1016.2 1406.1,1018.5 1406.7,1016.2 1407.3,1018.0 1407.9,1016.0 1408.5,1016.0 1409.1,1016.7 1409.7,1019.1 1410.3,1017.6 1410.9,1016.6 1411.5,1020.9 1412.1,1017.5 1412.7,1019.3 1413.3,1018.5 1413.9,1019.5 1414.5,1017.8 1415.1,1016.6 1415.7,1018.6 1416.3,1018.8 1416.9,1019.2 1417.5,1019.0 1418.1,1018.9 1418.8,1016.0 1419.4,1020.1 1420.0,1020.1 1420.6,1017.9 1421.2,1018.7 1421.8,1018.5 1422.4,1021.1 1423.0,1015.2 1423.6,1017.8 1424.2,1019.6 1424.8,1015.2 1425.4,1017.2 1426.0,1021.9 1426.6,1015.8 1427.2,1018.3 1427.8,1016.8 1428.4,1018.2 1429.0,1016.9 1429.6,1018.7 1430.2,1015.5 1430.8,1021.8 1431.4,1019.2 1432.0,1019.2 1432.6,1017.7 1433.2,1019.0 1433.8,1018.1 1434.4,1019.6 1435.0,1017.8 1435.6,1017.8 1436.2,1021.3 1436.8,1022.3 1437.4,1021.9 1438.0,1020.5 1438.6,1015.3 1439.2,1019.6 1439.8,1020.3 1440.4,1019.2 1441.0,1020.8 1441.6,1020.8 1442.2,1019.3 1442.8,1019.8 1443.4,1018.7 1444.0,1021.5 1444.6,1016.2 1445.2,1016.0 1445.8,1020.7 1446.4,1015.5 1447.0,1019.6 1447.6,1018.9 1448.2,1021.2 1448.8,1016.9 1449.4,1016.8 1450.0,1018.5 1450.6,1018.4 1451.2,1017.1 1451.8,1016.9 1452.4,1018.6 1453.1,1020.2 1453.7,1014.4 1454.3,1020.4 1454.9,1019.6 1455.5,1017.7 1456.1,1016.6 1456.7,1017.2 1457.3,1014.6 1457.9,1018.6 1458.5,1018.4 1459.1,1018.3 1459.7,1019.0 1460.3,1015.9 1460.9,1020.1 1461.5,1018.0 1462.1,1018.5 1462.7,1018.9 1463.3,1018.9 1463.9,1019.9 1464.5,1018.8 1465.1,1018.8 1465.7,1016.7 1466.3,1017.3 1466.9,1015.3 1467.5,1018.7 1468.1,1017.7 1468.7,1018.1 1469.3,1019.4 1469.9,1017.5 1470.5,1020.9 1471.1,1015.9 1471.7,1021.0 1472.3,1020.4 1472.9,1017.6 1473.5,1019.0 1474.1,1020.1 1474.7,1016.6 1475.3,1018.7 1475.9,1020.1 1476.5,1019.2 1477.1,1017.5 1477.7,1015.3 1478.3,1019.5 1478.9,1019.7 1479.5,1021.4 1480.1,1019.8 1480.7,1015.7 1481.3,1016.1 1481.9,1015.2 1482.5,1019.2 1483.1,1017.6 1483.7,1018.2 1484.3,1016.8 1484.9,1014.6 1485.5,1018.3 1486.1,1014.4 1486.7,1013.8 1487.4,1015.7 1488.0,1018.5 1488.6,1020.3 1489.2,1018.4 1489.8,1018.1 1490.4,1018.8 1491.0,1019.6 1491.6,1020.2 1492.2,1016.2 1492.8,1016.6 1493.4,1023.8 1494.0,1015.3 1494.6,1013.4 1495.2,1016.6 1495.8,1016.8 1496.4,1016.2 1497.0,1021.2 1497.6,1020.0 1498.2,1016.2 1498.8,1022.8 1499.4,1017.2 1500.0,1018.4 1500.6,1016.5 1501.2,1016.2 1501.8,1019.0 1502.4,1021.1 1503.0,1019.4 1503.6,1018.3 1504.2,1017.7 1504.8,1020.9 1505.4,1015.3 1506.0,1017.6 1506.6,1016.3 1507.2,1017.7 1507.8,1017.5 1508.4,1016.6 1509.0,1015.9 1509.6,1018.8 1510.2,1022.4 1510.8,1018.9 1511.4,1017.9 1512.0,1016.6 1512.6,1019.4 1513.2,1019.1 1513.8,1022.2 1514.4,1017.7 1515.0,1021.4 1515.6,1016.6 1516.2,1019.2 1516.8,1019.9 1517.4,1017.3 1518.0,1014.8 1518.6,1018.7 1519.2,1019.0 1519.8,1020.8 1520.4,1020.6 1521.0,1021.9 1521.7,1016.5 1522.3,1021.6 1522.9,1019.3 1523.5,1020.0 1524.1,1014.4 1524.7,1019.3 1525.3,1018.5 1525.9,1018.6 1526.5,1023.6 1527.1,1017.0 1527.7,1017.5 1528.3,1018.8 1528.9,1018.9 1529.5,1016.1 1530.1,1015.9 1530.7,1018.2 1531.3,1015.8 1531.9,1019.4 1532.5,1017.2 1533.1,1015.3 1533.7,1020.4 1534.3,1019.2 1534.9,1019.4 1535.5,1018.4 1536.1,1019.3 1536.7,1017.5 1537.3,1014.8 1537.9,1017.5 1538.5,1017.6 1539.1,1017.3 1539.7,1018.7 1540.3,1021.5 1540.9,1019.8 1541.5,1019.1 1542.1,1019.5 1542.7,1016.3 1543.3,1022.1 1543.9,1018.6 1544.5,1020.8 1545.1,1020.4 1545.7,1020.4 1546.3,1021.7 1546.9,1018.3 1547.5,1020.2 1548.1,1018.0 1548.7,1018.3 1549.3,1014.1 1549.9,1018.5 1550.5,1018.1 1551.1,1018.9 1551.7,1016.4 1552.3,1016.0 1552.9,1018.8 1553.5,1017.8 1554.1,1019.2 1554.7,1016.1 1555.3,1015.1 1556.0,1019.1 1556.6,1018.7 1557.2,1018.6 1557.8,1018.9 1558.4,1018.6 1559.0,1017.9 1559.6,1016.4 1560.2,1018.5 1560.8,1017.9 1561.4,1017.4 1562.0,1015.3 1562.6,1017.1 1563.2,1019.1 1563.8,1019.4 1564.4,1015.2 1565.0,1019.9 1565.6,1016.9 1566.2,1020.1 1566.8,1017.7 1567.4,1016.1 1568.0,1020.1 1568.6,1015.2 1569.2,1018.8 1569.8,1018.0 1570.4,1019.0 1571.0,1019.3 1571.6,1018.8 1572.2,1020.5 1572.8,1015.0 1573.4,1019.7 1574.0,1020.7 1574.6,1015.3 1575.2,1015.3 1575.8,1017.0 1576.4,1016.0 1577.0,1020.0 1577.6,1020.0 1578.2,1016.8 1578.8,1017.1 1579.4,1021.5 1580.0,1017.1 1580.6,1016.7 1581.2,1022.0 1581.8,1020.6 1582.4,1017.4 1583.0,1019.5 1583.6,1015.0 1584.2,1020.1 1584.8,1024.0 1585.4,1017.4 1586.0,1019.6 1586.6,1018.0 1587.2,1016.4 1587.8,1018.0 1588.4,1017.2 1589.0,1015.6 1589.6,1018.3 1590.3,1018.9 1590.9,1019.4 1591.5,1019.0 1592.1,1018.9 1592.7,1018.5 1593.3,1017.5 1593.9,1015.5 1594.5,1018.4 1595.1,1017.3 1595.7,1015.4 1596.3,1018.1 1596.9,1019.4 1597.5,1021.1 1598.1,1016.5 1598.7,1020.6 1599.3,1016.8 1599.9,1018.6 1600.5,1020.7 1601.1,1018.2 1601.7,1017.5 1602.3,1016.1 1602.9,1020.3 1603.5,1016.4 1604.1,1018.5 1604.7,1017.9 1605.3,1018.9 1605.9,1020.9 1606.5,1019.1 1607.1,1022.2 1607.7,1021.6 1608.3,1017.9 1608.9,1015.7 1609.5,1017.6 1610.1,1017.5 1610.7,1020.8 1611.3,1018.1 1611.9,1019.2 1612.5,1015.1 1613.1,1019.2 1613.7,1021.2 1614.3,1018.2 1614.9,1016.4 1615.5,1017.7 1616.1,1018.4 1616.7,1018.2 1617.3,1018.1 1617.9,1018.7 1618.5,1016.4 1619.1,1017.6 1619.7,1017.3 1620.3,1017.4 1620.9,1014.4 1621.5,1018.1 1622.1,1018.7 1622.7,1015.4 1623.3,1020.9 1623.9,1017.3 1624.6,1017.6 1625.2,1018.8 1625.8,1017.9 1626.4,1019.6 1627.0,1019.9 1627.6,1013.5 1628.2,1017.7 1628.8,1020.6 1629.4,1018.9 1630.0,1019.4 1630.6,1018.2 1631.2,1017.2 1631.8,1015.4 1632.4,1021.3 1633.0,1018.5 1633.6,1018.3 1634.2,1018.5 1634.8,1017.8 1635.4,1018.2 1636.0,1020.2 1636.6,1018.8 1637.2,1015.4 1637.8,1017.7 1638.4,1017.0 1639.0,1017.8 1639.6,1017.5 1640.2,1020.6 1640.8,1015.4 1641.4,1019.0 1642.0,1018.8 1642.6,1016.6 1643.2,1014.7 1643.8,1017.7 1644.4,1014.6 1645.0,1020.1 1645.6,1019.0 1646.2,1013.0 1646.8,1017.9 1647.4,1016.8 1648.0,1014.9 1648.6,1015.9 1649.2,1020.7 1649.8,1015.8 1650.4,1016.1 1651.0,1019.6 1651.6,1017.4 1652.2,1014.2 1652.8,1023.2 1653.4,1018.3 1654.0,1015.8 1654.6,1023.0 1655.2,1018.5 1655.8,1018.2 1656.4,1016.9 1657.0,1019.1 1657.6,1018.5 1658.2,1018.1 1658.9,1020.2 1659.5,1017.4 1660.1,1015.9 1660.7,1015.3 1661.3,1019.1 1661.9,1018.2 1662.5,1016.6 1663.1,1019.7 1663.7,1018.8 1664.3,1016.2 1664.9,1014.5 1665.5,1016.2 1666.1,1015.0 1666.7,1016.9 1667.3,1017.7 1667.9,1018.1 1668.5,1012.5 1669.1,1015.8 1669.7,1017.6 1670.3,1017.7 1670.9,1017.0 1671.5,1015.5 1672.1,1016.4 1672.7,1018.2 1673.3,1015.3 1673.9,1014.3 1674.5,1016.8 1675.1,1016.8 1675.7,1012.6 1676.3,1013.2 1676.9,1011.2 1677.5,1013.4 1678.1,1014.0 1678.7,1012.2 1679.3,1010.1 1679.9,1009.4 1680.5,1011.0 1681.1,1012.1 1681.7,1010.0 1682.3,1008.9 1682.9,1011.0 1683.5,1006.7 1684.1,1005.9 1684.7,1003.5 1685.3,1007.8 1685.9,1006.4 1686.5,1003.2 1687.1,1003.1 1687.7,999.4 1688.3,999.4 1688.9,1000.7 1689.5,1001.1 1690.1,993.4 1690.7,1001.4 1691.3,1000.0 1691.9,993.9 1692.5,996.3 1693.1,993.7 1693.8,992.3 1694.4,991.7 1695.0,991.0 1695.6,992.1 1696.2,992.2 1696.8,994.3 1697.4,992.4 1698.0,992.0 1698.6,995.4 1699.2,997.5 1699.8,998.1 1700.4,1004.0 1701.0,1000.4 1701.6,999.8 1702.2,1005.5 1702.8,1007.0 1703.4,1006.9 1704.0,1008.2 1704.6,1006.9 1705.2,1009.7 1705.8,1011.4 1706.4,1011.3 1707.0,1009.5 1707.6,1013.1 1708.2,1011.6 1708.8,1014.5 1709.4,1014.5 1710.0,1015.9 1710.6,1013.1 1711.2,1015.5 1711.8,1016.1 1712.4,1016.0 1713.0,1018.1 1713.6,1013.9 1714.2,1017.8 1714.8,1018.3 1715.4,1016.5 1716.0,1014.5 1716.6,1016.4 1717.2,1016.8 1717.8,1017.1 1718.4,1019.0 1719.0,1018.1 1719.6,1014.0 1720.2,1018.9 1720.8,1013.5 1721.4,1015.6 1722.0,1013.7 1722.6,1017.9 1723.2,1016.1 1723.8,1019.3 1724.4,1015.8 1725.0,1017.5 1725.6,1020.2 1726.2,1016.7 1726.8,1019.7 1727.4,1018.0 1728.1,1017.6 1728.7,1014.8 1729.3,1017.4 1729.9,1020.9 1730.5,1017.4 1731.1,1018.4 1731.7,1021.9 1732.3,1016.3 1732.9,1017.7 1733.5,1017.8 1734.1,1016.4 1734.7,1018.7 1735.3,1020.1 1735.9,1018.7 1736.5,1017.6 1737.1,1018.0 1737.7,1014.4 1738.3,1018.9 1738.9,1015.7 1739.5,1019.6 1740.1,1016.1 1740.7,1019.5 1741.3,1016.5 1741.9,1016.6 1742.5,1014.4 1743.1,1018.3 1743.7,1018.2 1744.3,1019.6 1744.9,1016.0 1745.5,1014.4 1746.1,1019.3 1746.7,1012.5 1747.3,1015.5 1747.9,1019.3 1748.5,1017.3 1749.1,1015.0 1749.7,1017.0 1750.3,1020.2 1750.9,1017.2 1751.5,1016.8 1752.1,1019.8 1752.7,1016.4 1753.3,1017.9 1753.9,1020.1 1754.5,1014.4 1755.1,1016.2 1755.7,1019.1 1756.3,1017.5 1756.9,1021.1 1757.5,1017.4 1758.1,1017.8 1758.7,1014.9 1759.3,1015.5 1759.9,1020.6 1760.5,1016.2 1761.1,1018.1 1761.7,1017.0 1762.4,1022.2 1763.0,1014.4 1763.6,1018.7 1764.2,1017.6 1764.8,1015.6 1765.4,1017.0 1766.0,1018.8 1766.6,1023.2 1767.2,1020.3 1767.8,1018.9 1768.4,1018.1 1769.0,1015.0 1769.6,1015.0 1770.2,1018.8 1770.8,1014.8 1771.4,1020.0 1772.0,1018.9 1772.6,1020.6 1773.2,1018.5 1773.8,1016.2 1774.4,1020.2 1775.0,1015.9 1775.6,1018.0 1776.2,1017.6 1776.8,1016.3 1777.4,1017.7 1778.0,1018.1 1778.6,1016.3 1779.2,1020.8 1779.8,1016.9 1780.4,1017.1 1781.0,1018.9 1781.6,1017.3 1782.2,1017.7 1782.8,1018.2 1783.4,1014.5 1784.0,1021.5 1784.6,1015.9 1785.2,1014.5 1785.8,1018.5 1786.4,1018.6 1787.0,1018.2 1787.6,1016.2 1788.2,1016.0 1788.8,1017.9 1789.4,1017.6 1790.0,1019.8 1790.6,1017.7 1791.2,1018.9 1791.8,1017.7 1792.4,1014.3 1793.0,1016.0 1793.6,1020.7 1794.2,1018.4 1794.8,1020.3 1795.4,1017.9 1796.0,1017.8 1796.7,1016.9 1797.3,1020.1 1797.9,1021.0 1798.5,1016.2 1799.1,1018.5 1799.7,1016.6 1800.3,1018.2 1800.9,1015.1 1801.5,1015.3 1802.1,1019.1 1802.7,1018.4 1803.3,1017.8 1803.9,1020.8 1804.5,1016.6 1805.1,1017.7 1805.7,1020.4 1806.3,1018.0 1806.9,1016.9 1807.5,1019.9 1808.1,1017.7 1808.7,1017.2 1809.3,1015.5 1809.9,1015.0 1810.5,1014.7 1811.1,1015.9 1811.7,1017.2 1812.3,1018.5 1812.9,1015.1 1813.5,1018.3 1814.1,1020.5 1814.7,1020.6 1815.3,1016.8 1815.9,1023.1 1816.5,1019.4 1817.1,1020.0 1817.7,1021.3 1818.3,1016.0 1818.9,1017.1 1819.5,1018.0 1820.1,1018.7 1820.7,1015.8 1821.3,1019.7 1821.9,1016.9 1822.5,1018.6 1823.1,1019.3 1823.7,1016.7 1824.3,1020.8 1824.9,1016.4 1825.5,1013.9 1826.1,1020.2 1826.7,1017.8 1827.3,1014.8 1827.9,1017.3 1828.5,1019.0 1829.1,1017.7 1829.7,1019.3 1830.3,1016.2 1831.0,1018.0 1831.6,1017.0 1832.2,1017.2 1832.8,1018.5 1833.4,1019.9 1834.0,1017.4 1834.6,1016.5 1835.2,1019.2 1835.8,1018.3 1836.4,1013.5 1837.0,1017.5 1837.6,1016.8 1838.2,1015.8 1838.8,1016.5 1839.4,1016.3 1840.0,1021.4 1840.6,1016.6 1841.2,1016.9 1841.8,1013.9 1842.4,1017.1 1843.0,1019.1 1843.6,1016.4 1844.2,1018.6 1844.8,1018.1 1845.4,1017.5 1846.0,1023.0 1846.6,1016.0 1847.2,1018.1 1847.8,1015.1 1848.4,1019.3 1849.0,1016.3 1849.6,1016.5 1850.2,1019.0 1850.8,1016.3 1851.4,1019.3 1852.0,1011.6 1852.6,1019.2 1853.2,1016.1 1853.8,1013.6 1854.4,1019.6 1855.0,1020.9 1855.6,1018.4 1856.2,1020.9 1856.8,1019.4 1857.4,1016.2 1858.0,1020.8 1858.6,1017.5 1859.2,1019.8 1859.8,1018.4 1860.4,1016.2 1861.0,1017.0 1861.6,1015.5 1862.2,1018.7 1862.8,1015.1 1863.4,1023.7 1864.0,1017.9 1864.6,1014.6 1865.3,1018.2 1865.9,1015.5 1866.5,1020.3 1867.1,1018.5 1867.7,1015.6 1868.3,1020.3 1868.9,1019.6 1869.5,1018.7 1870.1,1015.4 1870.7,1015.8 1871.3,1022.3 1871.9,1014.3 1872.5,1018.3 1873.1,1018.1 1873.7,1015.3 1874.3,1014.8 1874.9,1014.4 1875.5,1019.7 1876.1,1015.8 1876.7,1019.5 1877.3,1018.9 1877.9,1017.8 1878.5,1017.0 1879.1,1016.7 1879.7,1018.1 1880.3,1016.6 1880.9,1015.1 1881.5,1017.1 1882.1,1021.2 1882.7,1020.4 1883.3,1016.7 1883.9,1014.5 1884.5,1015.4 1885.1,1016.0 1885.7,1018.1 1886.3,1017.6 1886.9,1019.7 1887.5,1021.1 1888.1,1017.5 1888.7,1019.8 1889.3,1018.5 1889.9,1016.2 1890.5,1016.8 1891.1,1015.9 1891.7,1014.0 1892.3,1019.5 1892.9,1019.8 1893.5,1019.0 1894.1,1017.3 1894.7,1018.1 1895.3,1018.5 1895.9,1018.1 1896.5,1017.0 1897.1,1017.6 1897.7,1017.7 1898.3,1019.5 1898.9,1019.9 1899.6,1015.6 1900.2,1022.8 1900.8,1018.9 1901.4,1016.5 1902.0,1014.8 1902.6,1018.6 1903.2,1019.9 1903.8,1015.2 1904.4,1017.1 1905.0,1021.1 1905.6,1019.7 1906.2,1019.2 1906.8,1019.1 1907.4,1021.8 1908.0,1016.9 1908.6,1018.5 1909.2,1016.8 1909.8,1015.7 1910.4,1014.8 1911.0,1016.6 1911.6,1016.3 1912.2,1016.6 1912.8,1019.0 1913.4,1016.8 1914.0,1016.1 1914.6,1017.0 1915.2,1016.6 1915.8,1017.3 1916.4,1020.1 1917.0,1016.9 1917.6,1018.0 1918.2,1017.4 1918.8,1016.6 1919.4,1018.5 1920.0,1018.6 1920.6,1017.8 1921.2,1019.3 1921.8,1018.0 1922.4,1019.7 1923.0,1016.8 1923.6,1019.3 1924.2,1018.9 1924.8,1017.4 1925.4,1016.8 1926.0,1016.4 1926.6,1015.8 1927.2,1016.7 1927.8,1016.8 1928.4,1017.1 1929.0,1021.7 1929.6,1017.5 1930.2,1015.9 1930.8,1020.4 1931.4,1019.7 1932.0,1016.5 1932.6,1019.3 1933.2,1018.4 1933.9,1019.6 1934.5,1017.0 1935.1,1018.1 1935.7,1017.5 1936.3,1016.7 1936.9,1017.8 1937.5,1020.6 1938.1,1017.3 1938.7,1016.6 1939.3,1016.6 1939.9,1019.0 1940.5,1017.5 1941.1,1015.4 1941.7,1015.4 1942.3,1017.0 1942.9,1019.2 1943.5,1020.5 1944.1,1019.8 1944.7,1017.6 1945.3,1018.6 1945.9,1019.9 1946.5,1016.9 1947.1,1011.6 1947.7,1020.9 1948.3,1020.1 1948.9,1018.8 1949.5,1020.4 1950.1,1019.4 1950.7,1016.7 1951.3,1015.5 1951.9,1017.4 1952.5,1015.9 1953.1,1017.0 1953.7,1019.4 1954.3,1015.3 1954.9,1017.6 1955.5,1021.7 1956.1,1017.9 1956.7,1015.2 1957.3,1018.3 1957.9,1017.4 1958.5,1019.9 1959.1,1016.9 1959.7,1020.8 1960.3,1020.1 1960.9,1021.5 1961.5,1018.8 1962.1,1020.9 1962.7,1013.9 1963.3,1015.3 1963.9,1018.3 1964.5,1017.6 1965.1,1016.7 1965.7,1018.4 1966.3,1018.5 1966.9,1018.9 1967.5,1014.5 1968.1,1019.3 1968.8,1018.8 1969.4,1017.1 1970.0,1016.3 1970.6,1018.9 1971.2,1017.4 1971.8,1017.3 1972.4,1019.4 1973.0,1020.8 1973.6,1017.5 1974.2,1016.6 1974.8,1017.8 1975.4,1016.8 1976.0,1014.9 1976.6,1019.0 1977.2,1018.3 1977.8,1015.7 1978.4,1016.9 1979.0,1017.2 1979.6,1015.7 1980.2,1019.5 1980.8,1018.3 1981.4,1015.4 1982.0,1014.2 1982.6,1021.3 1983.2,1013.4 1983.8,1019.5 1984.4,1018.7 1985.0,1019.1 1985.6,1015.8 1986.2,1017.4 1986.8,1017.2 1987.4,1021.0 1988.0,1018.3 1988.6,1014.9 1989.2,1018.7 1989.8,1019.7 1990.4,1019.9 1991.0,1017.2 1991.6,1018.0 1992.2,1016.5 1992.8,1017.6 1993.4,1018.8 1994.0,1019.1 1994.6,1014.7 1995.2,1018.2 1995.8,1018.8 1996.4,1018.6 1997.0,1012.8 1997.6,1016.8 1998.2,1020.0 1998.8,1021.2 1999.4,1018.0 2000.0,1018.1 2000.6,1015.5 2001.2,1017.1 2001.8,1017.7 2002.4,1021.7 2003.1,1013.3 2003.7,1020.2 2004.3,1020.1 2004.9,1020.2 2005.5,1015.9 2006.1,1018.1 2006.7,1017.5 2007.3,1018.7 2007.9,1017.1 2008.5,1016.5 2009.1,1016.5 2009.7,1015.6 2010.3,1020.2 2010.9,1015.9 2011.5,1016.2 2012.1,1019.7 2012.7,1017.3 2013.3,1017.4 2013.9,1019.6 2014.5,1017.8 2015.1,1018.8 2015.7,1017.6 2016.3,1013.5 2016.9,1016.3 2017.5,1018.3 2018.1,1016.9 2018.7,1019.8 2019.3,1016.8 2019.9,1017.2 2020.5,1016.6 2021.1,1016.9 2021.7,1021.5 2022.3,1016.3 2022.9,1014.2 2023.5,1014.7 2024.1,1014.2 2024.7,1017.5 2025.3,1017.3 2025.9,1016.8 2026.5,1016.2 2027.1,1016.7 2027.7,1013.4 2028.3,1017.3 2028.9,1016.4 2029.5,1020.8 2030.1,1017.4 2030.7,1018.0 2031.3,1014.8 2031.9,1017.4 2032.5,1019.7 2033.1,1015.7 2033.7,1018.1 2034.3,1017.8 2034.9,1019.3 2035.5,1017.1 2036.1,1017.8 2036.7,1017.0 2037.4,1021.1 2038.0,1020.2 2038.6,1017.9 2039.2,1019.3 2039.8,1016.2 2040.4,1017.9 2041.0,1018.0 2041.6,1018.3 2042.2,1020.9 2042.8,1017.5 2043.4,1017.2 2044.0,1019.1 2044.6,1018.7 2045.2,1020.9 2045.8,1024.4 2046.4,1019.7 2047.0,1017.8 2047.6,1017.5 2048.2,1020.9 2048.8,1015.3 2049.4,1017.6 2050.0,1018.9 2050.6,1018.9 2051.2,1017.2 2051.8,1021.3 2052.4,1020.7 2053.0,1021.0 2053.6,1017.5 2054.2,1016.5 2054.8,1019.2 2055.4,1017.8 2056.0,1017.8 2056.6,1017.7 2057.2,1020.4 2057.8,1016.9 2058.4,1024.2 2059.0,1013.9 2059.6,1017.4 2060.2,1017.8 2060.8,1016.9 2061.4,1018.0 2062.0,1017.5 2062.6,1015.1 2063.2,1018.7 2063.8,1022.0 2064.4,1015.4 2065.0,1016.6 2065.6,1015.9 2066.2,1018.2 2066.8,1015.4 2067.4,1018.1 2068.0,1018.3 2068.6,1019.0 2069.2,1020.2 2069.8,1016.5 2070.4,1016.2 2071.0,1019.1 2071.7,1020.0 2072.3,1017.4 2072.9,1014.4 2073.5,1019.8 2074.1,1019.7 2074.7,1013.7 2075.3,1019.2 2075.9,1017.2 2076.5,1014.5 2077.1,1020.3 2077.7,1018.9 2078.3,1022.2 2078.9,1018.7 2079.5,1017.9 2080.1,1020.1 2080.7,1022.1 2081.3,1020.0 2081.9,1018.0 2082.5,1018.6 2083.1,1017.8 2083.7,1016.1 2084.3,1017.4 2084.9,1018.6 2085.5,1017.2 2086.1,1019.6 2086.7,1016.7 2087.3,1018.7 2087.9,1015.6 2088.5,1014.6"/>
<polyline fill="none" stroke="#00ae68" stroke-width="4.6" stroke-linejoin="round" stroke-linecap="butt" points="163.5,793.7 164.1,794.4 164.7,794.0 165.3,796.6 165.9,804.5 166.5,792.9 167.1,802.6 167.7,803.8 168.3,797.6 168.9,794.7 169.5,800.8 170.1,806.3 170.7,807.1 171.3,802.4 171.9,805.0 172.5,797.3 173.1,795.7 173.7,792.5 174.3,794.6 174.9,797.6 175.5,799.7 176.1,794.0 176.7,802.1 177.3,798.6 177.9,796.6 178.5,796.1 179.1,806.6 179.7,799.6 180.3,795.6 181.0,795.4 181.6,805.9 182.2,796.8 182.8,803.5 183.4,804.3 184.0,785.0 184.6,804.1 185.2,798.2 185.8,794.9 186.4,796.9 187.0,801.1 187.6,800.4 188.2,800.6 188.8,796.3 189.4,803.8 190.0,804.6 190.6,805.9 191.2,802.7 191.8,806.1 192.4,806.8 193.0,801.6 193.6,802.3 194.2,801.2 194.8,801.0 195.4,802.2 196.0,792.6 196.6,797.8 197.2,800.8 197.8,791.1 198.4,793.6 199.0,804.9 199.6,795.0 200.2,797.2 200.8,800.4 201.4,796.1 202.0,795.8 202.6,797.1 203.2,796.4 203.8,796.8 204.4,799.7 205.0,808.6 205.6,800.3 206.2,805.0 206.8,801.7 207.4,802.1 208.0,801.2 208.6,797.9 209.2,801.5 209.8,800.1 210.4,794.8 211.0,801.8 211.6,801.1 212.2,800.4 212.8,796.9 213.4,789.2 214.0,804.4 214.6,798.7 215.3,790.9 215.9,801.4 216.5,796.4 217.1,801.5 217.7,798.6 218.3,803.2 218.9,799.8 219.5,800.0 220.1,799.5 220.7,803.5 221.3,794.2 221.9,803.3 222.5,801.5 223.1,796.9 223.7,799.0 224.3,797.3 224.9,799.2 225.5,802.5 226.1,796.5 226.7,801.7 227.3,802.5 227.9,801.3 228.5,804.8 229.1,798.7 229.7,801.5 230.3,808.1 230.9,799.1 231.5,798.5 232.1,799.0 232.7,801.1 233.3,796.7 233.9,798.1 234.5,792.5 235.1,795.1 235.7,795.2 236.3,794.7 236.9,797.3 237.5,801.5 238.1,797.6 238.7,794.1 239.3,799.9 239.9,799.6 240.5,793.8 241.1,799.5 241.7,795.0 242.3,796.7 242.9,794.6 243.5,802.0 244.1,795.9 244.7,797.8 245.3,799.6 245.9,802.8 246.5,803.3 247.1,795.2 247.7,803.3 248.3,800.1 248.9,803.4 249.6,802.8 250.2,797.0 250.8,799.1 251.4,797.9 252.0,800.3 252.6,805.0 253.2,799.2 253.8,796.5 254.4,808.3 255.0,795.3 255.6,799.0 256.2,798.9 256.8,794.3 257.4,801.9 258.0,802.9 258.6,798.7 259.2,799.2 259.8,798.4 260.4,792.5 261.0,799.9 261.6,794.4 262.2,795.5 262.8,800.4 263.4,802.4 264.0,795.8 264.6,803.1 265.2,805.4 265.8,799.6 266.4,798.7 267.0,799.7 267.6,797.5 268.2,795.9 268.8,801.3 269.4,801.6 270.0,797.2 270.6,797.5 271.2,796.7 271.8,796.4 272.4,795.5 273.0,793.5 273.6,802.3 274.2,797.7 274.8,799.2 275.4,805.5 276.0,797.2 276.6,801.1 277.2,794.1 277.8,796.7 278.4,801.5 279.0,798.0 279.6,793.8 280.2,793.4 280.8,800.2 281.4,795.6 282.0,801.4 282.6,799.9 283.2,797.8 283.9,798.7 284.5,801.6 285.1,799.1 285.7,795.5 286.3,800.1 286.9,797.7 287.5,798.1 288.1,801.0 288.7,800.1 289.3,802.6 289.9,798.3 290.5,797.3 291.1,797.7 291.7,800.3 292.3,796.1 292.9,797.7 293.5,795.9 294.1,796.2 294.7,798.3 295.3,807.5 295.9,797.6 296.5,799.9 297.1,799.3 297.7,798.3 298.3,799.1 298.9,805.9 299.5,798.0 300.1,804.6 300.7,801.3 301.3,795.9 301.9,796.7 302.5,797.3 303.1,795.1 303.7,803.0 304.3,800.4 304.9,800.8 305.5,795.4 306.1,800.6 306.7,797.1 307.3,807.5 307.9,798.7 308.5,800.0 309.1,800.4 309.7,797.3 310.3,797.6 310.9,797.6 311.5,802.0 312.1,796.4 312.7,798.4 313.3,800.1 313.9,797.5 314.5,794.2 315.1,794.8 315.7,797.5 316.3,795.6 316.9,802.3 317.5,799.0 318.1,798.9 318.8,795.4 319.4,800.8 320.0,797.7 320.6,795.6 321.2,796.7 321.8,807.2 322.4,796.8 323.0,795.9 323.6,802.9 324.2,801.5 324.8,797.9 325.4,803.7 326.0,793.9 326.6,797.3 327.2,793.3 327.8,803.7 328.4,799.1 329.0,813.2 329.6,800.5 330.2,800.6 330.8,795.0 331.4,794.8 332.0,797.2 332.6,802.0 333.2,795.2 333.8,790.6 334.4,803.4 335.0,801.9 335.6,795.6 336.2,800.3 336.8,802.6 337.4,802.8 338.0,793.3 338.6,798.9 339.2,794.3 339.8,802.0 340.4,799.0 341.0,794.5 341.6,799.0 342.2,800.7 342.8,793.3 343.4,793.9 344.0,796.3 344.6,797.5 345.2,796.6 345.8,792.3 346.4,793.2 347.0,798.4 347.6,800.0 348.2,795.5 348.8,799.1 349.4,805.1 350.0,797.9 350.6,797.1 351.2,796.2 351.8,800.2 352.4,799.4 353.1,799.5 353.7,797.4 354.3,800.1 354.9,800.1 355.5,798.2 356.1,802.7 356.7,793.4 357.3,801.2 357.9,798.3 358.5,801.7 359.1,805.3 359.7,799.0 360.3,798.1 360.9,798.7 361.5,803.6 362.1,804.2 362.7,799.4 363.3,801.1 363.9,805.1 364.5,800.8 365.1,793.7 365.7,796.1 366.3,797.3 366.9,800.3 367.5,797.0 368.1,803.7 368.7,797.3 369.3,804.4 369.9,796.7 370.5,803.6 371.1,800.1 371.7,803.9 372.3,805.8 372.9,805.1 373.5,802.7 374.1,796.5 374.7,796.3 375.3,788.1 375.9,804.2 376.5,806.2 377.1,802.6 377.7,795.2 378.3,808.7 378.9,796.8 379.5,802.1 380.1,793.5 380.7,797.0 381.3,803.4 381.9,802.7 382.5,795.4 383.1,798.9 383.7,803.1 384.3,792.8 384.9,801.8 385.5,793.8 386.1,801.3 386.7,798.3 387.4,802.6 388.0,797.3 388.6,797.9 389.2,797.9 389.8,795.8 390.4,798.1 391.0,795.5 391.6,797.1 392.2,801.4 392.8,797.9 393.4,802.7 394.0,801.4 394.6,801.9 395.2,795.0 395.8,800.4 396.4,804.0 397.0,802.1 397.6,803.2 398.2,804.2 398.8,790.6 399.4,801.0 400.0,800.9 400.6,798.3 401.2,794.4 401.8,799.5 402.4,798.1 403.0,805.7 403.6,803.5 404.2,797.6 404.8,795.3 405.4,796.1 406.0,798.8 406.6,796.5 407.2,805.8 407.8,794.9 408.4,798.7 409.0,799.5 409.6,800.4 410.2,795.8 410.8,798.2 411.4,799.6 412.0,800.2 412.6,797.0 413.2,798.0 413.8,799.8 414.4,805.6 415.0,794.9 415.6,801.5 416.2,804.5 416.8,794.3 417.4,804.1 418.0,803.9 418.6,799.3 419.2,802.4 419.8,804.2 420.4,798.6 421.0,800.0 421.7,795.5 422.3,796.8 422.9,799.4 423.5,798.9 424.1,804.8 424.7,798.5 425.3,795.1 425.9,802.3 426.5,802.4 427.1,800.6 427.7,798.8 428.3,796.6 428.9,797.0 429.5,804.5 430.1,801.9 430.7,799.6 431.3,800.7 431.9,798.1 432.5,796.1 433.1,797.7 433.7,799.1 434.3,793.6 434.9,794.3 435.5,793.3 436.1,797.6 436.7,801.3 437.3,794.6 437.9,795.2 438.5,793.6 439.1,797.5 439.7,795.0 440.3,795.6 440.9,795.2 441.5,806.7 442.1,798.7 442.7,796.7 443.3,797.4 443.9,801.9 444.5,802.3 445.1,799.9 445.7,792.3 446.3,802.3 446.9,802.6 447.5,801.6 448.1,800.6 448.7,799.2 449.3,803.1 449.9,798.0 450.5,802.5 451.1,797.4 451.7,797.7 452.3,797.5 452.9,797.1 453.5,797.3 454.1,801.6 454.7,804.3 455.3,796.6 456.0,795.5 456.6,803.2 457.2,797.9 457.8,799.9 458.4,799.5 459.0,802.1 459.6,796.0 460.2,802.9 460.8,801.7 461.4,791.5 462.0,798.4 462.6,797.7 463.2,800.3 463.8,798.8 464.4,796.4 465.0,797.8 465.6,800.1 466.2,799.1 466.8,798.4 467.4,806.5 468.0,800.8 468.6,795.2 469.2,799.4 469.8,800.1 470.4,795.6 471.0,799.3 471.6,796.1 472.2,791.4 472.8,800.1 473.4,801.1 474.0,801.0 474.6,798.5 475.2,797.0 475.8,799.8 476.4,800.4 477.0,802.1 477.6,803.5 478.2,801.7 478.8,797.0 479.4,798.8 480.0,794.2 480.6,801.4 481.2,800.9 481.8,803.0 482.4,800.6 483.0,804.3 483.6,796.7 484.2,800.1 484.8,798.2 485.4,798.3 486.0,793.0 486.6,796.5 487.2,792.3 487.8,797.8 488.4,796.6 489.0,799.4 489.6,792.8 490.3,797.2 490.9,798.0 491.5,791.1 492.1,804.4 492.7,800.5 493.3,796.3 493.9,805.2 494.5,803.4 495.1,790.5 495.7,797.8 496.3,796.7 496.9,799.0 497.5,795.6 498.1,797.9 498.7,799.1 499.3,790.4 499.9,799.2 500.5,803.5 501.1,799.2 501.7,802.7 502.3,804.1 502.9,799.8 503.5,800.2 504.1,800.2 504.7,797.4 505.3,806.5 505.9,800.4 506.5,800.8 507.1,802.1 507.7,803.9 508.3,794.4 508.9,795.5 509.5,799.4 510.1,800.7 510.7,794.9 511.3,794.3 511.9,801.5 512.5,801.3 513.1,797.9 513.7,797.9 514.3,796.7 514.9,794.9 515.5,795.9 516.1,799.4 516.7,798.2 517.3,802.0 517.9,794.4 518.5,793.1 519.1,800.7 519.7,795.6 520.3,797.7 520.9,798.8 521.5,794.5 522.1,793.6 522.7,800.0 523.3,789.6 523.9,800.7 524.6,792.7 525.2,801.3 525.8,800.1 526.4,799.4 527.0,800.3 527.6,799.1 528.2,794.0 528.8,801.4 529.4,799.1 530.0,800.2 530.6,798.2 531.2,797.8 531.8,801.7 532.4,801.8 533.0,799.4 533.6,794.7 534.2,795.6 534.8,795.3 535.4,802.4 536.0,800.4 536.6,799.0 537.2,798.3 537.8,796.3 538.4,801.5 539.0,795.4 539.6,796.0 540.2,801.7 540.8,801.0 541.4,798.7 542.0,794.7 542.6,794.7 543.2,801.7 543.8,800.2 544.4,803.9 545.0,797.4 545.6,798.7 546.2,795.8 546.8,804.5 547.4,793.4 548.0,801.0 548.6,804.4 549.2,795.8 549.8,794.2 550.4,795.6 551.0,794.2 551.6,800.1 552.2,798.7 552.8,796.0 553.4,798.0 554.0,804.0 554.6,798.1 555.2,797.7 555.8,805.4 556.4,796.0 557.0,797.4 557.6,803.9 558.2,799.1 558.9,792.6 559.5,796.0 560.1,791.4 560.7,796.7 561.3,799.9 561.9,793.4 562.5,804.0 563.1,803.1 563.7,801.5 564.3,796.4 564.9,798.9 565.5,800.7 566.1,802.0 566.7,803.1 567.3,791.6 567.9,796.5 568.5,795.0 569.1,797.7 569.7,799.5 570.3,806.5 570.9,798.5 571.5,801.9 572.1,799.2 572.7,798.7 573.3,804.7 573.9,795.1 574.5,801.1 575.1,805.7 575.7,810.3 576.3,797.1 576.9,795.7 577.5,794.6 578.1,797.5 578.7,798.8 579.3,798.9 579.9,802.6 580.5,797.8 581.1,799.9 581.7,793.3 582.3,796.6 582.9,798.3 583.5,790.9 584.1,799.2 584.7,801.7 585.3,799.1 585.9,799.5 586.5,798.8 587.1,792.4 587.7,798.9 588.3,796.9 588.9,799.1 589.5,799.0 590.1,799.2 590.7,794.4 591.3,798.6 591.9,804.6 592.5,801.9 593.1,798.0 593.8,796.3 594.4,802.1 595.0,798.8 595.6,792.8 596.2,797.3 596.8,804.3 597.4,793.1 598.0,798.9 598.6,794.6 599.2,798.5 599.8,797.3 600.4,795.7 601.0,790.1 601.6,797.9 602.2,798.7 602.8,798.2 603.4,795.1 604.0,796.6 604.6,810.3 605.2,794.9 605.8,797.5 606.4,794.4 607.0,797.9 607.6,799.4 608.2,802.6 608.8,799.3 609.4,798.6 610.0,799.8 610.6,800.5 611.2,798.5 611.8,798.6 612.4,802.7 613.0,796.3 613.6,798.4 614.2,795.6 614.8,796.9 615.4,803.6 616.0,796.3 616.6,800.3 617.2,805.6 617.8,800.4 618.4,798.1 619.0,796.0 619.6,790.1 620.2,795.4 620.8,795.5 621.4,801.8 622.0,800.9 622.6,794.3 623.2,800.6 623.8,796.4 624.4,804.6 625.0,803.5 625.6,800.8 626.2,797.3 626.8,804.5 627.4,801.6 628.1,802.5 628.7,800.5 629.3,797.9 629.9,801.4 630.5,796.1 631.1,801.5 631.7,799.4 632.3,793.4 632.9,800.4 633.5,798.7 634.1,797.5 634.7,798.5 635.3,801.4 635.9,795.0 636.5,795.2 637.1,801.2 637.7,799.4 638.3,793.0 638.9,799.1 639.5,793.1 640.1,801.0 640.7,799.6 641.3,800.3 641.9,793.6 642.5,796.1 643.1,801.5 643.7,794.0 644.3,800.3 644.9,797.9 645.5,799.1 646.1,795.8 646.7,800.5 647.3,799.9 647.9,801.4 648.5,806.8 649.1,797.9 649.7,798.8 650.3,795.1 650.9,804.4 651.5,797.5 652.1,801.2 652.7,794.9 653.3,797.8 653.9,800.7 654.5,800.3 655.1,797.8 655.7,801.7 656.3,799.3 656.9,802.3 657.5,798.0 658.1,801.0 658.7,797.3 659.3,803.0 659.9,798.8 660.5,799.0 661.1,797.0 661.7,802.2 662.4,799.4 663.0,798.1 663.6,803.2 664.2,796.3 664.8,802.1 665.4,803.8 666.0,793.2 666.6,801.8 667.2,800.6 667.8,799.5 668.4,800.0 669.0,794.8 669.6,800.4 670.2,799.5 670.8,793.9 671.4,798.1 672.0,794.8 672.6,799.0 673.2,795.8 673.8,799.1 674.4,794.0 675.0,796.9 675.6,797.3 676.2,798.0 676.8,802.4 677.4,805.8 678.0,793.7 678.6,801.4 679.2,797.7 679.8,797.7 680.4,797.6 681.0,798.2 681.6,798.4 682.2,801.4 682.8,802.8 683.4,799.9 684.0,798.8 684.6,800.6 685.2,800.0 685.8,804.6 686.4,795.6 687.0,794.2 687.6,797.8 688.2,799.6 688.8,797.9 689.4,799.3 690.0,790.2 690.6,796.0 691.2,796.3 691.8,791.3 692.4,796.5 693.0,797.6 693.6,799.6 694.2,795.3 694.8,792.9 695.4,799.6 696.0,804.5 696.7,798.8 697.3,798.7 697.9,795.1 698.5,798.9 699.1,803.4 699.7,791.9 700.3,801.5 700.9,791.9 701.5,803.1 702.1,800.9 702.7,797.3 703.3,799.2 703.9,803.7 704.5,794.9 705.1,802.2 705.7,800.2 706.3,798.4 706.9,803.0 707.5,793.1 708.1,798.0 708.7,794.5 709.3,798.2 709.9,800.1 710.5,793.2 711.1,799.3 711.7,799.3 712.3,796.5 712.9,798.1 713.5,801.9 714.1,799.4 714.7,803.6 715.3,794.9 715.9,794.3 716.5,802.2 717.1,794.0 717.7,802.2 718.3,798.3 718.9,800.5 719.5,797.2 720.1,801.7 720.7,802.6 721.3,802.2 721.9,799.9 722.5,794.0 723.1,801.4 723.7,798.6 724.3,802.6 724.9,793.4 725.5,799.7 726.1,796.9 726.7,798.2 727.3,801.1 727.9,802.5 728.5,802.9 729.1,799.8 729.7,800.0 730.3,799.3 731.0,794.6 731.6,801.7 732.2,795.6 732.8,796.6 733.4,799.6 734.0,796.0 734.6,796.7 735.2,790.1 735.8,795.3 736.4,794.5 737.0,796.0 737.6,799.7 738.2,797.0 738.8,797.4 739.4,798.2 740.0,801.1 740.6,801.3 741.2,799.1 741.8,797.0 742.4,800.6 743.0,796.7 743.6,797.0 744.2,798.5 744.8,795.9 745.4,793.9 746.0,793.3 746.6,796.3 747.2,797.9 747.8,799.2 748.4,794.4 749.0,797.6 749.6,796.9 750.2,795.2 750.8,804.8 751.4,793.9 752.0,793.5 752.6,796.5 753.2,801.0 753.8,794.5 754.4,799.9 755.0,791.9 755.6,793.7 756.2,794.1 756.8,793.7 757.4,794.4 758.0,793.6 758.6,793.0 759.2,790.0 759.8,794.7 760.4,792.8 761.0,793.1 761.6,796.0 762.2,793.3 762.8,792.0 763.4,795.6 764.0,788.8 764.6,784.6 765.3,787.5 765.9,784.8 766.5,787.6 767.1,787.2 767.7,787.3 768.3,788.0 768.9,788.7 769.5,787.6 770.1,786.1 770.7,784.0 771.3,782.9 771.9,784.0 772.5,782.7 773.1,779.4 773.7,781.3 774.3,784.7 774.9,782.1 775.5,778.6 776.1,781.9 776.7,783.0 777.3,776.6 777.9,785.9 778.5,783.8 779.1,778.9 779.7,783.0 780.3,779.4 780.9,780.0 781.5,773.7 782.1,774.0 782.7,773.5 783.3,772.4 783.9,769.2 784.5,763.3 785.1,763.4 785.7,767.9 786.3,764.7 786.9,773.3 787.5,774.8 788.1,773.0 788.7,778.7 789.3,775.7 789.9,788.0 790.5,792.2 791.1,788.2 791.7,790.1 792.3,792.2 792.9,797.8 793.5,800.0 794.1,794.5 794.7,797.5 795.3,801.6 795.9,801.6 796.5,800.7 797.1,804.2 797.7,799.9 798.3,798.2 798.9,805.2 799.6,805.4 800.2,807.0 800.8,801.2 801.4,798.9 802.0,801.3 802.6,800.1 803.2,799.9 803.8,798.7 804.4,802.6 805.0,798.5 805.6,801.1 806.2,793.7 806.8,792.0 807.4,797.6 808.0,789.9 808.6,789.4 809.2,788.7 809.8,782.1 810.4,792.2 811.0,795.2 811.6,790.4 812.2,790.0 812.8,784.5 813.4,780.5 814.0,783.4 814.6,774.9 815.2,770.5 815.8,769.2 816.4,771.8 817.0,764.4 817.6,756.2 818.2,747.0 818.8,740.3 819.4,737.3 820.0,727.0 820.6,713.1 821.2,712.5 821.8,694.7 822.4,679.9 823.0,674.6 823.6,669.5 824.2,657.6 824.8,649.0 825.4,632.9 826.0,635.4 826.6,647.4 827.2,659.3 827.8,634.5 828.4,621.3 829.0,611.8 829.6,621.5 830.2,641.4 830.8,658.5 831.4,650.4 832.0,668.2 832.6,685.2 833.2,695.8 833.9,694.3 834.5,705.1 835.1,710.0 835.7,727.1 836.3,729.5 836.9,739.1 837.5,755.4 838.1,751.8 838.7,755.2 839.3,766.7 839.9,771.5 840.5,775.2 841.1,781.6 841.7,777.8 842.3,781.9 842.9,786.4 843.5,784.4 844.1,791.8 844.7,791.5 845.3,789.2 845.9,789.3 846.5,790.7 847.1,792.2 847.7,785.1 848.3,787.7 848.9,789.7 849.5,789.8 850.1,790.8 850.7,791.1 851.3,793.6 851.9,792.4 852.5,794.8 853.1,795.4 853.7,793.8 854.3,792.7 854.9,791.8 855.5,796.8 856.1,792.9 856.7,795.2 857.3,797.1 857.9,795.3 858.5,789.6 859.1,790.6 859.7,801.1 860.3,789.6 860.9,798.8 861.5,791.3 862.1,795.1 862.7,798.2 863.3,791.6 863.9,798.0 864.5,787.7 865.1,794.3 865.7,792.7 866.3,796.0 866.9,797.1 867.5,798.4 868.1,798.2 868.8,793.2 869.4,791.5 870.0,795.7 870.6,792.6 871.2,787.4 871.8,787.0 872.4,792.5 873.0,792.4 873.6,793.8 874.2,794.1 874.8,788.1 875.4,794.0 876.0,789.1 876.6,794.0 877.2,792.3 877.8,797.3 878.4,793.1 879.0,789.9 879.6,790.5 880.2,791.2 880.8,792.6 881.4,792.9 882.0,787.2 882.6,786.3 883.2,791.8 883.8,789.0 884.4,792.1 885.0,789.8 885.6,793.4 886.2,789.4 886.8,782.6 887.4,784.8 888.0,787.6 888.6,781.6 889.2,784.7 889.8,786.4 890.4,787.3 891.0,786.0 891.6,777.2 892.2,785.9 892.8,778.2 893.4,781.0 894.0,777.3 894.6,782.8 895.2,778.8 895.8,779.3 896.4,779.5 897.0,777.2 897.6,774.8 898.2,781.5 898.8,778.2 899.4,778.4 900.0,769.2 900.6,768.0 901.2,780.6 901.8,777.0 902.4,768.1 903.1,775.7 903.7,774.4 904.3,770.6 904.9,772.6 905.5,780.6 906.1,771.8 906.7,776.1 907.3,771.8 907.9,769.5 908.5,783.6 909.1,777.8 909.7,774.1 910.3,774.9 910.9,775.6 911.5,773.3 912.1,778.9 912.7,780.0 913.3,776.9 913.9,778.6 914.5,774.9 915.1,780.7 915.7,773.6 916.3,780.5 916.9,786.4 917.5,781.0 918.1,791.7 918.7,779.4 919.3,782.8 919.9,784.1 920.5,787.8 921.1,789.2 921.7,786.3 922.3,781.2 922.9,791.5 923.5,789.4 924.1,790.3 924.7,782.9 925.3,790.1 925.9,788.4 926.5,792.5 927.1,795.4 927.7,787.4 928.3,790.2 928.9,791.0 929.5,788.8 930.1,793.3 930.7,793.5 931.3,789.4 931.9,789.8 932.5,793.6 933.1,787.4 933.7,794.3 934.3,796.3 934.9,796.5 935.5,791.1 936.1,799.8 936.7,800.9 937.4,791.2 938.0,800.3 938.6,799.1 939.2,798.0 939.8,793.1 940.4,798.7 941.0,792.4 941.6,796.1 942.2,798.6 942.8,797.8 943.4,795.5 944.0,797.6 944.6,796.2 945.2,797.6 945.8,793.1 946.4,793.3 947.0,794.3 947.6,793.3 948.2,802.6 948.8,805.0 949.4,799.3 950.0,800.8 950.6,794.2 951.2,797.0 951.8,794.1 952.4,799.4 953.0,797.9 953.6,794.5 954.2,801.8 954.8,797.5 955.4,800.0 956.0,800.3 956.6,802.0 957.2,801.5 957.8,797.8 958.4,797.0 959.0,795.8 959.6,794.6 960.2,802.9 960.8,796.0 961.4,801.8 962.0,795.0 962.6,795.5 963.2,800.4 963.8,797.0 964.4,795.1 965.0,802.3 965.6,793.7 966.2,795.0 966.8,799.4 967.4,801.9 968.0,797.4 968.6,794.9 969.2,804.0 969.8,797.4 970.4,795.5 971.0,797.7 971.7,800.8 972.3,789.0 972.9,794.3 973.5,799.5 974.1,799.0 974.7,797.6 975.3,797.0 975.9,799.1 976.5,800.6 977.1,795.8 977.7,796.2 978.3,799.7 978.9,796.4 979.5,793.6 980.1,796.9 980.7,794.2 981.3,799.2 981.9,800.0 982.5,795.6 983.1,797.1 983.7,798.6 984.3,801.2 984.9,800.6 985.5,798.4 986.1,798.7 986.7,801.7 987.3,799.7 987.9,799.4 988.5,794.7 989.1,798.4 989.7,799.2 990.3,798.1 990.9,794.8 991.5,792.5 992.1,799.6 992.7,799.7 993.3,798.2 993.9,795.2 994.5,796.4 995.1,797.5 995.7,799.9 996.3,798.0 996.9,795.3 997.5,796.1 998.1,794.1 998.7,802.9 999.3,795.4 999.9,801.7 1000.5,798.2 1001.1,802.8 1001.7,794.1 1002.3,799.4 1002.9,794.4 1003.5,794.3 1004.1,794.5 1004.7,792.5 1005.3,793.5 1006.0,795.1 1006.6,800.5 1007.2,793.8 1007.8,789.9 1008.4,795.9 1009.0,797.6 1009.6,784.6 1010.2,793.1 1010.8,786.3 1011.4,783.7 1012.0,790.4 1012.6,791.7 1013.2,795.2 1013.8,784.1 1014.4,781.2 1015.0,781.3 1015.6,781.0 1016.2,780.3 1016.8,780.2 1017.4,775.4 1018.0,774.4 1018.6,771.8 1019.2,767.1 1019.8,770.1 1020.4,772.8 1021.0,769.6 1021.6,759.1 1022.2,771.6 1022.8,763.1 1023.4,773.8 1024.0,773.0 1024.6,767.2 1025.2,770.1 1025.8,759.0 1026.4,758.9 1027.0,754.2 1027.6,754.7 1028.2,750.1 1028.8,747.2 1029.4,743.9 1030.0,747.2 1030.6,741.5 1031.2,741.3 1031.8,746.0 1032.4,751.1 1033.0,755.5 1033.6,755.1 1034.2,762.0 1034.8,767.3 1035.4,769.6 1036.0,771.3 1036.6,778.1 1037.2,774.4 1037.8,784.7 1038.4,783.6 1039.0,788.4 1039.6,790.4 1040.3,797.9 1040.9,799.1 1041.5,800.5 1042.1,794.4 1042.7,793.1 1043.3,797.6 1043.9,792.1 1044.5,795.3 1045.1,793.5 1045.7,795.8 1046.3,798.5 1046.9,793.0 1047.5,797.3 1048.1,797.2 1048.7,797.4 1049.3,798.3 1049.9,795.7 1050.5,796.7 1051.1,796.0 1051.7,792.5 1052.3,801.7 1052.9,799.4 1053.5,799.4 1054.1,795.4 1054.7,792.2 1055.3,798.3 1055.9,794.8 1056.5,803.0 1057.1,802.8 1057.7,796.1 1058.3,801.7 1058.9,799.9 1059.5,797.6 1060.1,793.2 1060.7,799.7 1061.3,800.6 1061.9,800.7 1062.5,796.5 1063.1,798.3 1063.7,798.4 1064.3,798.3 1064.9,796.5 1065.5,801.5 1066.1,800.0 1066.7,797.2 1067.3,799.7 1067.9,801.3 1068.5,799.5 1069.1,799.4 1069.7,800.8 1070.3,796.3 1070.9,800.6 1071.5,796.6 1072.1,799.2 1072.7,802.2 1073.3,797.3 1073.9,802.0 1074.6,800.6 1075.2,802.7 1075.8,794.3 1076.4,787.2 1077.0,796.0 1077.6,804.9 1078.2,799.7 1078.8,798.1 1079.4,799.0 1080.0,800.2 1080.6,798.4 1081.2,805.8 1081.8,799.3 1082.4,795.1 1083.0,795.2 1083.6,798.6 1084.2,798.9 1084.8,801.4 1085.4,801.8 1086.0,802.0 1086.6,796.0 1087.2,800.2 1087.8,797.1 1088.4,799.5 1089.0,795.9 1089.6,802.9 1090.2,803.1 1090.8,800.0 1091.4,796.2 1092.0,802.1 1092.6,799.9 1093.2,795.0 1093.8,800.9 1094.4,801.6 1095.0,801.5 1095.6,793.8 1096.2,801.0 1096.8,801.8 1097.4,797.2 1098.0,802.1 1098.6,800.5 1099.2,801.8 1099.8,793.9 1100.4,798.1 1101.0,800.4 1101.6,794.6 1102.2,799.3 1102.8,804.0 1103.4,794.4 1104.0,803.1 1104.6,801.6 1105.2,796.3 1105.8,796.6 1106.4,796.3 1107.0,799.8 1107.6,792.1 1108.2,800.9 1108.9,794.4 1109.5,797.8 1110.1,797.6 1110.7,801.1 1111.3,795.9 1111.9,796.4 1112.5,802.3 1113.1,803.7 1113.7,798.7 1114.3,797.8 1114.9,799.6 1115.5,799.0 1116.1,798.8 1116.7,795.8 1117.3,792.2 1117.9,799.4 1118.5,798.6 1119.1,802.1 1119.7,802.0 1120.3,803.5 1120.9,797.2 1121.5,800.8 1122.1,795.0 1122.7,799.4 1123.3,800.2 1123.9,796.5 1124.5,798.4 1125.1,805.9 1125.7,796.2 1126.3,801.7 1126.9,797.6 1127.5,801.3 1128.1,791.1 1128.7,794.8 1129.3,797.9 1129.9,803.6 1130.5,798.2 1131.1,795.0 1131.7,797.4 1132.3,800.9 1132.9,794.1 1133.5,798.8 1134.1,798.1 1134.7,797.5 1135.3,799.9 1135.9,796.5 1136.5,800.4 1137.1,800.6 1137.7,803.8 1138.3,799.8 1138.9,798.6 1139.5,795.5 1140.1,797.2 1140.7,795.0 1141.3,802.9 1141.9,792.0 1142.5,800.1 1143.1,800.2 1143.8,800.8 1144.4,797.6 1145.0,805.4 1145.6,797.9 1146.2,794.2 1146.8,796.9 1147.4,796.7 1148.0,802.7 1148.6,798.8 1149.2,796.2 1149.8,796.2 1150.4,798.4 1151.0,797.5 1151.6,798.6 1152.2,801.9 1152.8,794.9 1153.4,797.0 1154.0,799.7 1154.6,794.6 1155.2,800.9 1155.8,803.1 1156.4,799.5 1157.0,801.6 1157.6,798.2 1158.2,799.3 1158.8,800.1 1159.4,799.2 1160.0,802.9 1160.6,798.0 1161.2,802.0 1161.8,798.1 1162.4,804.0 1163.0,803.5 1163.6,800.5 1164.2,795.3 1164.8,796.8 1165.4,791.5 1166.0,801.7 1166.6,797.8 1167.2,797.0 1167.8,799.2 1168.4,794.9 1169.0,797.7 1169.6,799.6 1170.2,802.0 1170.8,805.7 1171.4,796.8 1172.0,801.9 1172.6,797.4 1173.2,796.1 1173.8,800.2 1174.4,799.0 1175.0,794.7 1175.6,799.0 1176.2,805.0 1176.8,797.0 1177.4,797.0 1178.1,805.3 1178.7,800.0 1179.3,797.1 1179.9,800.8 1180.5,797.8 1181.1,797.1 1181.7,800.5 1182.3,796.7 1182.9,801.7 1183.5,804.1 1184.1,797.4 1184.7,797.3 1185.3,797.2 1185.9,799.2 1186.5,797.0 1187.1,799.6 1187.7,801.6 1188.3,796.1 1188.9,800.0 1189.5,802.7 1190.1,801.8 1190.7,796.6 1191.3,803.0 1191.9,796.5 1192.5,802.3 1193.1,794.6 1193.7,801.1 1194.3,798.4 1194.9,798.3 1195.5,798.1 1196.1,796.4 1196.7,800.6 1197.3,799.7 1197.9,801.7 1198.5,796.8 1199.1,801.4 1199.7,802.2 1200.3,796.6 1200.9,802.9 1201.5,803.8 1202.1,795.7 1202.7,796.5 1203.3,806.5 1203.9,800.3 1204.5,798.9 1205.1,796.6 1205.7,801.3 1206.3,798.0 1206.9,800.5 1207.5,799.9 1208.1,800.7 1208.7,801.3 1209.3,798.5 1209.9,800.7 1210.5,801.1 1211.1,798.6 1211.7,797.2 1212.4,800.1 1213.0,803.9 1213.6,798.7 1214.2,797.9 1214.8,800.2 1215.4,797.9 1216.0,799.5 1216.6,799.2 1217.2,797.6 1217.8,800.3 1218.4,796.7 1219.0,797.1 1219.6,791.5 1220.2,796.9 1220.8,799.8 1221.4,802.5 1222.0,807.9 1222.6,798.7 1223.2,797.7 1223.8,804.7 1224.4,794.8 1225.0,801.6 1225.6,799.9 1226.2,803.7 1226.8,798.1 1227.4,799.5 1228.0,794.0 1228.6,797.1 1229.2,798.7 1229.8,797.2 1230.4,796.7 1231.0,801.8 1231.6,794.4 1232.2,793.8 1232.8,794.3 1233.4,796.4 1234.0,795.7 1234.6,797.6 1235.2,796.4 1235.8,803.5 1236.4,794.8 1237.0,797.9 1237.6,800.1 1238.2,805.2 1238.8,798.0 1239.4,796.9 1240.0,801.4 1240.6,797.4 1241.2,794.0 1241.8,794.1 1242.4,797.3 1243.0,794.6 1243.6,801.7 1244.2,799.9 1244.8,803.5 1245.4,799.3 1246.0,797.7 1246.7,800.7 1247.3,800.7 1247.9,796.1 1248.5,803.7 1249.1,799.4 1249.7,801.2 1250.3,797.3 1250.9,801.8 1251.5,805.4 1252.1,798.4 1252.7,794.3 1253.3,799.3 1253.9,799.3 1254.5,800.9 1255.1,794.4 1255.7,801.9 1256.3,799.8 1256.9,798.1 1257.5,795.4 1258.1,799.6 1258.7,802.1 1259.3,800.3 1259.9,800.3 1260.5,799.1 1261.1,799.8 1261.7,795.0 1262.3,803.2 1262.9,801.9 1263.5,798.2 1264.1,799.1 1264.7,794.9 1265.3,796.4 1265.9,800.1 1266.5,796.9 1267.1,795.6 1267.7,798.0 1268.3,800.6 1268.9,795.8 1269.5,800.2 1270.1,800.5 1270.7,800.7 1271.3,800.4 1271.9,799.1 1272.5,798.1 1273.1,801.7 1273.7,796.2 1274.3,802.5 1274.9,795.2 1275.5,798.2 1276.1,799.6 1276.7,793.7 1277.3,800.4 1277.9,802.0 1278.5,795.7 1279.1,798.3 1279.7,801.2 1280.3,801.1 1281.0,801.8 1281.6,794.3 1282.2,798.3 1282.8,802.4 1283.4,794.7 1284.0,795.3 1284.6,798.6 1285.2,798.6 1285.8,794.7 1286.4,796.0 1287.0,798.5 1287.6,799.2 1288.2,804.2 1288.8,801.6 1289.4,799.7 1290.0,798.9 1290.6,801.1 1291.2,806.6 1291.8,798.1 1292.4,796.5 1293.0,795.6 1293.6,799.1 1294.2,795.7 1294.8,793.5 1295.4,796.8 1296.0,795.4 1296.6,801.8 1297.2,803.6 1297.8,797.7 1298.4,797.7 1299.0,802.1 1299.6,799.1 1300.2,798.0 1300.8,801.6 1301.4,796.5 1302.0,801.1 1302.6,805.2 1303.2,792.6 1303.8,800.5 1304.4,798.5 1305.0,802.9 1305.6,802.0 1306.2,796.7 1306.8,798.7 1307.4,796.6 1308.0,802.1 1308.6,796.5 1309.2,798.7 1309.8,801.6 1310.4,797.6 1311.0,795.8 1311.6,795.5 1312.2,795.9 1312.8,798.3 1313.4,797.9 1314.0,800.1 1314.6,798.6 1315.3,802.3 1315.9,801.1 1316.5,803.0 1317.1,797.3 1317.7,795.5 1318.3,802.8 1318.9,800.2 1319.5,793.0 1320.1,797.4 1320.7,800.3 1321.3,802.5 1321.9,805.8 1322.5,802.3 1323.1,799.9 1323.7,797.8 1324.3,796.6 1324.9,797.1 1325.5,795.9 1326.1,798.9 1326.7,802.0 1327.3,800.5 1327.9,796.2 1328.5,801.0 1329.1,802.3 1329.7,798.7 1330.3,798.4 1330.9,799.1 1331.5,800.4 1332.1,793.4 1332.7,796.5 1333.3,795.2 1333.9,799.1 1334.5,801.3 1335.1,797.4 1335.7,802.0 1336.3,799.6 1336.9,800.3 1337.5,799.3 1338.1,795.7 1338.7,804.0 1339.3,799.7 1339.9,794.4 1340.5,800.8 1341.1,801.6 1341.7,795.4 1342.3,799.4 1342.9,803.6 1343.5,800.7 1344.1,799.5 1344.7,799.3 1345.3,800.4 1345.9,796.4 1346.5,798.0 1347.1,800.1 1347.7,799.2 1348.3,803.0 1348.9,794.1 1349.6,805.1 1350.2,797.8 1350.8,797.3 1351.4,799.0 1352.0,802.2 1352.6,798.6 1353.2,803.1 1353.8,802.6 1354.4,799.5 1355.0,798.9 1355.6,798.9 1356.2,800.1 1356.8,795.4 1357.4,803.4 1358.0,799.7 1358.6,800.2 1359.2,797.7 1359.8,797.8 1360.4,803.9 1361.0,794.2 1361.6,800.3 1362.2,797.4 1362.8,794.9 1363.4,801.5 1364.0,797.0 1364.6,801.4 1365.2,798.4 1365.8,793.4 1366.4,799.0 1367.0,795.9 1367.6,798.5 1368.2,798.3 1368.8,800.4 1369.4,799.4 1370.0,798.3 1370.6,797.3 1371.2,795.0 1371.8,793.1 1372.4,799.6 1373.0,795.5 1373.6,797.6 1374.2,800.9 1374.8,801.4 1375.4,801.4 1376.0,799.5 1376.6,800.3 1377.2,800.2 1377.8,799.8 1378.4,795.7 1379.0,799.8 1379.6,801.7 1380.2,798.9 1380.8,799.4 1381.4,792.1 1382.0,796.2 1382.6,805.8 1383.2,796.2 1383.9,800.6 1384.5,802.5 1385.1,801.8 1385.7,799.6 1386.3,798.9 1386.9,795.4 1387.5,803.9 1388.1,799.3 1388.7,802.3 1389.3,794.6 1389.9,793.6 1390.5,793.5 1391.1,801.3 1391.7,798.2 1392.3,798.3 1392.9,799.8 1393.5,799.3 1394.1,799.4 1394.7,797.0 1395.3,796.2 1395.9,799.3 1396.5,803.5 1397.1,797.3 1397.7,799.3 1398.3,798.0 1398.9,801.1 1399.5,793.6 1400.1,804.3 1400.7,804.0 1401.3,799.3 1401.9,798.7 1402.5,794.2 1403.1,801.6 1403.7,799.8 1404.3,799.6 1404.9,794.5 1405.5,801.1 1406.1,804.3 1406.7,796.0 1407.3,798.4 1407.9,802.5 1408.5,801.0 1409.1,801.1 1409.7,807.9 1410.3,803.2 1410.9,799.7 1411.5,791.2 1412.1,798.6 1412.7,795.3 1413.3,795.5 1413.9,802.7 1414.5,796.0 1415.1,798.7 1415.7,803.1 1416.3,797.0 1416.9,797.6 1417.5,795.7 1418.1,797.7 1418.8,794.5 1419.4,799.6 1420.0,797.0 1420.6,800.3 1421.2,800.7 1421.8,798.8 1422.4,799.3 1423.0,797.9 1423.6,800.5 1424.2,801.6 1424.8,800.3 1425.4,802.9 1426.0,799.7 1426.6,799.0 1427.2,800.5 1427.8,794.6 1428.4,797.7 1429.0,793.3 1429.6,799.8 1430.2,801.8 1430.8,795.5 1431.4,797.1 1432.0,797.5 1432.6,802.5 1433.2,800.2 1433.8,802.9 1434.4,801.0 1435.0,801.1 1435.6,793.8 1436.2,793.3 1436.8,802.9 1437.4,805.9 1438.0,795.8 1438.6,796.1 1439.2,802.6 1439.8,805.2 1440.4,796.1 1441.0,797.4 1441.6,802.1 1442.2,800.3 1442.8,800.3 1443.4,801.7 1444.0,796.0 1444.6,796.7 1445.2,803.6 1445.8,794.5 1446.4,801.6 1447.0,797.7 1447.6,803.0 1448.2,798.9 1448.8,798.6 1449.4,802.4 1450.0,799.1 1450.6,799.1 1451.2,792.4 1451.8,800.8 1452.4,798.7 1453.1,802.2 1453.7,798.0 1454.3,796.0 1454.9,803.1 1455.5,799.3 1456.1,798.6 1456.7,795.4 1457.3,803.5 1457.9,802.1 1458.5,796.6 1459.1,801.6 1459.7,801.0 1460.3,803.0 1460.9,799.5 1461.5,805.7 1462.1,793.8 1462.7,794.9 1463.3,801.5 1463.9,802.2 1464.5,800.9 1465.1,806.6 1465.7,800.8 1466.3,795.1 1466.9,804.4 1467.5,800.2 1468.1,798.9 1468.7,801.8 1469.3,801.7 1469.9,798.9 1470.5,802.5 1471.1,801.3 1471.7,799.7 1472.3,799.8 1472.9,794.1 1473.5,797.5 1474.1,797.6 1474.7,798.8 1475.3,804.1 1475.9,799.8 1476.5,798.6 1477.1,795.8 1477.7,798.2 1478.3,796.7 1478.9,796.5 1479.5,799.4 1480.1,794.5 1480.7,797.1 1481.3,802.0 1481.9,799.5 1482.5,796.6 1483.1,797.6 1483.7,797.0 1484.3,802.7 1484.9,802.5 1485.5,803.6 1486.1,797.7 1486.7,798.5 1487.4,801.2 1488.0,795.5 1488.6,797.1 1489.2,801.6 1489.8,797.1 1490.4,796.4 1491.0,800.2 1491.6,798.1 1492.2,797.0 1492.8,799.2 1493.4,793.8 1494.0,800.9 1494.6,799.4 1495.2,799.9 1495.8,799.5 1496.4,800.9 1497.0,793.9 1497.6,799.1 1498.2,803.0 1498.8,796.8 1499.4,796.3 1500.0,796.7 1500.6,794.6 1501.2,806.1 1501.8,797.9 1502.4,800.7 1503.0,795.7 1503.6,796.4 1504.2,795.7 1504.8,794.0 1505.4,796.9 1506.0,801.7 1506.6,796.3 1507.2,801.3 1507.8,804.2 1508.4,799.9 1509.0,802.1 1509.6,802.6 1510.2,797.2 1510.8,796.8 1511.4,793.9 1512.0,797.7 1512.6,802.5 1513.2,800.0 1513.8,798.8 1514.4,797.9 1515.0,796.9 1515.6,798.2 1516.2,806.1 1516.8,803.2 1517.4,800.4 1518.0,799.0 1518.6,797.7 1519.2,802.7 1519.8,798.5 1520.4,798.8 1521.0,799.0 1521.7,803.8 1522.3,800.5 1522.9,804.8 1523.5,798.0 1524.1,797.9 1524.7,796.6 1525.3,800.4 1525.9,796.7 1526.5,798.5 1527.1,803.9 1527.7,801.6 1528.3,799.1 1528.9,799.3 1529.5,790.4 1530.1,793.2 1530.7,801.4 1531.3,796.3 1531.9,797.0 1532.5,801.8 1533.1,795.5 1533.7,799.7 1534.3,798.5 1534.9,799.9 1535.5,799.2 1536.1,804.5 1536.7,801.6 1537.3,804.1 1537.9,797.6 1538.5,799.3 1539.1,800.6 1539.7,804.5 1540.3,802.2 1540.9,799.2 1541.5,795.8 1542.1,799.5 1542.7,796.0 1543.3,796.3 1543.9,797.4 1544.5,797.9 1545.1,797.3 1545.7,802.5 1546.3,798.9 1546.9,796.2 1547.5,799.2 1548.1,794.6 1548.7,800.2 1549.3,800.9 1549.9,801.1 1550.5,796.0 1551.1,802.0 1551.7,801.7 1552.3,804.5 1552.9,800.9 1553.5,799.3 1554.1,798.7 1554.7,797.4 1555.3,796.6 1556.0,797.3 1556.6,802.2 1557.2,798.7 1557.8,799.3 1558.4,798.0 1559.0,800.5 1559.6,801.8 1560.2,801.5 1560.8,796.2 1561.4,798.9 1562.0,805.7 1562.6,800.7 1563.2,799.8 1563.8,798.0 1564.4,795.3 1565.0,794.1 1565.6,798.4 1566.2,799.4 1566.8,795.6 1567.4,798.9 1568.0,800.8 1568.6,800.7 1569.2,802.4 1569.8,794.9 1570.4,799.8 1571.0,800.8 1571.6,799.5 1572.2,795.5 1572.8,794.6 1573.4,803.9 1574.0,797.4 1574.6,799.9 1575.2,797.3 1575.8,796.8 1576.4,800.2 1577.0,801.6 1577.6,798.9 1578.2,798.3 1578.8,801.5 1579.4,798.4 1580.0,798.3 1580.6,797.4 1581.2,799.6 1581.8,798.5 1582.4,798.3 1583.0,797.9 1583.6,799.4 1584.2,802.1 1584.8,798.4 1585.4,796.3 1586.0,804.8 1586.6,801.6 1587.2,797.3 1587.8,793.8 1588.4,802.0 1589.0,796.4 1589.6,798.4 1590.3,791.1 1590.9,800.6 1591.5,801.7 1592.1,798.0 1592.7,797.7 1593.3,798.2 1593.9,794.9 1594.5,795.1 1595.1,801.3 1595.7,797.4 1596.3,798.3 1596.9,798.0 1597.5,800.6 1598.1,798.2 1598.7,799.9 1599.3,800.4 1599.9,796.8 1600.5,798.0 1601.1,799.7 1601.7,801.1 1602.3,799.6 1602.9,799.8 1603.5,795.7 1604.1,797.2 1604.7,799.6 1605.3,797.7 1605.9,798.3 1606.5,798.7 1607.1,802.8 1607.7,795.9 1608.3,801.0 1608.9,800.5 1609.5,799.3 1610.1,796.5 1610.7,798.6 1611.3,797.1 1611.9,800.8 1612.5,798.5 1613.1,798.9 1613.7,796.1 1614.3,801.9 1614.9,793.0 1615.5,805.0 1616.1,795.5 1616.7,796.6 1617.3,796.9 1617.9,794.0 1618.5,800.9 1619.1,796.0 1619.7,795.4 1620.3,800.8 1620.9,799.4 1621.5,793.0 1622.1,793.9 1622.7,797.7 1623.3,798.2 1623.9,799.6 1624.6,797.5 1625.2,801.5 1625.8,801.1 1626.4,799.3 1627.0,798.2 1627.6,801.3 1628.2,802.1 1628.8,799.0 1629.4,798.1 1630.0,800.4 1630.6,796.8 1631.2,799.2 1631.8,800.4 1632.4,795.2 1633.0,796.1 1633.6,792.8 1634.2,796.6 1634.8,799.6 1635.4,796.9 1636.0,799.5 1636.6,798.3 1637.2,796.0 1637.8,802.0 1638.4,797.8 1639.0,801.1 1639.6,799.5 1640.2,798.2 1640.8,803.1 1641.4,797.3 1642.0,795.5 1642.6,804.1 1643.2,799.4 1643.8,796.3 1644.4,797.4 1645.0,794.8 1645.6,800.0 1646.2,801.6 1646.8,799.8 1647.4,800.4 1648.0,802.1 1648.6,798.9 1649.2,796.3 1649.8,796.5 1650.4,799.4 1651.0,799.0 1651.6,799.0 1652.2,795.1 1652.8,798.3 1653.4,802.4 1654.0,798.5 1654.6,801.7 1655.2,799.1 1655.8,797.5 1656.4,801.5 1657.0,802.9 1657.6,800.0 1658.2,801.7 1658.9,796.9 1659.5,794.8 1660.1,792.7 1660.7,797.8 1661.3,801.9 1661.9,795.9 1662.5,793.2 1663.1,797.2 1663.7,796.7 1664.3,796.3 1664.9,793.1 1665.5,800.1 1666.1,793.4 1666.7,794.0 1667.3,789.5 1667.9,795.2 1668.5,798.0 1669.1,795.4 1669.7,787.8 1670.3,792.9 1670.9,786.4 1671.5,788.1 1672.1,786.6 1672.7,789.2 1673.3,787.4 1673.9,783.8 1674.5,783.3 1675.1,787.1 1675.7,776.7 1676.3,778.6 1676.9,786.1 1677.5,778.8 1678.1,774.5 1678.7,778.5 1679.3,779.1 1679.9,772.3 1680.5,774.6 1681.1,772.9 1681.7,777.0 1682.3,775.5 1682.9,772.8 1683.5,778.1 1684.1,774.1 1684.7,783.1 1685.3,781.2 1685.9,777.0 1686.5,779.6 1687.1,783.4 1687.7,782.2 1688.3,777.8 1688.9,779.9 1689.5,780.2 1690.1,780.8 1690.7,775.6 1691.3,782.8 1691.9,790.4 1692.5,778.6 1693.1,776.9 1693.8,773.9 1694.4,774.5 1695.0,768.9 1695.6,768.7 1696.2,771.0 1696.8,762.1 1697.4,768.6 1698.0,777.9 1698.6,777.2 1699.2,777.4 1699.8,780.3 1700.4,774.0 1701.0,786.5 1701.6,785.5 1702.2,792.5 1702.8,791.5 1703.4,793.9 1704.0,788.6 1704.6,789.3 1705.2,800.8 1705.8,794.8 1706.4,794.8 1707.0,800.6 1707.6,798.6 1708.2,799.0 1708.8,802.4 1709.4,798.3 1710.0,796.9 1710.6,796.4 1711.2,791.6 1711.8,797.4 1712.4,797.4 1713.0,796.1 1713.6,804.9 1714.2,795.3 1714.8,796.8 1715.4,796.4 1716.0,796.7 1716.6,800.1 1717.2,797.0 1717.8,799.9 1718.4,805.5 1719.0,797.3 1719.6,796.5 1720.2,796.9 1720.8,802.1 1721.4,799.7 1722.0,799.6 1722.6,797.6 1723.2,797.1 1723.8,804.1 1724.4,803.5 1725.0,796.2 1725.6,796.0 1726.2,797.1 1726.8,797.2 1727.4,801.2 1728.1,802.7 1728.7,798.5 1729.3,796.1 1729.9,801.4 1730.5,802.9 1731.1,794.4 1731.7,799.5 1732.3,795.9 1732.9,795.9 1733.5,796.1 1734.1,802.6 1734.7,799.6 1735.3,796.7 1735.9,798.5 1736.5,799.7 1737.1,794.5 1737.7,800.5 1738.3,795.7 1738.9,796.4 1739.5,803.2 1740.1,789.3 1740.7,803.5 1741.3,801.8 1741.9,797.9 1742.5,802.0 1743.1,799.5 1743.7,797.1 1744.3,799.9 1744.9,797.4 1745.5,797.3 1746.1,796.3 1746.7,806.7 1747.3,802.1 1747.9,798.4 1748.5,794.7 1749.1,796.2 1749.7,795.1 1750.3,795.6 1750.9,798.2 1751.5,798.4 1752.1,803.6 1752.7,802.9 1753.3,794.7 1753.9,802.8 1754.5,795.7 1755.1,801.7 1755.7,799.2 1756.3,798.8 1756.9,799.5 1757.5,796.7 1758.1,795.2 1758.7,804.0 1759.3,794.4 1759.9,800.9 1760.5,796.0 1761.1,800.0 1761.7,798.6 1762.4,799.2 1763.0,796.4 1763.6,799.8 1764.2,804.1 1764.8,801.0 1765.4,802.6 1766.0,797.2 1766.6,797.9 1767.2,801.2 1767.8,794.2 1768.4,801.8 1769.0,798.7 1769.6,798.2 1770.2,803.2 1770.8,796.4 1771.4,803.0 1772.0,795.4 1772.6,795.2 1773.2,801.6 1773.8,802.0 1774.4,794.6 1775.0,799.1 1775.6,804.5 1776.2,798.9 1776.8,795.1 1777.4,797.8 1778.0,798.8 1778.6,798.2 1779.2,795.5 1779.8,797.0 1780.4,799.9 1781.0,800.6 1781.6,798.5 1782.2,800.1 1782.8,799.6 1783.4,794.4 1784.0,803.3 1784.6,802.9 1785.2,799.1 1785.8,798.4 1786.4,799.1 1787.0,799.6 1787.6,801.2 1788.2,801.7 1788.8,798.1 1789.4,795.9 1790.0,795.8 1790.6,803.5 1791.2,798.2 1791.8,795.4 1792.4,792.1 1793.0,800.5 1793.6,798.4 1794.2,798.6 1794.8,795.1 1795.4,796.6 1796.0,796.3 1796.7,798.3 1797.3,803.7 1797.9,796.5 1798.5,794.7 1799.1,800.8 1799.7,800.5 1800.3,796.8 1800.9,798.4 1801.5,795.9 1802.1,803.6 1802.7,799.5 1803.3,793.8 1803.9,800.9 1804.5,801.2 1805.1,794.0 1805.7,798.3 1806.3,798.3 1806.9,793.6 1807.5,793.0 1808.1,806.7 1808.7,795.2 1809.3,800.1 1809.9,800.5 1810.5,801.5 1811.1,801.1 1811.7,798.8 1812.3,796.1 1812.9,794.9 1813.5,799.9 1814.1,795.8 1814.7,801.4 1815.3,797.9 1815.9,802.2 1816.5,793.8 1817.1,803.5 1817.7,797.5 1818.3,799.9 1818.9,794.6 1819.5,800.5 1820.1,799.2 1820.7,801.8 1821.3,800.5 1821.9,804.7 1822.5,794.0 1823.1,797.3 1823.7,794.6 1824.3,798.3 1824.9,801.4 1825.5,801.3 1826.1,796.7 1826.7,794.2 1827.3,798.5 1827.9,800.3 1828.5,794.2 1829.1,798.8 1829.7,796.2 1830.3,799.8 1831.0,796.5 1831.6,801.7 1832.2,796.9 1832.8,798.9 1833.4,808.0 1834.0,786.5 1834.6,797.8 1835.2,798.2 1835.8,799.8 1836.4,800.0 1837.0,799.2 1837.6,796.7 1838.2,798.1 1838.8,800.3 1839.4,794.2 1840.0,801.6 1840.6,798.4 1841.2,802.4 1841.8,797.6 1842.4,800.1 1843.0,798.0 1843.6,801.4 1844.2,802.1 1844.8,796.1 1845.4,800.9 1846.0,798.4 1846.6,800.7 1847.2,796.4 1847.8,797.4 1848.4,800.1 1849.0,801.4 1849.6,799.3 1850.2,800.0 1850.8,797.5 1851.4,801.6 1852.0,798.6 1852.6,796.0 1853.2,803.4 1853.8,795.2 1854.4,802.6 1855.0,799.5 1855.6,800.4 1856.2,805.6 1856.8,797.3 1857.4,796.1 1858.0,795.1 1858.6,798.9 1859.2,802.3 1859.8,798.4 1860.4,798.9 1861.0,799.5 1861.6,798.1 1862.2,799.5 1862.8,795.2 1863.4,792.6 1864.0,796.5 1864.6,797.1 1865.3,802.0 1865.9,799.7 1866.5,793.6 1867.1,802.5 1867.7,801.3 1868.3,796.9 1868.9,804.7 1869.5,799.4 1870.1,796.8 1870.7,798.1 1871.3,801.1 1871.9,799.7 1872.5,795.5 1873.1,803.6 1873.7,798.5 1874.3,796.7 1874.9,798.3 1875.5,799.5 1876.1,803.7 1876.7,803.1 1877.3,793.8 1877.9,798.0 1878.5,799.0 1879.1,799.6 1879.7,801.7 1880.3,800.9 1880.9,795.7 1881.5,803.9 1882.1,802.4 1882.7,793.7 1883.3,802.0 1883.9,799.7 1884.5,794.9 1885.1,799.2 1885.7,800.7 1886.3,799.5 1886.9,796.7 1887.5,798.4 1888.1,798.0 1888.7,797.5 1889.3,800.4 1889.9,796.1 1890.5,799.5 1891.1,800.3 1891.7,803.3 1892.3,800.4 1892.9,798.0 1893.5,797.7 1894.1,797.1 1894.7,803.7 1895.3,797.6 1895.9,796.4 1896.5,797.7 1897.1,801.2 1897.7,801.7 1898.3,794.5 1898.9,802.1 1899.6,798.8 1900.2,804.2 1900.8,803.4 1901.4,797.2 1902.0,796.3 1902.6,796.2 1903.2,797.9 1903.8,800.1 1904.4,800.1 1905.0,801.2 1905.6,801.0 1906.2,798.3 1906.8,799.0 1907.4,800.3 1908.0,802.5 1908.6,798.4 1909.2,797.1 1909.8,801.2 1910.4,799.8 1911.0,800.5 1911.6,798.7 1912.2,800.3 1912.8,797.8 1913.4,796.7 1914.0,799.4 1914.6,794.6 1915.2,800.5 1915.8,804.6 1916.4,795.7 1917.0,796.5 1917.6,800.2 1918.2,796.6 1918.8,800.1 1919.4,798.2 1920.0,797.4 1920.6,801.0 1921.2,797.0 1921.8,797.1 1922.4,794.7 1923.0,800.2 1923.6,798.2 1924.2,797.0 1924.8,800.8 1925.4,798.2 1926.0,801.8 1926.6,801.0 1927.2,797.4 1927.8,796.8 1928.4,802.7 1929.0,798.5 1929.6,796.9 1930.2,798.4 1930.8,793.9 1931.4,799.3 1932.0,792.5 1932.6,800.4 1933.2,796.9 1933.9,799.2 1934.5,803.4 1935.1,802.2 1935.7,797.8 1936.3,799.9 1936.9,795.5 1937.5,799.8 1938.1,802.5 1938.7,801.4 1939.3,801.9 1939.9,800.0 1940.5,795.6 1941.1,798.9 1941.7,795.8 1942.3,801.6 1942.9,798.2 1943.5,797.5 1944.1,795.9 1944.7,799.6 1945.3,800.4 1945.9,800.0 1946.5,794.2 1947.1,800.3 1947.7,796.4 1948.3,792.2 1948.9,800.8 1949.5,799.5 1950.1,794.1 1950.7,801.5 1951.3,800.3 1951.9,803.9 1952.5,800.3 1953.1,799.3 1953.7,794.0 1954.3,805.0 1954.9,794.6 1955.5,797.7 1956.1,800.8 1956.7,797.4 1957.3,790.5 1957.9,797.7 1958.5,797.3 1959.1,801.7 1959.7,798.3 1960.3,802.9 1960.9,801.5 1961.5,801.8 1962.1,800.6 1962.7,805.4 1963.3,801.8 1963.9,801.7 1964.5,798.7 1965.1,797.6 1965.7,794.8 1966.3,792.9 1966.9,795.2 1967.5,801.1 1968.1,796.5 1968.8,798.1 1969.4,797.4 1970.0,798.8 1970.6,800.2 1971.2,803.4 1971.8,795.1 1972.4,805.0 1973.0,798.3 1973.6,796.8 1974.2,797.6 1974.8,802.7 1975.4,800.9 1976.0,802.8 1976.6,797.6 1977.2,803.0 1977.8,798.5 1978.4,800.4 1979.0,797.0 1979.6,798.0 1980.2,797.2 1980.8,801.8 1981.4,801.4 1982.0,789.4 1982.6,799.4 1983.2,799.3 1983.8,795.2 1984.4,795.5 1985.0,802.3 1985.6,798.0 1986.2,801.5 1986.8,801.3 1987.4,791.5 1988.0,803.0 1988.6,794.9 1989.2,797.2 1989.8,798.4 1990.4,800.2 1991.0,800.2 1991.6,798.0 1992.2,798.3 1992.8,800.2 1993.4,801.6 1994.0,797.8 1994.6,800.5 1995.2,800.3 1995.8,797.0 1996.4,797.9 1997.0,798.5 1997.6,805.7 1998.2,799.9 1998.8,801.4 1999.4,801.4 2000.0,797.2 2000.6,800.4 2001.2,794.4 2001.8,795.1 2002.4,800.4 2003.1,797.8 2003.7,799.9 2004.3,801.0 2004.9,805.2 2005.5,798.8 2006.1,799.4 2006.7,792.6 2007.3,803.1 2007.9,799.1 2008.5,797.5 2009.1,801.9 2009.7,799.3 2010.3,797.1 2010.9,796.7 2011.5,801.2 2012.1,802.1 2012.7,799.3 2013.3,798.9 2013.9,805.7 2014.5,798.2 2015.1,796.4 2015.7,801.3 2016.3,797.5 2016.9,795.3 2017.5,800.2 2018.1,798.2 2018.7,804.7 2019.3,800.7 2019.9,802.6 2020.5,803.4 2021.1,801.5 2021.7,802.7 2022.3,796.3 2022.9,796.9 2023.5,799.2 2024.1,802.6 2024.7,801.2 2025.3,801.7 2025.9,802.5 2026.5,799.2 2027.1,797.5 2027.7,797.3 2028.3,803.9 2028.9,794.8 2029.5,795.5 2030.1,800.6 2030.7,796.5 2031.3,801.1 2031.9,797.0 2032.5,799.2 2033.1,796.7 2033.7,800.9 2034.3,800.5 2034.9,803.9 2035.5,801.3 2036.1,801.1 2036.7,797.0 2037.4,798.5 2038.0,797.7 2038.6,794.2 2039.2,795.2 2039.8,798.7 2040.4,800.1 2041.0,804.2 2041.6,797.0 2042.2,795.0 2042.8,801.3 2043.4,798.1 2044.0,796.8 2044.6,797.8 2045.2,792.4 2045.8,798.9 2046.4,799.7 2047.0,799.1 2047.6,797.5 2048.2,798.6 2048.8,802.3 2049.4,796.6 2050.0,805.3 2050.6,799.2 2051.2,800.1 2051.8,807.7 2052.4,800.2 2053.0,798.3 2053.6,800.2 2054.2,795.7 2054.8,803.4 2055.4,799.8 2056.0,799.4 2056.6,797.3 2057.2,800.4 2057.8,801.9 2058.4,791.4 2059.0,795.0 2059.6,800.9 2060.2,797.7 2060.8,798.9 2061.4,795.6 2062.0,795.9 2062.6,802.7 2063.2,800.4 2063.8,800.9 2064.4,790.2 2065.0,799.7 2065.6,800.2 2066.2,800.5 2066.8,797.2 2067.4,802.0 2068.0,802.5 2068.6,799.1 2069.2,791.7 2069.8,798.9 2070.4,799.8 2071.0,801.2 2071.7,797.8 2072.3,801.0 2072.9,798.6 2073.5,799.1 2074.1,798.7 2074.7,800.9 2075.3,802.9 2075.9,802.0 2076.5,796.3 2077.1,801.5 2077.7,798.3 2078.3,800.2 2078.9,791.4 2079.5,801.6 2080.1,798.3 2080.7,798.3 2081.3,799.6 2081.9,795.8 2082.5,796.6 2083.1,791.5 2083.7,800.3 2084.3,797.6 2084.9,799.7 2085.5,800.4 2086.1,797.7 2086.7,801.1 2087.3,792.9 2087.9,798.1 2088.5,800.2"/>
<polyline fill="none" stroke="#c378e4" stroke-width="4.6" stroke-linejoin="round" stroke-linecap="butt" points="163.5,596.6 164.1,602.6 164.7,602.0 165.3,594.2 165.9,595.1 166.5,594.1 167.1,599.0 167.7,596.2 168.3,599.8 168.9,588.2 169.5,603.5 170.1,596.0 170.7,599.5 171.3,595.9 171.9,594.8 172.5,598.6 173.1,600.2 173.7,595.6 174.3,595.8 174.9,599.6 175.5,592.6 176.1,589.7 176.7,598.3 177.3,593.5 177.9,587.9 178.5,592.8 179.1,594.4 179.7,591.1 180.3,589.8 181.0,596.6 181.6,600.5 182.2,595.4 182.8,593.2 183.4,598.2 184.0,599.7 184.6,595.1 185.2,598.9 185.8,601.1 186.4,595.6 187.0,592.8 187.6,598.0 188.2,597.6 188.8,601.4 189.4,590.8 190.0,593.5 190.6,592.7 191.2,588.8 191.8,597.0 192.4,598.8 193.0,593.2 193.6,602.6 194.2,600.1 194.8,599.3 195.4,598.3 196.0,600.7 196.6,590.6 197.2,599.2 197.8,599.2 198.4,588.6 199.0,598.0 199.6,595.4 200.2,599.9 200.8,594.5 201.4,596.4 202.0,598.0 202.6,592.6 203.2,599.1 203.8,596.0 204.4,598.7 205.0,594.2 205.6,601.3 206.2,599.2 206.8,595.7 207.4,599.3 208.0,602.0 208.6,604.4 209.2,589.5 209.8,600.4 210.4,598.5 211.0,596.1 211.6,592.0 212.2,602.0 212.8,590.9 213.4,599.0 214.0,602.2 214.6,589.4 215.3,595.1 215.9,590.7 216.5,597.6 217.1,603.1 217.7,605.4 218.3,588.7 218.9,593.9 219.5,599.6 220.1,603.4 220.7,598.3 221.3,593.2 221.9,597.8 222.5,596.4 223.1,595.6 223.7,593.3 224.3,598.2 224.9,597.8 225.5,596.1 226.1,595.5 226.7,590.8 227.3,594.3 227.9,601.8 228.5,595.6 229.1,590.2 229.7,602.3 230.3,598.8 230.9,605.7 231.5,596.7 232.1,594.5 232.7,590.2 233.3,602.3 233.9,607.7 234.5,592.9 235.1,593.7 235.7,599.1 236.3,592.9 236.9,595.3 237.5,595.0 238.1,597.3 238.7,601.2 239.3,596.6 239.9,600.5 240.5,594.6 241.1,597.9 241.7,587.2 242.3,590.2 242.9,599.9 243.5,593.9 244.1,599.0 244.7,598.8 245.3,602.2 245.9,600.0 246.5,600.9 247.1,596.0 247.7,593.4 248.3,593.3 248.9,594.4 249.6,591.6 250.2,594.1 250.8,596.1 251.4,597.6 252.0,595.0 252.6,588.1 253.2,596.2 253.8,597.4 254.4,601.2 255.0,599.0 255.6,593.7 256.2,593.3 256.8,605.2 257.4,599.7 258.0,604.4 258.6,605.7 259.2,592.9 259.8,598.1 260.4,598.4 261.0,598.9 261.6,600.2 262.2,597.3 262.8,597.2 263.4,590.0 264.0,595.8 264.6,593.3 265.2,597.0 265.8,593.3 266.4,599.1 267.0,600.0 267.6,598.6 268.2,597.8 268.8,596.9 269.4,594.5 270.0,595.8 270.6,594.3 271.2,598.1 271.8,596.5 272.4,599.0 273.0,590.8 273.6,600.3 274.2,593.2 274.8,593.3 275.4,595.6 276.0,594.1 276.6,597.7 277.2,594.0 277.8,591.9 278.4,592.9 279.0,602.1 279.6,596.7 280.2,591.5 280.8,596.5 281.4,589.8 282.0,604.1 282.6,590.0 283.2,598.5 283.9,598.8 284.5,590.3 285.1,598.5 285.7,600.7 286.3,598.5 286.9,597.6 287.5,600.5 288.1,597.2 288.7,597.9 289.3,595.9 289.9,599.2 290.5,592.5 291.1,599.8 291.7,594.3 292.3,591.8 292.9,598.0 293.5,603.7 294.1,600.6 294.7,594.3 295.3,599.4 295.9,594.5 296.5,595.9 297.1,596.8 297.7,586.6 298.3,597.3 298.9,592.1 299.5,593.5 300.1,590.2 300.7,590.0 301.3,592.5 301.9,602.1 302.5,603.5 303.1,596.4 303.7,601.1 304.3,595.4 304.9,588.4 305.5,597.1 306.1,598.4 306.7,594.7 307.3,597.7 307.9,598.9 308.5,592.8 309.1,590.2 309.7,595.5 310.3,595.6 310.9,595.0 311.5,600.6 312.1,603.7 312.7,594.7 313.3,599.4 313.9,600.4 314.5,599.5 315.1,600.9 315.7,594.8 316.3,599.6 316.9,605.0 317.5,599.8 318.1,593.9 318.8,599.0 319.4,601.8 320.0,598.0 320.6,594.1 321.2,602.9 321.8,591.2 322.4,598.6 323.0,596.4 323.6,591.5 324.2,601.6 324.8,597.9 325.4,591.6 326.0,599.0 326.6,594.7 327.2,588.5 327.8,593.6 328.4,597.6 329.0,599.1 329.6,597.2 330.2,596.7 330.8,598.4 331.4,595.6 332.0,601.4 332.6,597.1 333.2,597.7 333.8,598.7 334.4,592.0 335.0,593.5 335.6,602.8 336.2,597.9 336.8,595.3 337.4,597.9 338.0,594.5 338.6,597.6 339.2,593.7 339.8,597.6 340.4,589.9 341.0,602.0 341.6,594.3 342.2,589.9 342.8,595.5 343.4,594.9 344.0,597.1 344.6,591.7 345.2,598.1 345.8,611.5 346.4,591.1 347.0,597.9 347.6,595.2 348.2,597.3 348.8,588.9 349.4,591.7 350.0,598.4 350.6,596.3 351.2,603.2 351.8,593.5 352.4,597.2 353.1,608.5 353.7,591.4 354.3,592.7 354.9,596.3 355.5,596.3 356.1,600.0 356.7,597.0 357.3,593.3 357.9,597.3 358.5,607.4 359.1,601.7 359.7,585.0 360.3,595.9 360.9,592.8 361.5,599.0 362.1,595.7 362.7,604.4 363.3,600.3 363.9,600.1 364.5,597.2 365.1,596.3 365.7,597.9 366.3,601.8 366.9,598.7 367.5,595.0 368.1,601.7 368.7,597.3 369.3,596.1 369.9,593.2 370.5,594.1 371.1,593.8 371.7,585.0 372.3,600.6 372.9,598.8 373.5,595.6 374.1,600.8 374.7,598.3 375.3,598.0 375.9,586.3 376.5,595.5 377.1,598.6 377.7,603.1 378.3,604.0 378.9,602.3 379.5,591.7 380.1,587.4 380.7,598.8 381.3,596.6 381.9,600.4 382.5,595.9 383.1,597.4 383.7,590.3 384.3,598.3 384.9,594.6 385.5,597.9 386.1,598.3 386.7,596.0 387.4,597.8 388.0,596.4 388.6,599.6 389.2,598.5 389.8,594.2 390.4,594.1 391.0,603.6 391.6,596.0 392.2,600.5 392.8,599.0 393.4,594.2 394.0,593.4 394.6,596.9 395.2,597.5 395.8,599.0 396.4,591.3 397.0,594.0 397.6,596.1 398.2,603.0 398.8,586.8 399.4,598.2 400.0,594.3 400.6,598.2 401.2,594.4 401.8,597.9 402.4,602.8 403.0,597.9 403.6,598.2 404.2,598.0 404.8,593.4 405.4,598.7 406.0,595.6 406.6,593.2 407.2,596.3 407.8,595.5 408.4,599.5 409.0,596.3 409.6,594.3 410.2,602.4 410.8,600.5 411.4,601.6 412.0,598.9 412.6,596.0 413.2,594.8 413.8,595.3 414.4,600.3 415.0,596.9 415.6,590.4 416.2,596.3 416.8,590.7 417.4,597.1 418.0,591.6 418.6,591.3 419.2,596.9 419.8,596.1 420.4,589.7 421.0,599.5 421.7,605.2 422.3,590.5 422.9,603.8 423.5,593.7 424.1,594.5 424.7,595.7 425.3,590.6 425.9,601.7 426.5,598.4 427.1,593.4 427.7,595.3 428.3,590.3 428.9,595.0 429.5,600.2 430.1,589.5 430.7,594.7 431.3,597.0 431.9,603.2 432.5,601.9 433.1,594.6 433.7,593.5 434.3,598.3 434.9,595.0 435.5,595.2 436.1,600.8 436.7,603.2 437.3,597.5 437.9,595.7 438.5,598.7 439.1,588.9 439.7,596.4 440.3,592.2 440.9,606.0 441.5,599.3 442.1,597.0 442.7,595.7 443.3,586.4 443.9,599.3 444.5,603.0 445.1,593.5 445.7,599.2 446.3,599.3 446.9,590.2 447.5,600.2 448.1,601.9 448.7,597.4 449.3,596.2 449.9,599.6 450.5,590.3 451.1,596.8 451.7,600.7 452.3,591.5 452.9,600.4 453.5,594.8 454.1,588.1 454.7,596.0 455.3,592.6 456.0,597.7 456.6,591.8 457.2,600.6 457.8,593.5 458.4,597.9 459.0,594.1 459.6,595.1 460.2,601.2 460.8,597.3 461.4,594.9 462.0,591.4 462.6,601.1 463.2,599.4 463.8,595.1 464.4,597.4 465.0,592.3 465.6,592.4 466.2,593.1 466.8,597.8 467.4,597.6 468.0,593.5 468.6,599.4 469.2,599.6 469.8,597.1 470.4,600.6 471.0,595.3 471.6,596.0 472.2,598.3 472.8,596.3 473.4,599.6 474.0,591.5 474.6,602.1 475.2,593.3 475.8,595.8 476.4,591.0 477.0,598.8 477.6,601.5 478.2,600.7 478.8,599.7 479.4,590.3 480.0,593.3 480.6,594.6 481.2,592.7 481.8,600.9 482.4,597.2 483.0,596.3 483.6,598.4 484.2,592.7 484.8,592.8 485.4,592.9 486.0,598.4 486.6,597.8 487.2,598.7 487.8,600.7 488.4,591.1 489.0,594.2 489.6,597.0 490.3,591.1 490.9,594.3 491.5,600.4 492.1,600.8 492.7,600.7 493.3,596.6 493.9,595.6 494.5,600.7 495.1,594.9 495.7,597.8 496.3,601.6 496.9,595.0 497.5,594.0 498.1,596.4 498.7,600.2 499.3,598.3 499.9,597.0 500.5,598.6 501.1,590.1 501.7,593.0 502.3,597.1 502.9,592.8 503.5,591.1 504.1,591.7 504.7,592.8 505.3,595.7 505.9,592.4 506.5,597.9 507.1,603.1 507.7,595.8 508.3,601.4 508.9,597.5 509.5,592.0 510.1,595.4 510.7,592.6 511.3,599.4 511.9,591.9 512.5,601.6 513.1,598.7 513.7,588.5 514.3,601.3 514.9,602.5 515.5,593.3 516.1,600.3 516.7,589.4 517.3,597.4 517.9,589.9 518.5,598.3 519.1,589.4 519.7,586.1 520.3,598.0 520.9,605.4 521.5,594.1 522.1,601.6 522.7,596.8 523.3,595.1 523.9,598.8 524.6,602.8 525.2,591.6 525.8,598.6 526.4,597.7 527.0,590.8 527.6,602.7 528.2,604.0 528.8,592.7 529.4,603.2 530.0,596.6 530.6,595.8 531.2,602.3 531.8,597.3 532.4,597.7 533.0,602.3 533.6,601.4 534.2,599.9 534.8,590.9 535.4,590.3 536.0,600.8 536.6,592.8 537.2,597.0 537.8,589.7 538.4,595.7 539.0,591.4 539.6,602.7 540.2,592.4 540.8,595.9 541.4,595.7 542.0,601.1 542.6,590.9 543.2,596.3 543.8,595.6 544.4,598.4 545.0,598.2 545.6,594.6 546.2,597.3 546.8,594.9 547.4,598.2 548.0,596.0 548.6,593.8 549.2,596.3 549.8,597.8 550.4,605.2 551.0,594.5 551.6,597.6 552.2,602.1 552.8,588.3 553.4,589.6 554.0,591.8 554.6,595.9 555.2,611.5 555.8,597.9 556.4,601.1 557.0,595.5 557.6,586.8 558.2,587.4 558.9,600.3 559.5,597.1 560.1,591.3 560.7,600.7 561.3,590.4 561.9,600.8 562.5,602.0 563.1,593.4 563.7,592.1 564.3,599.6 564.9,592.1 565.5,599.7 566.1,591.7 566.7,599.5 567.3,596.7 567.9,594.7 568.5,592.9 569.1,597.3 569.7,589.0 570.3,595.3 570.9,594.8 571.5,599.0 572.1,591.5 572.7,603.0 573.3,595.2 573.9,592.0 574.5,601.7 575.1,602.8 575.7,595.6 576.3,592.9 576.9,596.4 577.5,593.7 578.1,595.1 578.7,602.4 579.3,597.9 579.9,596.9 580.5,597.7 581.1,596.1 581.7,599.6 582.3,599.7 582.9,594.9 583.5,596.7 584.1,605.6 584.7,598.0 585.3,595.6 585.9,604.2 586.5,596.4 587.1,592.1 587.7,598.9 588.3,592.9 588.9,594.4 589.5,597.6 590.1,595.8 590.7,593.4 591.3,594.2 591.9,594.0 592.5,600.8 593.1,593.6 593.8,594.1 594.4,604.2 595.0,594.2 595.6,602.0 596.2,601.4 596.8,595.7 597.4,590.9 598.0,598.1 598.6,598.9 599.2,600.0 599.8,596.6 600.4,600.9 601.0,601.6 601.6,592.3 602.2,601.8 602.8,597.0 603.4,594.1 604.0,595.1 604.6,603.5 605.2,600.1 605.8,589.4 606.4,596.6 607.0,595.8 607.6,595.6 608.2,594.3 608.8,590.7 609.4,601.6 610.0,592.7 610.6,594.9 611.2,594.0 611.8,593.5 612.4,599.1 613.0,597.8 613.6,593.7 614.2,592.7 614.8,594.5 615.4,600.0 616.0,596.8 616.6,597.2 617.2,595.0 617.8,595.3 618.4,597.1 619.0,589.2 619.6,602.4 620.2,593.3 620.8,594.1 621.4,601.4 622.0,597.1 622.6,596.4 623.2,594.0 623.8,590.3 624.4,597.0 625.0,600.8 625.6,592.8 626.2,601.5 626.8,591.9 627.4,593.4 628.1,598.2 628.7,596.2 629.3,598.9 629.9,593.4 630.5,592.3 631.1,589.1 631.7,591.6 632.3,592.1 632.9,590.8 633.5,597.4 634.1,593.7 634.7,588.6 635.3,605.7 635.9,593.0 636.5,591.4 637.1,600.9 637.7,600.7 638.3,591.8 638.9,590.6 639.5,592.4 640.1,600.5 640.7,595.0 641.3,593.1 641.9,596.1 642.5,600.8 643.1,590.9 643.7,594.7 644.3,590.9 644.9,604.5 645.5,603.1 646.1,599.8 646.7,595.7 647.3,598.7 647.9,588.2 648.5,597.2 649.1,591.1 649.7,591.1 650.3,593.5 650.9,594.8 651.5,598.3 652.1,598.8 652.7,597.1 653.3,592.6 653.9,598.7 654.5,595.7 655.1,600.6 655.7,592.6 656.3,585.6 656.9,594.3 657.5,604.3 658.1,597.9 658.7,595.4 659.3,599.5 659.9,598.0 660.5,597.9 661.1,594.1 661.7,596.4 662.4,596.9 663.0,593.6 663.6,591.8 664.2,596.6 664.8,599.8 665.4,598.5 666.0,597.9 666.6,598.0 667.2,605.9 667.8,597.0 668.4,600.0 669.0,603.5 669.6,596.2 670.2,597.0 670.8,600.0 671.4,602.4 672.0,597.2 672.6,597.4 673.2,596.4 673.8,591.4 674.4,600.2 675.0,595.0 675.6,589.5 676.2,595.4 676.8,589.4 677.4,592.2 678.0,596.0 678.6,592.5 679.2,600.0 679.8,590.4 680.4,597.0 681.0,598.1 681.6,601.5 682.2,599.4 682.8,596.8 683.4,596.2 684.0,595.7 684.6,600.2 685.2,593.4 685.8,597.9 686.4,595.5 687.0,596.8 687.6,594.3 688.2,604.0 688.8,593.4 689.4,596.8 690.0,596.9 690.6,598.2 691.2,597.6 691.8,597.4 692.4,599.6 693.0,590.1 693.6,595.8 694.2,591.1 694.8,596.7 695.4,591.3 696.0,592.1 696.7,595.5 697.3,601.1 697.9,597.9 698.5,596.8 699.1,601.0 699.7,592.1 700.3,587.7 700.9,594.1 701.5,594.6 702.1,600.3 702.7,603.8 703.3,590.6 703.9,605.0 704.5,601.5 705.1,598.8 705.7,597.0 706.3,604.8 706.9,595.8 707.5,593.7 708.1,596.0 708.7,590.3 709.3,597.3 709.9,595.0 710.5,596.7 711.1,596.8 711.7,591.3 712.3,600.4 712.9,591.5 713.5,598.7 714.1,589.2 714.7,596.7 715.3,592.1 715.9,595.4 716.5,592.7 717.1,586.8 717.7,590.9 718.3,595.4 718.9,597.5 719.5,589.4 720.1,586.9 720.7,591.6 721.3,594.1 721.9,592.5 722.5,591.8 723.1,598.1 723.7,598.5 724.3,597.6 724.9,591.1 725.5,595.0 726.1,593.9 726.7,589.1 727.3,597.9 727.9,594.8 728.5,592.6 729.1,599.8 729.7,597.3 730.3,597.6 731.0,598.8 731.6,596.9 732.2,589.1 732.8,592.5 733.4,597.8 734.0,590.8 734.6,593.8 735.2,595.1 735.8,599.1 736.4,598.4 737.0,596.7 737.6,592.4 738.2,598.7 738.8,594.8 739.4,592.0 740.0,597.7 740.6,594.2 741.2,589.0 741.8,596.8 742.4,590.5 743.0,593.6 743.6,584.9 744.2,590.5 744.8,586.5 745.4,586.0 746.0,581.8 746.6,597.6 747.2,587.9 747.8,589.0 748.4,592.0 749.0,586.4 749.6,588.4 750.2,580.1 750.8,585.7 751.4,582.5 752.0,585.5 752.6,583.3 753.2,575.9 753.8,573.0 754.4,575.5 755.0,581.9 755.6,579.6 756.2,578.4 756.8,567.0 757.4,556.0 758.0,570.6 758.6,570.7 759.2,568.3 759.8,571.2 760.4,567.7 761.0,562.0 761.6,562.1 762.2,565.4 762.8,563.9 763.4,562.1 764.0,571.5 764.6,559.2 765.3,559.9 765.9,554.0 766.5,556.1 767.1,559.5 767.7,559.1 768.3,555.5 768.9,557.7 769.5,556.0 770.1,547.3 770.7,541.3 771.3,566.9 771.9,560.8 772.5,557.6 773.1,551.0 773.7,554.2 774.3,567.1 774.9,550.0 775.5,562.2 776.1,568.8 776.7,567.1 777.3,571.1 777.9,568.7 778.5,587.2 779.1,567.7 779.7,567.6 780.3,575.9 780.9,582.1 781.5,576.9 782.1,582.9 782.7,577.4 783.3,575.7 783.9,587.4 784.5,589.1 785.1,589.8 785.7,582.5 786.3,580.3 786.9,581.0 787.5,585.5 788.1,589.3 788.7,589.6 789.3,582.3 789.9,589.2 790.5,588.9 791.1,589.6 791.7,589.4 792.3,589.0 792.9,592.4 793.5,590.8 794.1,591.4 794.7,587.9 795.3,592.3 795.9,590.4 796.5,582.7 797.1,594.1 797.7,590.1 798.3,594.7 798.9,590.5 799.6,590.8 800.2,591.9 800.8,591.0 801.4,589.3 802.0,583.9 802.6,598.1 803.2,584.5 803.8,589.3 804.4,593.0 805.0,591.8 805.6,592.3 806.2,592.9 806.8,594.6 807.4,590.5 808.0,600.5 808.6,584.6 809.2,589.1 809.8,586.3 810.4,585.0 811.0,587.7 811.6,595.2 812.2,582.1 812.8,581.1 813.4,585.7 814.0,583.5 814.6,587.3 815.2,580.7 815.8,573.4 816.4,565.3 817.0,559.6 817.6,546.7 818.2,526.2 818.8,513.6 819.4,489.6 820.0,463.0 820.6,434.2 821.2,419.5 821.8,393.1 822.4,382.9 823.0,373.0 823.6,377.5 824.2,392.8 824.8,407.0 825.4,418.6 826.0,428.4 826.6,431.0 827.2,407.7 827.8,376.1 828.4,358.9 829.0,342.9 829.6,342.1 830.2,339.0 830.8,355.2 831.4,375.4 832.0,390.4 832.6,402.9 833.2,428.9 833.9,453.7 834.5,475.2 835.1,495.0 835.7,506.2 836.3,514.6 836.9,539.6 837.5,544.4 838.1,553.1 838.7,559.4 839.3,559.0 839.9,566.6 840.5,572.5 841.1,578.6 841.7,576.8 842.3,565.4 842.9,578.9 843.5,582.6 844.1,587.5 844.7,586.1 845.3,594.1 845.9,590.5 846.5,590.9 847.1,589.8 847.7,581.1 848.3,590.4 848.9,589.9 849.5,584.6 850.1,590.6 850.7,590.2 851.3,587.0 851.9,588.7 852.5,588.4 853.1,590.5 853.7,588.1 854.3,592.1 854.9,582.7 855.5,589.2 856.1,583.9 856.7,588.6 857.3,592.6 857.9,590.7 858.5,590.3 859.1,591.0 859.7,596.8 860.3,583.9 860.9,594.2 861.5,584.8 862.1,588.8 862.7,591.2 863.3,587.2 863.9,591.1 864.5,593.1 865.1,585.4 865.7,589.6 866.3,588.3 866.9,582.0 867.5,588.6 868.1,585.9 868.8,594.0 869.4,585.1 870.0,594.9 870.6,585.8 871.2,595.2 871.8,589.3 872.4,588.5 873.0,589.5 873.6,589.5 874.2,591.1 874.8,596.1 875.4,583.1 876.0,579.0 876.6,572.7 877.2,581.4 877.8,585.5 878.4,583.3 879.0,581.7 879.6,579.2 880.2,577.3 880.8,578.1 881.4,580.2 882.0,570.6 882.6,580.1 883.2,570.3 883.8,574.9 884.4,572.1 885.0,572.3 885.6,568.5 886.2,567.1 886.8,570.0 887.4,565.3 888.0,579.3 888.6,565.9 889.2,563.7 889.8,563.0 890.4,559.5 891.0,552.2 891.6,560.5 892.2,561.6 892.8,552.4 893.4,557.7 894.0,551.1 894.6,555.1 895.2,555.7 895.8,555.2 896.4,554.1 897.0,548.4 897.6,554.9 898.2,548.7 898.8,552.2 899.4,554.0 900.0,550.0 900.6,546.3 901.2,555.6 901.8,549.1 902.4,551.3 903.1,551.8 903.7,561.8 904.3,559.1 904.9,551.7 905.5,566.3 906.1,573.8 906.7,574.3 907.3,566.0 907.9,570.4 908.5,573.9 909.1,577.1 909.7,575.1 910.3,571.9 910.9,580.9 911.5,581.7 912.1,575.1 912.7,580.2 913.3,583.8 913.9,583.8 914.5,586.8 915.1,588.8 915.7,588.6 916.3,586.8 916.9,582.6 917.5,590.9 918.1,594.5 918.7,597.2 919.3,590.0 919.9,590.4 920.5,596.4 921.1,596.7 921.7,592.8 922.3,594.5 922.9,589.2 923.5,594.5 924.1,589.4 924.7,592.2 925.3,592.4 925.9,591.3 926.5,585.3 927.1,590.2 927.7,594.7 928.3,593.3 928.9,592.2 929.5,595.3 930.1,596.4 930.7,597.0 931.3,589.1 931.9,594.1 932.5,592.8 933.1,590.9 933.7,588.7 934.3,593.9 934.9,591.1 935.5,602.3 936.1,594.0 936.7,593.6 937.4,593.0 938.0,601.4 938.6,591.1 939.2,594.0 939.8,591.8 940.4,594.2 941.0,594.6 941.6,598.8 942.2,589.6 942.8,594.7 943.4,600.7 944.0,593.0 944.6,594.2 945.2,591.7 945.8,585.4 946.4,594.6 947.0,599.3 947.6,593.3 948.2,588.3 948.8,596.0 949.4,595.3 950.0,598.7 950.6,598.4 951.2,594.1 951.8,596.6 952.4,588.6 953.0,599.2 953.6,595.8 954.2,599.1 954.8,599.0 955.4,594.1 956.0,594.7 956.6,592.0 957.2,587.7 957.8,594.8 958.4,595.8 959.0,591.3 959.6,597.8 960.2,595.6 960.8,596.9 961.4,592.5 962.0,588.9 962.6,598.1 963.2,597.5 963.8,594.9 964.4,593.8 965.0,594.3 965.6,594.8 966.2,593.5 966.8,588.0 967.4,598.1 968.0,589.9 968.6,594.1 969.2,594.2 969.8,596.3 970.4,589.5 971.0,599.7 971.7,597.7 972.3,598.1 972.9,599.9 973.5,592.4 974.1,584.0 974.7,596.5 975.3,600.0 975.9,599.5 976.5,593.4 977.1,595.0 977.7,596.3 978.3,588.8 978.9,592.9 979.5,593.0 980.1,601.0 980.7,592.9 981.3,600.9 981.9,595.3 982.5,589.2 983.1,603.2 983.7,591.7 984.3,597.4 984.9,601.3 985.5,593.2 986.1,590.6 986.7,601.1 987.3,595.2 987.9,590.5 988.5,591.0 989.1,593.5 989.7,598.3 990.3,593.7 990.9,597.1 991.5,600.6 992.1,599.2 992.7,599.7 993.3,598.8 993.9,588.3 994.5,598.6 995.1,595.2 995.7,593.4 996.3,589.7 996.9,587.6 997.5,589.2 998.1,593.0 998.7,588.4 999.3,589.5 999.9,590.0 1000.5,594.4 1001.1,590.5 1001.7,590.7 1002.3,595.9 1002.9,589.3 1003.5,593.7 1004.1,585.5 1004.7,590.3 1005.3,589.0 1006.0,588.6 1006.6,585.6 1007.2,582.8 1007.8,584.9 1008.4,583.6 1009.0,588.8 1009.6,587.5 1010.2,578.5 1010.8,584.9 1011.4,579.8 1012.0,582.7 1012.6,578.1 1013.2,573.3 1013.8,582.4 1014.4,579.3 1015.0,571.6 1015.6,568.0 1016.2,572.6 1016.8,569.1 1017.4,571.5 1018.0,574.6 1018.6,577.1 1019.2,568.5 1019.8,574.5 1020.4,572.3 1021.0,564.2 1021.6,557.3 1022.2,566.0 1022.8,562.8 1023.4,567.8 1024.0,561.5 1024.6,556.2 1025.2,557.6 1025.8,542.9 1026.4,545.3 1027.0,540.1 1027.6,545.8 1028.2,537.4 1028.8,518.0 1029.4,535.7 1030.0,523.8 1030.6,531.2 1031.2,526.8 1031.8,534.6 1032.4,543.3 1033.0,549.5 1033.6,552.8 1034.2,570.5 1034.8,573.0 1035.4,576.8 1036.0,584.1 1036.6,582.6 1037.2,594.4 1037.8,589.9 1038.4,591.7 1039.0,592.6 1039.6,588.6 1040.3,588.2 1040.9,593.8 1041.5,594.6 1042.1,598.5 1042.7,595.5 1043.3,587.8 1043.9,596.2 1044.5,597.4 1045.1,598.2 1045.7,595.9 1046.3,590.4 1046.9,599.1 1047.5,592.4 1048.1,597.2 1048.7,589.6 1049.3,598.0 1049.9,592.5 1050.5,599.3 1051.1,601.7 1051.7,599.7 1052.3,588.9 1052.9,592.2 1053.5,592.5 1054.1,598.0 1054.7,596.9 1055.3,596.3 1055.9,596.9 1056.5,597.8 1057.1,598.1 1057.7,601.8 1058.3,595.7 1058.9,596.6 1059.5,589.4 1060.1,591.3 1060.7,593.5 1061.3,591.8 1061.9,596.7 1062.5,599.6 1063.1,594.5 1063.7,594.3 1064.3,594.2 1064.9,596.5 1065.5,594.1 1066.1,597.5 1066.7,597.1 1067.3,597.3 1067.9,598.7 1068.5,596.2 1069.1,596.6 1069.7,602.2 1070.3,595.9 1070.9,598.9 1071.5,596.3 1072.1,594.5 1072.7,594.5 1073.3,593.3 1073.9,596.2 1074.6,594.0 1075.2,594.7 1075.8,600.4 1076.4,595.7 1077.0,600.1 1077.6,597.1 1078.2,599.2 1078.8,594.0 1079.4,596.7 1080.0,605.3 1080.6,599.1 1081.2,599.7 1081.8,597.0 1082.4,599.2 1083.0,592.2 1083.6,593.2 1084.2,597.7 1084.8,599.0 1085.4,594.8 1086.0,595.6 1086.6,594.2 1087.2,595.6 1087.8,592.0 1088.4,591.2 1089.0,595.9 1089.6,590.2 1090.2,592.8 1090.8,593.9 1091.4,592.6 1092.0,597.0 1092.6,594.7 1093.2,595.9 1093.8,592.7 1094.4,593.6 1095.0,598.0 1095.6,597.5 1096.2,594.6 1096.8,597.5 1097.4,596.8 1098.0,596.7 1098.6,601.7 1099.2,594.8 1099.8,597.6 1100.4,597.6 1101.0,595.4 1101.6,592.2 1102.2,598.6 1102.8,597.1 1103.4,596.4 1104.0,596.3 1104.6,596.3 1105.2,593.1 1105.8,597.2 1106.4,590.0 1107.0,596.1 1107.6,591.0 1108.2,595.0 1108.9,598.6 1109.5,595.3 1110.1,594.5 1110.7,597.9 1111.3,595.2 1111.9,594.7 1112.5,594.8 1113.1,601.4 1113.7,598.4 1114.3,597.8 1114.9,592.1 1115.5,598.3 1116.1,591.7 1116.7,597.8 1117.3,592.3 1117.9,602.9 1118.5,590.3 1119.1,600.3 1119.7,598.9 1120.3,590.0 1120.9,595.3 1121.5,601.1 1122.1,600.0 1122.7,590.4 1123.3,594.3 1123.9,592.1 1124.5,592.6 1125.1,593.9 1125.7,602.5 1126.3,596.6 1126.9,595.4 1127.5,595.0 1128.1,598.4 1128.7,598.5 1129.3,593.0 1129.9,601.2 1130.5,592.4 1131.1,595.2 1131.7,597.7 1132.3,602.0 1132.9,595.0 1133.5,597.1 1134.1,600.6 1134.7,598.3 1135.3,600.0 1135.9,599.7 1136.5,597.0 1137.1,598.3 1137.7,599.3 1138.3,596.0 1138.9,601.6 1139.5,589.4 1140.1,593.0 1140.7,601.1 1141.3,597.6 1141.9,593.9 1142.5,597.4 1143.1,599.9 1143.8,594.2 1144.4,598.8 1145.0,595.7 1145.6,595.8 1146.2,595.9 1146.8,600.0 1147.4,592.3 1148.0,594.9 1148.6,598.4 1149.2,592.0 1149.8,590.8 1150.4,598.1 1151.0,596.2 1151.6,595.7 1152.2,596.7 1152.8,592.9 1153.4,606.1 1154.0,592.8 1154.6,594.7 1155.2,591.3 1155.8,594.8 1156.4,601.4 1157.0,596.2 1157.6,598.2 1158.2,594.5 1158.8,602.4 1159.4,596.7 1160.0,591.9 1160.6,598.8 1161.2,594.9 1161.8,598.2 1162.4,596.7 1163.0,597.1 1163.6,596.6 1164.2,593.1 1164.8,591.1 1165.4,599.5 1166.0,595.7 1166.6,597.2 1167.2,594.6 1167.8,589.3 1168.4,591.8 1169.0,600.9 1169.6,593.5 1170.2,594.9 1170.8,591.2 1171.4,594.4 1172.0,594.9 1172.6,595.4 1173.2,595.9 1173.8,594.0 1174.4,594.2 1175.0,596.1 1175.6,597.3 1176.2,595.7 1176.8,602.1 1177.4,596.9 1178.1,596.9 1178.7,593.9 1179.3,599.7 1179.9,592.7 1180.5,590.7 1181.1,592.9 1181.7,598.3 1182.3,592.3 1182.9,600.6 1183.5,596.1 1184.1,591.0 1184.7,595.4 1185.3,602.2 1185.9,593.3 1186.5,591.7 1187.1,597.9 1187.7,600.6 1188.3,599.6 1188.9,595.1 1189.5,596.8 1190.1,597.3 1190.7,600.2 1191.3,603.5 1191.9,595.8 1192.5,600.6 1193.1,595.0 1193.7,598.2 1194.3,593.0 1194.9,593.6 1195.5,597.6 1196.1,593.1 1196.7,599.2 1197.3,594.3 1197.9,596.4 1198.5,595.9 1199.1,595.0 1199.7,596.6 1200.3,599.8 1200.9,606.7 1201.5,592.2 1202.1,597.2 1202.7,595.6 1203.3,593.1 1203.9,597.1 1204.5,593.2 1205.1,595.9 1205.7,600.4 1206.3,589.3 1206.9,597.0 1207.5,597.7 1208.1,592.9 1208.7,598.0 1209.3,597.4 1209.9,595.0 1210.5,600.3 1211.1,591.8 1211.7,598.4 1212.4,595.4 1213.0,592.6 1213.6,595.6 1214.2,595.0 1214.8,598.9 1215.4,591.1 1216.0,595.5 1216.6,594.6 1217.2,601.5 1217.8,592.4 1218.4,599.8 1219.0,590.3 1219.6,597.3 1220.2,595.7 1220.8,597.5 1221.4,593.8 1222.0,589.6 1222.6,591.0 1223.2,600.6 1223.8,596.9 1224.4,593.2 1225.0,599.2 1225.6,593.6 1226.2,593.7 1226.8,592.1 1227.4,600.1 1228.0,602.8 1228.6,592.9 1229.2,597.1 1229.8,599.4 1230.4,603.3 1231.0,583.0 1231.6,596.6 1232.2,599.4 1232.8,591.1 1233.4,597.5 1234.0,596.8 1234.6,598.6 1235.2,594.2 1235.8,597.5 1236.4,594.1 1237.0,598.2 1237.6,596.6 1238.2,594.8 1238.8,591.4 1239.4,601.7 1240.0,599.8 1240.6,599.1 1241.2,593.9 1241.8,594.9 1242.4,601.7 1243.0,598.6 1243.6,593.3 1244.2,596.3 1244.8,596.6 1245.4,595.4 1246.0,592.9 1246.7,600.3 1247.3,598.1 1247.9,595.5 1248.5,590.8 1249.1,594.2 1249.7,596.1 1250.3,599.1 1250.9,594.9 1251.5,599.9 1252.1,596.6 1252.7,593.7 1253.3,586.8 1253.9,592.2 1254.5,591.2 1255.1,595.7 1255.7,597.3 1256.3,600.8 1256.9,596.1 1257.5,592.3 1258.1,604.1 1258.7,597.2 1259.3,595.3 1259.9,595.3 1260.5,591.7 1261.1,598.3 1261.7,597.4 1262.3,601.5 1262.9,599.9 1263.5,599.1 1264.1,600.4 1264.7,595.3 1265.3,594.7 1265.9,596.0 1266.5,592.0 1267.1,595.7 1267.7,595.1 1268.3,598.5 1268.9,596.2 1269.5,589.8 1270.1,596.3 1270.7,601.0 1271.3,590.1 1271.9,593.7 1272.5,596.3 1273.1,591.8 1273.7,594.4 1274.3,596.4 1274.9,591.8 1275.5,597.3 1276.1,597.6 1276.7,592.0 1277.3,596.4 1277.9,599.9 1278.5,595.7 1279.1,597.7 1279.7,598.4 1280.3,595.5 1281.0,599.6 1281.6,597.6 1282.2,593.0 1282.8,598.1 1283.4,599.2 1284.0,599.0 1284.6,594.2 1285.2,597.9 1285.8,600.9 1286.4,597.1 1287.0,600.3 1287.6,600.7 1288.2,596.2 1288.8,598.6 1289.4,595.4 1290.0,599.9 1290.6,596.0 1291.2,594.5 1291.8,596.3 1292.4,596.1 1293.0,597.6 1293.6,597.9 1294.2,592.5 1294.8,594.2 1295.4,597.6 1296.0,598.0 1296.6,596.7 1297.2,605.2 1297.8,600.1 1298.4,596.1 1299.0,598.8 1299.6,600.9 1300.2,597.6 1300.8,590.6 1301.4,596.7 1302.0,596.6 1302.6,603.5 1303.2,590.3 1303.8,601.6 1304.4,595.9 1305.0,599.5 1305.6,595.5 1306.2,597.0 1306.8,600.2 1307.4,596.7 1308.0,600.0 1308.6,596.2 1309.2,595.1 1309.8,595.7 1310.4,594.8 1311.0,596.1 1311.6,601.0 1312.2,592.6 1312.8,591.0 1313.4,596.4 1314.0,602.1 1314.6,600.0 1315.3,600.9 1315.9,600.7 1316.5,594.1 1317.1,596.9 1317.7,587.6 1318.3,594.5 1318.9,598.5 1319.5,591.3 1320.1,589.7 1320.7,592.2 1321.3,597.3 1321.9,600.4 1322.5,605.2 1323.1,601.3 1323.7,591.5 1324.3,588.8 1324.9,597.1 1325.5,600.1 1326.1,591.2 1326.7,594.8 1327.3,594.3 1327.9,596.7 1328.5,596.0 1329.1,598.3 1329.7,600.1 1330.3,596.9 1330.9,599.1 1331.5,603.3 1332.1,593.2 1332.7,593.2 1333.3,598.3 1333.9,606.6 1334.5,597.2 1335.1,600.3 1335.7,595.7 1336.3,599.7 1336.9,594.6 1337.5,598.9 1338.1,598.0 1338.7,598.0 1339.3,601.3 1339.9,600.3 1340.5,594.7 1341.1,599.7 1341.7,591.1 1342.3,600.0 1342.9,605.9 1343.5,598.5 1344.1,598.5 1344.7,597.0 1345.3,599.6 1345.9,595.3 1346.5,599.0 1347.1,595.9 1347.7,595.4 1348.3,597.2 1348.9,596.6 1349.6,591.1 1350.2,603.7 1350.8,597.3 1351.4,591.2 1352.0,600.4 1352.6,596.8 1353.2,597.5 1353.8,599.2 1354.4,593.9 1355.0,587.1 1355.6,596.5 1356.2,597.7 1356.8,600.2 1357.4,594.4 1358.0,596.0 1358.6,598.2 1359.2,595.8 1359.8,596.0 1360.4,597.7 1361.0,593.6 1361.6,602.1 1362.2,593.8 1362.8,597.0 1363.4,595.8 1364.0,594.5 1364.6,598.6 1365.2,600.2 1365.8,601.7 1366.4,598.8 1367.0,595.4 1367.6,599.7 1368.2,592.1 1368.8,597.0 1369.4,598.6 1370.0,598.7 1370.6,593.0 1371.2,591.9 1371.8,602.3 1372.4,595.1 1373.0,591.4 1373.6,592.7 1374.2,596.9 1374.8,600.7 1375.4,596.8 1376.0,600.8 1376.6,597.5 1377.2,598.4 1377.8,600.0 1378.4,595.5 1379.0,597.8 1379.6,595.5 1380.2,594.7 1380.8,598.9 1381.4,594.0 1382.0,597.0 1382.6,594.1 1383.2,596.4 1383.9,595.0 1384.5,600.4 1385.1,597.0 1385.7,597.0 1386.3,602.2 1386.9,587.1 1387.5,593.0 1388.1,587.6 1388.7,596.6 1389.3,598.1 1389.9,598.8 1390.5,597.5 1391.1,593.7 1391.7,602.4 1392.3,597.6 1392.9,595.7 1393.5,592.9 1394.1,598.0 1394.7,595.0 1395.3,595.1 1395.9,597.3 1396.5,597.3 1397.1,593.9 1397.7,600.7 1398.3,593.3 1398.9,592.9 1399.5,597.6 1400.1,597.0 1400.7,596.8 1401.3,595.2 1401.9,596.7 1402.5,594.7 1403.1,591.1 1403.7,599.0 1404.3,593.2 1404.9,595.8 1405.5,598.9 1406.1,596.6 1406.7,605.6 1407.3,591.9 1407.9,594.1 1408.5,596.8 1409.1,601.0 1409.7,595.7 1410.3,591.8 1410.9,600.3 1411.5,593.5 1412.1,595.9 1412.7,599.4 1413.3,594.3 1413.9,595.0 1414.5,598.1 1415.1,595.4 1415.7,597.4 1416.3,593.4 1416.9,596.1 1417.5,592.9 1418.1,591.4 1418.8,602.3 1419.4,598.0 1420.0,599.5 1420.6,593.3 1421.2,596.4 1421.8,595.8 1422.4,591.8 1423.0,598.3 1423.6,594.1 1424.2,595.8 1424.8,591.5 1425.4,599.7 1426.0,599.0 1426.6,597.8 1427.2,593.5 1427.8,594.7 1428.4,600.5 1429.0,595.6 1429.6,597.4 1430.2,596.9 1430.8,592.8 1431.4,601.5 1432.0,589.9 1432.6,597.2 1433.2,596.2 1433.8,591.1 1434.4,597.6 1435.0,598.2 1435.6,596.6 1436.2,593.7 1436.8,598.0 1437.4,600.1 1438.0,597.2 1438.6,602.1 1439.2,599.3 1439.8,599.0 1440.4,601.1 1441.0,594.3 1441.6,594.8 1442.2,599.2 1442.8,598.2 1443.4,601.4 1444.0,600.2 1444.6,597.1 1445.2,597.2 1445.8,595.6 1446.4,595.3 1447.0,595.0 1447.6,599.5 1448.2,594.0 1448.8,595.3 1449.4,597.0 1450.0,594.8 1450.6,595.8 1451.2,589.3 1451.8,597.8 1452.4,595.5 1453.1,597.2 1453.7,597.8 1454.3,590.5 1454.9,604.5 1455.5,597.1 1456.1,597.2 1456.7,590.8 1457.3,598.7 1457.9,598.1 1458.5,595.6 1459.1,597.6 1459.7,601.0 1460.3,595.7 1460.9,593.9 1461.5,601.3 1462.1,597.8 1462.7,596.3 1463.3,604.5 1463.9,597.5 1464.5,596.4 1465.1,597.8 1465.7,595.6 1466.3,597.6 1466.9,597.4 1467.5,594.8 1468.1,596.1 1468.7,597.9 1469.3,598.2 1469.9,598.8 1470.5,599.5 1471.1,597.7 1471.7,598.6 1472.3,595.6 1472.9,596.0 1473.5,600.3 1474.1,590.4 1474.7,598.1 1475.3,613.7 1475.9,590.8 1476.5,601.8 1477.1,591.0 1477.7,598.0 1478.3,602.1 1478.9,601.6 1479.5,593.8 1480.1,592.5 1480.7,592.0 1481.3,599.0 1481.9,594.8 1482.5,596.7 1483.1,597.5 1483.7,598.0 1484.3,598.4 1484.9,597.0 1485.5,588.3 1486.1,601.4 1486.7,587.6 1487.4,600.7 1488.0,594.6 1488.6,596.0 1489.2,594.9 1489.8,595.4 1490.4,596.5 1491.0,595.7 1491.6,593.0 1492.2,599.4 1492.8,594.7 1493.4,601.0 1494.0,596.1 1494.6,594.3 1495.2,598.0 1495.8,599.5 1496.4,593.5 1497.0,595.6 1497.6,601.3 1498.2,593.3 1498.8,593.8 1499.4,597.1 1500.0,592.6 1500.6,588.5 1501.2,591.1 1501.8,597.8 1502.4,598.7 1503.0,598.5 1503.6,597.9 1504.2,592.5 1504.8,598.8 1505.4,600.3 1506.0,594.3 1506.6,599.7 1507.2,595.4 1507.8,597.2 1508.4,597.8 1509.0,591.7 1509.6,601.4 1510.2,593.8 1510.8,596.2 1511.4,595.0 1512.0,598.1 1512.6,598.0 1513.2,596.6 1513.8,601.2 1514.4,597.5 1515.0,595.3 1515.6,587.1 1516.2,595.7 1516.8,595.6 1517.4,593.7 1518.0,593.8 1518.6,598.5 1519.2,600.0 1519.8,602.8 1520.4,600.3 1521.0,594.3 1521.7,597.4 1522.3,592.1 1522.9,599.0 1523.5,597.8 1524.1,594.6 1524.7,596.2 1525.3,595.8 1525.9,594.5 1526.5,600.9 1527.1,606.7 1527.7,599.3 1528.3,600.0 1528.9,597.1 1529.5,595.4 1530.1,603.8 1530.7,595.4 1531.3,597.9 1531.9,596.2 1532.5,598.5 1533.1,596.4 1533.7,598.5 1534.3,592.4 1534.9,596.2 1535.5,601.1 1536.1,593.2 1536.7,594.4 1537.3,601.1 1537.9,597.9 1538.5,600.1 1539.1,589.3 1539.7,597.1 1540.3,592.4 1540.9,592.0 1541.5,597.9 1542.1,600.4 1542.7,591.7 1543.3,592.9 1543.9,594.7 1544.5,596.1 1545.1,592.2 1545.7,604.0 1546.3,598.5 1546.9,595.4 1547.5,593.9 1548.1,604.2 1548.7,603.9 1549.3,594.9 1549.9,597.7 1550.5,600.7 1551.1,592.7 1551.7,594.6 1552.3,601.0 1552.9,594.3 1553.5,595.1 1554.1,592.1 1554.7,594.0 1555.3,598.8 1556.0,593.8 1556.6,592.2 1557.2,594.4 1557.8,602.3 1558.4,597.1 1559.0,594.6 1559.6,597.0 1560.2,597.9 1560.8,596.9 1561.4,590.5 1562.0,597.5 1562.6,595.8 1563.2,599.2 1563.8,592.0 1564.4,599.9 1565.0,594.8 1565.6,590.8 1566.2,600.8 1566.8,594.7 1567.4,597.7 1568.0,595.9 1568.6,602.2 1569.2,600.1 1569.8,600.1 1570.4,598.8 1571.0,591.1 1571.6,590.9 1572.2,597.1 1572.8,593.3 1573.4,597.9 1574.0,597.0 1574.6,591.7 1575.2,593.0 1575.8,592.7 1576.4,593.5 1577.0,595.7 1577.6,598.6 1578.2,603.5 1578.8,593.2 1579.4,594.5 1580.0,601.5 1580.6,599.3 1581.2,597.2 1581.8,588.6 1582.4,593.1 1583.0,596.9 1583.6,594.4 1584.2,603.0 1584.8,596.7 1585.4,597.3 1586.0,592.7 1586.6,592.9 1587.2,594.2 1587.8,594.3 1588.4,595.6 1589.0,597.6 1589.6,597.2 1590.3,599.7 1590.9,591.9 1591.5,597.1 1592.1,597.2 1592.7,601.6 1593.3,595.6 1593.9,597.4 1594.5,593.7 1595.1,597.8 1595.7,597.7 1596.3,594.3 1596.9,594.9 1597.5,596.2 1598.1,598.3 1598.7,592.5 1599.3,599.3 1599.9,595.2 1600.5,602.6 1601.1,601.2 1601.7,595.0 1602.3,594.3 1602.9,604.5 1603.5,598.4 1604.1,598.2 1604.7,594.9 1605.3,595.9 1605.9,599.0 1606.5,598.4 1607.1,593.6 1607.7,600.4 1608.3,597.3 1608.9,593.2 1609.5,599.6 1610.1,595.7 1610.7,598.9 1611.3,594.5 1611.9,597.5 1612.5,590.9 1613.1,597.5 1613.7,591.3 1614.3,596.8 1614.9,587.9 1615.5,596.1 1616.1,598.7 1616.7,597.9 1617.3,600.2 1617.9,592.7 1618.5,601.5 1619.1,601.6 1619.7,592.3 1620.3,593.6 1620.9,594.4 1621.5,596.2 1622.1,596.9 1622.7,588.1 1623.3,598.2 1623.9,595.4 1624.6,592.8 1625.2,599.4 1625.8,595.1 1626.4,600.0 1627.0,598.0 1627.6,594.5 1628.2,600.1 1628.8,598.9 1629.4,594.5 1630.0,590.8 1630.6,594.3 1631.2,598.2 1631.8,595.4 1632.4,602.0 1633.0,597.0 1633.6,596.8 1634.2,597.5 1634.8,593.2 1635.4,595.7 1636.0,593.9 1636.6,588.3 1637.2,590.2 1637.8,598.5 1638.4,594.6 1639.0,595.6 1639.6,591.1 1640.2,594.1 1640.8,600.2 1641.4,596.3 1642.0,594.2 1642.6,601.1 1643.2,595.8 1643.8,594.8 1644.4,599.7 1645.0,590.1 1645.6,597.7 1646.2,592.1 1646.8,593.2 1647.4,593.5 1648.0,596.2 1648.6,596.2 1649.2,596.8 1649.8,596.4 1650.4,600.4 1651.0,601.4 1651.6,598.0 1652.2,598.2 1652.8,594.3 1653.4,591.9 1654.0,597.5 1654.6,595.6 1655.2,598.3 1655.8,589.2 1656.4,604.3 1657.0,590.9 1657.6,595.3 1658.2,600.4 1658.9,590.2 1659.5,592.9 1660.1,587.8 1660.7,589.7 1661.3,587.7 1661.9,594.5 1662.5,595.0 1663.1,592.6 1663.7,597.8 1664.3,598.0 1664.9,592.8 1665.5,591.7 1666.1,591.1 1666.7,590.0 1667.3,595.7 1667.9,591.4 1668.5,588.1 1669.1,588.5 1669.7,590.6 1670.3,586.4 1670.9,588.2 1671.5,586.1 1672.1,590.4 1672.7,588.8 1673.3,578.3 1673.9,582.0 1674.5,584.3 1675.1,578.9 1675.7,582.6 1676.3,579.9 1676.9,579.8 1677.5,576.4 1678.1,576.9 1678.7,576.8 1679.3,568.4 1679.9,569.7 1680.5,568.7 1681.1,578.6 1681.7,572.8 1682.3,572.7 1682.9,571.8 1683.5,569.0 1684.1,568.2 1684.7,574.7 1685.3,570.3 1685.9,578.4 1686.5,573.5 1687.1,573.6 1687.7,572.8 1688.3,573.5 1688.9,573.9 1689.5,579.3 1690.1,581.8 1690.7,567.3 1691.3,571.4 1691.9,571.5 1692.5,563.3 1693.1,562.3 1693.8,561.2 1694.4,546.3 1695.0,563.6 1695.6,561.2 1696.2,562.2 1696.8,564.6 1697.4,567.5 1698.0,578.1 1698.6,572.4 1699.2,577.6 1699.8,575.1 1700.4,580.8 1701.0,580.6 1701.6,583.3 1702.2,582.4 1702.8,584.3 1703.4,590.2 1704.0,592.4 1704.6,592.3 1705.2,589.1 1705.8,593.2 1706.4,583.8 1707.0,596.3 1707.6,593.3 1708.2,594.6 1708.8,597.9 1709.4,592.7 1710.0,597.6 1710.6,593.0 1711.2,596.5 1711.8,593.4 1712.4,595.9 1713.0,599.9 1713.6,592.8 1714.2,593.1 1714.8,594.1 1715.4,596.3 1716.0,604.6 1716.6,593.5 1717.2,588.6 1717.8,593.3 1718.4,590.3 1719.0,593.7 1719.6,595.7 1720.2,592.5 1720.8,593.4 1721.4,589.5 1722.0,596.4 1722.6,593.3 1723.2,599.5 1723.8,599.4 1724.4,593.0 1725.0,594.7 1725.6,596.1 1726.2,598.5 1726.8,590.5 1727.4,595.8 1728.1,602.2 1728.7,595.8 1729.3,596.8 1729.9,596.1 1730.5,592.2 1731.1,599.3 1731.7,597.0 1732.3,596.7 1732.9,598.6 1733.5,598.8 1734.1,590.0 1734.7,597.8 1735.3,594.3 1735.9,596.8 1736.5,593.9 1737.1,593.4 1737.7,599.4 1738.3,596.3 1738.9,595.4 1739.5,595.4 1740.1,596.6 1740.7,596.3 1741.3,588.6 1741.9,593.5 1742.5,595.6 1743.1,598.8 1743.7,600.9 1744.3,593.3 1744.9,602.8 1745.5,596.7 1746.1,598.0 1746.7,594.7 1747.3,594.5 1747.9,601.2 1748.5,595.8 1749.1,596.2 1749.7,600.3 1750.3,602.1 1750.9,591.6 1751.5,595.9 1752.1,596.5 1752.7,602.5 1753.3,604.6 1753.9,596.4 1754.5,597.8 1755.1,599.4 1755.7,600.3 1756.3,595.6 1756.9,599.4 1757.5,594.3 1758.1,587.9 1758.7,592.1 1759.3,597.3 1759.9,599.2 1760.5,589.3 1761.1,590.8 1761.7,596.6 1762.4,585.7 1763.0,598.5 1763.6,600.1 1764.2,587.0 1764.8,599.2 1765.4,596.1 1766.0,601.3 1766.6,597.7 1767.2,596.0 1767.8,597.1 1768.4,599.8 1769.0,597.4 1769.6,596.9 1770.2,592.1 1770.8,598.4 1771.4,596.9 1772.0,602.8 1772.6,596.8 1773.2,596.5 1773.8,594.8 1774.4,599.2 1775.0,596.2 1775.6,594.5 1776.2,602.0 1776.8,602.6 1777.4,595.4 1778.0,593.5 1778.6,600.5 1779.2,594.1 1779.8,606.0 1780.4,596.4 1781.0,600.0 1781.6,592.7 1782.2,596.8 1782.8,600.4 1783.4,598.3 1784.0,595.1 1784.6,604.8 1785.2,599.3 1785.8,596.1 1786.4,594.9 1787.0,596.0 1787.6,601.3 1788.2,594.4 1788.8,597.0 1789.4,594.2 1790.0,601.0 1790.6,596.4 1791.2,599.7 1791.8,598.7 1792.4,595.0 1793.0,599.2 1793.6,600.0 1794.2,593.2 1794.8,599.2 1795.4,608.5 1796.0,596.0 1796.7,599.0 1797.3,592.6 1797.9,598.4 1798.5,595.0 1799.1,599.4 1799.7,596.8 1800.3,593.1 1800.9,602.9 1801.5,596.2 1802.1,593.6 1802.7,597.1 1803.3,593.8 1803.9,598.2 1804.5,596.7 1805.1,595.7 1805.7,599.1 1806.3,592.8 1806.9,600.1 1807.5,590.4 1808.1,602.2 1808.7,597.5 1809.3,596.1 1809.9,594.5 1810.5,598.7 1811.1,596.4 1811.7,596.4 1812.3,600.3 1812.9,595.5 1813.5,596.2 1814.1,598.3 1814.7,600.4 1815.3,596.5 1815.9,597.5 1816.5,597.1 1817.1,599.4 1817.7,601.8 1818.3,593.9 1818.9,596.5 1819.5,596.8 1820.1,598.9 1820.7,601.8 1821.3,596.9 1821.9,597.6 1822.5,600.6 1823.1,592.9 1823.7,594.4 1824.3,595.5 1824.9,596.9 1825.5,597.7 1826.1,595.3 1826.7,602.6 1827.3,594.6 1827.9,596.3 1828.5,600.5 1829.1,599.5 1829.7,596.9 1830.3,598.2 1831.0,599.6 1831.6,596.9 1832.2,599.0 1832.8,593.9 1833.4,597.2 1834.0,591.6 1834.6,594.0 1835.2,593.2 1835.8,601.0 1836.4,595.4 1837.0,597.9 1837.6,593.9 1838.2,596.2 1838.8,596.0 1839.4,594.1 1840.0,599.7 1840.6,591.5 1841.2,598.9 1841.8,605.5 1842.4,594.2 1843.0,597.0 1843.6,591.8 1844.2,596.8 1844.8,591.2 1845.4,598.9 1846.0,595.2 1846.6,590.8 1847.2,592.6 1847.8,591.6 1848.4,595.9 1849.0,599.6 1849.6,595.5 1850.2,592.9 1850.8,594.0 1851.4,597.1 1852.0,588.8 1852.6,598.6 1853.2,598.0 1853.8,588.7 1854.4,603.0 1855.0,591.3 1855.6,596.0 1856.2,600.5 1856.8,591.3 1857.4,590.6 1858.0,593.0 1858.6,593.1 1859.2,596.2 1859.8,594.9 1860.4,595.0 1861.0,595.0 1861.6,596.0 1862.2,593.8 1862.8,597.7 1863.4,596.6 1864.0,593.3 1864.6,602.6 1865.3,592.4 1865.9,599.0 1866.5,594.2 1867.1,597.8 1867.7,598.3 1868.3,599.4 1868.9,601.3 1869.5,593.9 1870.1,606.0 1870.7,598.0 1871.3,594.0 1871.9,592.2 1872.5,604.3 1873.1,602.0 1873.7,596.6 1874.3,599.2 1874.9,601.0 1875.5,597.0 1876.1,595.3 1876.7,596.6 1877.3,599.5 1877.9,596.8 1878.5,592.7 1879.1,599.2 1879.7,591.1 1880.3,594.3 1880.9,600.8 1881.5,597.5 1882.1,597.5 1882.7,597.1 1883.3,600.1 1883.9,596.5 1884.5,590.3 1885.1,597.5 1885.7,586.7 1886.3,590.0 1886.9,601.9 1887.5,600.1 1888.1,595.2 1888.7,596.5 1889.3,597.0 1889.9,600.0 1890.5,594.2 1891.1,593.8 1891.7,594.6 1892.3,597.2 1892.9,597.6 1893.5,595.4 1894.1,599.2 1894.7,593.4 1895.3,596.5 1895.9,594.4 1896.5,593.4 1897.1,600.7 1897.7,595.7 1898.3,593.4 1898.9,596.8 1899.6,593.4 1900.2,598.7 1900.8,599.5 1901.4,600.1 1902.0,593.2 1902.6,596.2 1903.2,602.7 1903.8,596.0 1904.4,600.8 1905.0,601.7 1905.6,592.2 1906.2,600.7 1906.8,599.2 1907.4,599.6 1908.0,602.2 1908.6,598.2 1909.2,597.0 1909.8,598.7 1910.4,595.6 1911.0,598.3 1911.6,590.1 1912.2,602.4 1912.8,595.0 1913.4,598.5 1914.0,597.7 1914.6,597.1 1915.2,597.1 1915.8,596.9 1916.4,591.4 1917.0,594.9 1917.6,600.6 1918.2,593.4 1918.8,593.3 1919.4,603.6 1920.0,600.7 1920.6,601.8 1921.2,596.7 1921.8,597.6 1922.4,599.2 1923.0,598.5 1923.6,596.4 1924.2,591.9 1924.8,594.3 1925.4,591.8 1926.0,601.8 1926.6,595.4 1927.2,596.1 1927.8,597.6 1928.4,596.7 1929.0,598.4 1929.6,594.6 1930.2,591.7 1930.8,602.4 1931.4,594.3 1932.0,595.1 1932.6,594.0 1933.2,594.8 1933.9,596.7 1934.5,599.1 1935.1,593.2 1935.7,597.6 1936.3,594.4 1936.9,600.5 1937.5,592.6 1938.1,596.9 1938.7,598.9 1939.3,592.2 1939.9,596.9 1940.5,597.1 1941.1,594.0 1941.7,595.9 1942.3,599.8 1942.9,597.4 1943.5,595.2 1944.1,595.9 1944.7,598.0 1945.3,600.7 1945.9,599.1 1946.5,598.9 1947.1,601.6 1947.7,591.6 1948.3,591.9 1948.9,589.2 1949.5,599.2 1950.1,589.2 1950.7,596.4 1951.3,599.0 1951.9,592.0 1952.5,594.4 1953.1,595.7 1953.7,598.9 1954.3,591.6 1954.9,597.5 1955.5,598.8 1956.1,597.0 1956.7,597.0 1957.3,600.5 1957.9,597.2 1958.5,596.4 1959.1,595.4 1959.7,598.6 1960.3,595.6 1960.9,598.6 1961.5,596.8 1962.1,600.1 1962.7,594.0 1963.3,596.7 1963.9,597.6 1964.5,597.8 1965.1,600.1 1965.7,597.8 1966.3,599.4 1966.9,602.8 1967.5,599.2 1968.1,593.1 1968.8,591.9 1969.4,598.6 1970.0,595.3 1970.6,597.4 1971.2,595.9 1971.8,600.7 1972.4,600.3 1973.0,592.9 1973.6,597.4 1974.2,595.5 1974.8,592.3 1975.4,598.6 1976.0,596.0 1976.6,597.9 1977.2,604.4 1977.8,600.7 1978.4,600.0 1979.0,595.2 1979.6,592.7 1980.2,600.5 1980.8,595.5 1981.4,596.6 1982.0,595.3 1982.6,596.8 1983.2,604.2 1983.8,595.5 1984.4,595.6 1985.0,597.1 1985.6,597.4 1986.2,592.7 1986.8,590.8 1987.4,594.6 1988.0,595.8 1988.6,592.4 1989.2,593.3 1989.8,593.5 1990.4,595.2 1991.0,596.1 1991.6,591.2 1992.2,594.7 1992.8,597.6 1993.4,596.0 1994.0,592.1 1994.6,595.3 1995.2,596.3 1995.8,598.9 1996.4,591.2 1997.0,598.6 1997.6,594.9 1998.2,597.0 1998.8,598.6 1999.4,593.6 2000.0,593.8 2000.6,596.0 2001.2,598.7 2001.8,594.7 2002.4,591.9 2003.1,594.2 2003.7,597.6 2004.3,600.1 2004.9,594.8 2005.5,595.3 2006.1,595.8 2006.7,595.9 2007.3,593.4 2007.9,595.0 2008.5,597.0 2009.1,596.7 2009.7,596.4 2010.3,593.2 2010.9,594.6 2011.5,594.1 2012.1,599.7 2012.7,601.0 2013.3,597.4 2013.9,601.4 2014.5,595.4 2015.1,595.4 2015.7,592.2 2016.3,597.1 2016.9,594.9 2017.5,596.6 2018.1,597.9 2018.7,595.6 2019.3,592.8 2019.9,596.2 2020.5,596.1 2021.1,596.5 2021.7,598.5 2022.3,595.7 2022.9,595.5 2023.5,601.8 2024.1,599.8 2024.7,596.1 2025.3,593.4 2025.9,595.0 2026.5,597.6 2027.1,599.1 2027.7,604.0 2028.3,595.6 2028.9,596.9 2029.5,595.3 2030.1,596.7 2030.7,595.2 2031.3,593.1 2031.9,599.7 2032.5,596.9 2033.1,600.5 2033.7,594.9 2034.3,597.8 2034.9,599.8 2035.5,590.6 2036.1,592.3 2036.7,598.8 2037.4,596.8 2038.0,590.7 2038.6,594.2 2039.2,593.2 2039.8,595.0 2040.4,601.3 2041.0,594.7 2041.6,602.9 2042.2,595.7 2042.8,594.2 2043.4,601.4 2044.0,599.5 2044.6,600.9 2045.2,602.6 2045.8,599.9 2046.4,600.4 2047.0,591.2 2047.6,594.0 2048.2,598.0 2048.8,597.2 2049.4,598.8 2050.0,595.1 2050.6,600.1 2051.2,602.9 2051.8,598.4 2052.4,599.2 2053.0,598.2 2053.6,599.5 2054.2,597.3 2054.8,595.0 2055.4,597.3 2056.0,597.0 2056.6,591.8 2057.2,597.4 2057.8,596.7 2058.4,597.3 2059.0,594.9 2059.6,598.2 2060.2,598.6 2060.8,594.4 2061.4,597.7 2062.0,599.1 2062.6,599.0 2063.2,593.7 2063.8,593.4 2064.4,596.7 2065.0,593.3 2065.6,604.4 2066.2,594.0 2066.8,594.1 2067.4,598.6 2068.0,595.1 2068.6,589.2 2069.2,596.1 2069.8,593.4 2070.4,594.9 2071.0,591.4 2071.7,593.6 2072.3,595.9 2072.9,596.2 2073.5,592.9 2074.1,594.2 2074.7,593.7 2075.3,596.8 2075.9,595.9 2076.5,592.4 2077.1,598.4 2077.7,594.2 2078.3,597.6 2078.9,593.5 2079.5,597.3 2080.1,595.9 2080.7,596.5 2081.3,597.9 2081.9,597.7 2082.5,596.8 2083.1,596.8 2083.7,592.3 2084.3,596.1 2084.9,589.5 2085.5,589.3 2086.1,595.3 2086.7,595.6 2087.3,601.0 2087.9,598.4 2088.5,599.8"/>
</g>
<g id="axes" fill="#000" shape-rendering="crispEdges">
<rect x="159" y="30" width="6" height="1432"/>
<rect x="159" y="34" width="1932" height="6"/>
<rect x="159" y="1456" width="1932" height="6"/>
<rect x="2104" y="30" width="6" height="1432"/>
<rect x="434" y="1430" width="6" height="27"/>
<rect x="709" y="1430" width="6" height="27"/>
<rect x="984" y="1430" width="6" height="27"/>
<rect x="1260" y="1430" width="6" height="27"/>
<rect x="1535" y="1430" width="6" height="27"/>
<rect x="1810" y="1430" width="6" height="27"/>
<rect x="2085" y="1430" width="6" height="27"/>
</g>
<g id="ticklabels" class="san" font-size="58.5" text-anchor="middle">
<text x="162.3" y="1536">20</text>
<text x="437.4" y="1536">30</text>
<text x="712.6" y="1536">40</text>
<text x="987.7" y="1536">50</text>
<text x="1262.9" y="1536">60</text>
<text x="1538.0" y="1536">70</text>
<text x="1813.2" y="1536">80</text>
<text x="2088.3" y="1536">90</text>
</g>
<text class="ser" font-size="85" x="1021 1067 1112.8 1135 1166 1200" y="1626.5">2θ/(°)</text>
<text class="ser" font-size="87" text-anchor="middle" transform="translate(67.5,745.4) rotate(-90)">Intensity</text>
<g id="labels" class="ser" font-size="75.5">
<text transform="translate(166.2,525.5) scale(0.975,1)" x="-3">Co-6Ti-11V-3Nb</text>
<text transform="translate(169.0,724.0) scale(0.975,1)" x="-3">Co-6Ti-11V-2Nb</text>
<text transform="translate(165.4,931.0) scale(0.975,1)" x="-3">Co-6Ti-11V-1Nb</text>
<text transform="translate(166.8,1129.5) scale(0.975,1)" x="-3">Co-6Ti-11V-0.5Nb</text>
<text transform="translate(170.1,1362.2) scale(0.975,1)" x="-3">Co-6Ti-11V</text>
</g>
<g id="legend" class="ser" font-size="100">
<text transform="translate(1587.89,127.96) scale(0.9103,0.8399)">♦</text>
<text font-family="DejaVu Sans, sans-serif" transform="translate(1577.80,247.50) scale(0.7411,0.6841)">♣</text>
<text transform="translate(1585.54,356.81) scale(0.9130,0.8604)">♥</text>
<text font-size="88" x="1643.5" y="127.3">-γ</text>
<text font-size="88" x="1643.5" y="245.6">-γ'</text>
<text font-size="88" x="1644" y="356">-Co<tspan font-size="59.5" x="1777" dy="22.5">3</tspan><tspan x="1804" dy="-22.5">V</tspan></text>
</g>
<g id="markers" class="ser" font-size="100">
<text transform="translate(804.47,290.67) scale(0.8857,0.8317)">♦</text>
<text font-family="DejaVu Sans, sans-serif" transform="translate(790.40,356.00) scale(0.7500,0.6772)">♣</text>
<text transform="translate(984.34,402.17) scale(0.8924,0.8317)">♦</text>
<text font-family="DejaVu Sans, sans-serif" transform="translate(981.40,478.20) scale(0.7500,0.6799)">♣</text>
<text transform="rotate(180 1014.50 493.60) translate(987.45,517.21) scale(0.9109,0.8587)">♥</text>
<text transform="translate(753.30,551.61) scale(0.9190,0.8569)">♥</text>
<text transform="translate(880.40,554.32) scale(0.9190,0.8481)">♥</text>
<text transform="translate(1669.57,487.97) scale(0.8834,0.8333)">♦</text>
<text font-family="DejaVu Sans, sans-serif" transform="translate(1649.68,564.30) scale(0.7426,0.6827)">♣</text>
</g>
</svg>
</body></html>
